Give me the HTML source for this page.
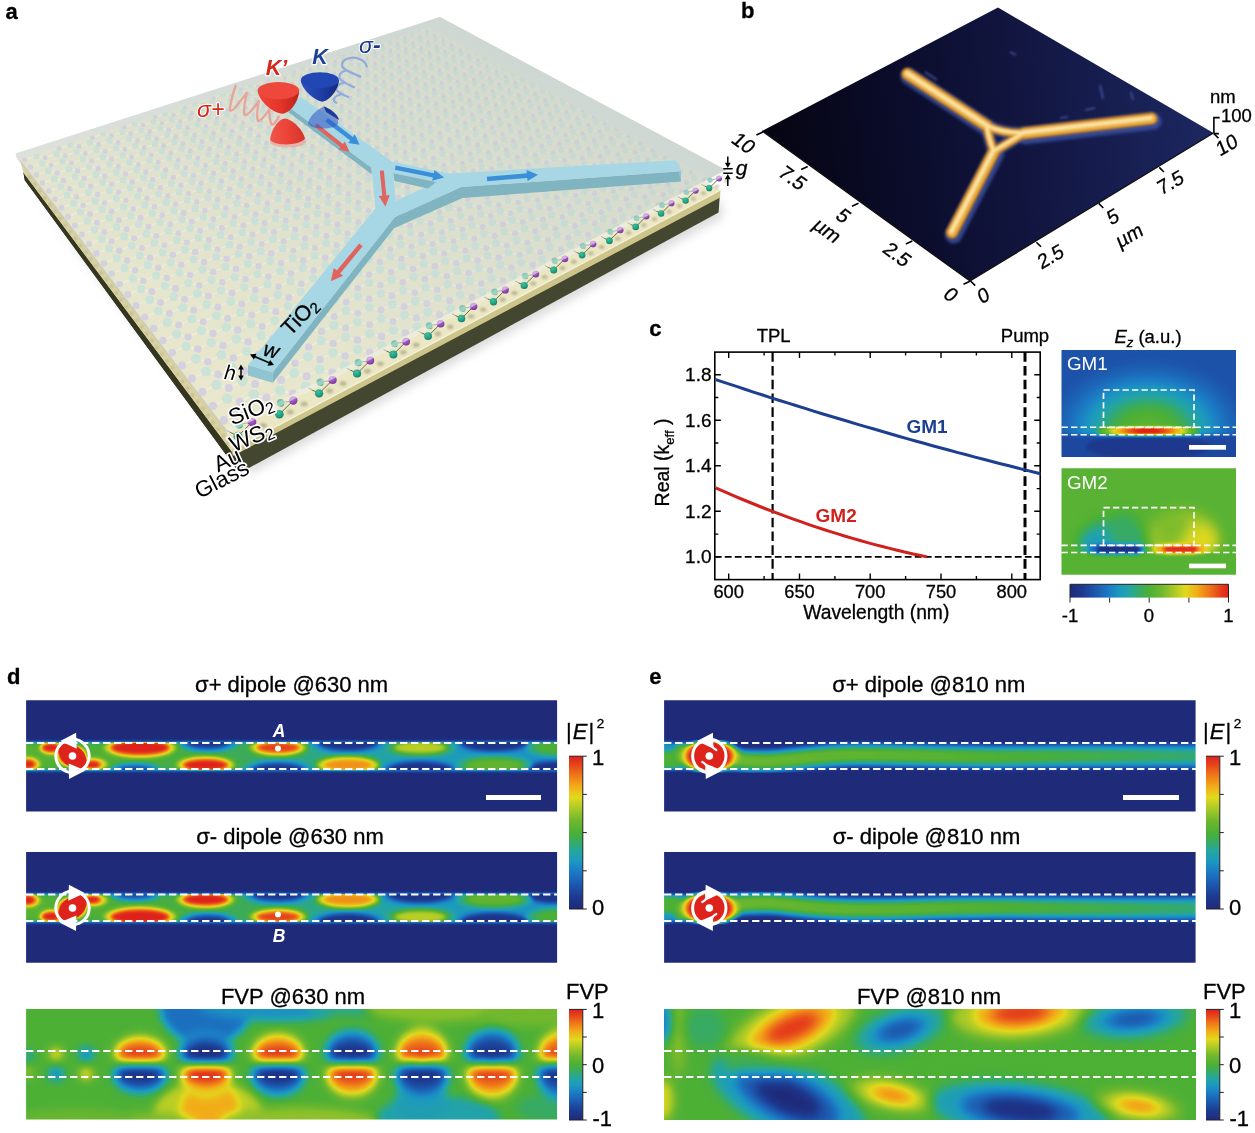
<!DOCTYPE html>
<html><head><meta charset="utf-8"><title>Figure</title>
<style>html,body{margin:0;padding:0;background:#fff}#fig{position:relative;width:1255px;height:1133px;overflow:hidden;background:#fff}#fig>svg{position:absolute;left:0;top:0}</style>
</head><body><div id="fig">
<svg width="1255" height="1133" viewBox="0 0 1255 1133">
<defs><filter id="cm" x="0" y="0" width="1" height="1" color-interpolation-filters="sRGB"><feComponentTransfer><feFuncR type="table" tableValues="0.122 0.119 0.117 0.114 0.113 0.112 0.110 0.110 0.110 0.110 0.109 0.108 0.106 0.114 0.128 0.142 0.170 0.201 0.233 0.265 0.298 0.342 0.386 0.430 0.498 0.572 0.645 0.720 0.796 0.871 0.904 0.927 0.949 0.944 0.939 0.934 0.923 0.911 0.898 0.884 0.871"/><feFuncG type="table" tableValues="0.165 0.184 0.204 0.224 0.257 0.294 0.330 0.369 0.408 0.447 0.489 0.533 0.578 0.608 0.627 0.647 0.658 0.666 0.674 0.682 0.690 0.700 0.710 0.720 0.739 0.761 0.783 0.805 0.826 0.847 0.802 0.740 0.678 0.609 0.539 0.469 0.397 0.324 0.251 0.192 0.133"/><feFuncB type="table" tableValues="0.478 0.505 0.532 0.559 0.594 0.631 0.668 0.699 0.725 0.752 0.768 0.765 0.762 0.732 0.685 0.637 0.546 0.445 0.356 0.284 0.212 0.202 0.192 0.182 0.174 0.165 0.156 0.145 0.131 0.117 0.108 0.101 0.094 0.097 0.099 0.101 0.103 0.104 0.106 0.108 0.110"/></feComponentTransfer></filter><clipPath id="bandclip2"><rect x="-20" y="39.5" width="600" height="33"/></clipPath><clipPath id="bandclip"><rect x="-20" y="42" width="600" height="28"/></clipPath><linearGradient id="cbv" x1="0" y1="1" x2="0" y2="0"><stop offset="0.00" stop-color="#1f2a7a"/><stop offset="0.08" stop-color="#1d3a90"/><stop offset="0.16" stop-color="#1c58ae"/><stop offset="0.24" stop-color="#1c78c4"/><stop offset="0.31" stop-color="#1b98c2"/><stop offset="0.38" stop-color="#25a6a0"/><stop offset="0.44" stop-color="#38ab62"/><stop offset="0.50" stop-color="#4cb036"/><stop offset="0.58" stop-color="#70b82e"/><stop offset="0.66" stop-color="#acca27"/><stop offset="0.73" stop-color="#e2d91d"/><stop offset="0.80" stop-color="#f2ad18"/><stop offset="0.88" stop-color="#ee741a"/><stop offset="0.95" stop-color="#e5401b"/><stop offset="1.00" stop-color="#de221c"/></linearGradient><linearGradient id="cbh" x1="0" y1="0" x2="1" y2="0"><stop offset="0.00" stop-color="#1f2a7a"/><stop offset="0.08" stop-color="#1d3a90"/><stop offset="0.16" stop-color="#1c58ae"/><stop offset="0.24" stop-color="#1c78c4"/><stop offset="0.31" stop-color="#1b98c2"/><stop offset="0.38" stop-color="#25a6a0"/><stop offset="0.44" stop-color="#38ab62"/><stop offset="0.50" stop-color="#4cb036"/><stop offset="0.58" stop-color="#70b82e"/><stop offset="0.66" stop-color="#acca27"/><stop offset="0.73" stop-color="#e2d91d"/><stop offset="0.80" stop-color="#f2ad18"/><stop offset="0.88" stop-color="#ee741a"/><stop offset="0.95" stop-color="#e5401b"/><stop offset="1.00" stop-color="#de221c"/></linearGradient><filter id="b1_5" x="-0.2" y="-0.5" width="1.4" height="2" color-interpolation-filters="sRGB"><feGaussianBlur stdDeviation="1.5"/></filter><filter id="b2" x="-0.2" y="-0.5" width="1.4" height="2" color-interpolation-filters="sRGB"><feGaussianBlur stdDeviation="2"/></filter><filter id="b3" x="-0.2" y="-0.5" width="1.4" height="2" color-interpolation-filters="sRGB"><feGaussianBlur stdDeviation="3"/></filter><filter id="b4" x="-0.2" y="-0.5" width="1.4" height="2" color-interpolation-filters="sRGB"><feGaussianBlur stdDeviation="4"/></filter><filter id="b6" x="-0.2" y="-0.5" width="1.4" height="2" color-interpolation-filters="sRGB"><feGaussianBlur stdDeviation="6"/></filter><filter id="b9" x="-0.2" y="-0.5" width="1.4" height="2" color-interpolation-filters="sRGB"><feGaussianBlur stdDeviation="9"/></filter><linearGradient id="g630" gradientUnits="userSpaceOnUse" x1="0" x2="531" y1="0" y2="0"><stop offset="0" stop-color="#858585"/><stop offset="0.35" stop-color="#787878"/><stop offset="0.6" stop-color="#636363"/><stop offset="0.8" stop-color="#545454"/><stop offset="1" stop-color="#4a4a4a"/></linearGradient><linearGradient id="g810" gradientUnits="userSpaceOnUse" x1="0" x2="531" y1="0" y2="0"><stop offset="0" stop-color="#5c5c5c"/><stop offset="0.6" stop-color="#545454"/><stop offset="1" stop-color="#474747"/></linearGradient><linearGradient id="g810b" gradientUnits="userSpaceOnUse" x1="0" x2="531" y1="0" y2="0"><stop offset="0" stop-color="#949494"/><stop offset="0.5" stop-color="#878787"/><stop offset="0.8" stop-color="#787878"/><stop offset="1" stop-color="#6b6b6b"/></linearGradient><filter id="ablur1" x="-0.3" y="-0.3" width="1.6" height="1.6"><feGaussianBlur stdDeviation="1"/></filter><filter id="ablur05" x="-0.1" y="-0.1" width="1.2" height="1.2"><feGaussianBlur stdDeviation="0.6"/></filter><filter id="ablur4" x="-0.3" y="-0.3" width="1.6" height="1.6"><feGaussianBlur stdDeviation="5"/></filter><filter id="halo" x="-0.3" y="-0.3" width="1.6" height="1.6"><feGaussianBlur stdDeviation="1.2"/></filter><radialGradient id="gteal" cx="0.4" cy="0.3" r="0.8"><stop offset="0" stop-color="#3cc0a2"/><stop offset="0.6" stop-color="#1f9e82"/><stop offset="1" stop-color="#14705c"/></radialGradient><radialGradient id="gpurp" cx="0.4" cy="0.3" r="0.8"><stop offset="0" stop-color="#b36ad6"/><stop offset="0.6" stop-color="#9448b8"/><stop offset="1" stop-color="#6a2f8a"/></radialGradient><linearGradient id="gredcone" x1="0" x2="1" y1="0" y2="0"><stop offset="0" stop-color="#f0453a"/><stop offset="0.55" stop-color="#e53429"/><stop offset="1" stop-color="#b8241c"/></linearGradient><linearGradient id="gredcone2" x1="0" x2="1" y1="0" y2="0"><stop offset="0" stop-color="#f0564a"/><stop offset="0.5" stop-color="#ec4338"/><stop offset="1" stop-color="#d4352b"/></linearGradient><linearGradient id="gbluecone" x1="0" x2="1" y1="0" y2="0"><stop offset="0" stop-color="#2a52c0"/><stop offset="0.5" stop-color="#1f40a8"/><stop offset="1" stop-color="#15297a"/></linearGradient><clipPath id="latclip"><polygon points="19.8,158.9 428.1,27.6 709.8,178.4 226,429"/></clipPath><clipPath id="sio2clip"><polygon points="15.6,153.4 440.0,17.0 726.0,170.0 226.0,429.0"/></clipPath><linearGradient id="gsio2" gradientUnits="userSpaceOnUse" x1="440" y1="17" x2="240" y2="440"><stop offset="0" stop-color="#c9d3cf" stop-opacity="0.74"/><stop offset="0.45" stop-color="#d2dad6" stop-opacity="0.55"/><stop offset="1" stop-color="#e6e9e0" stop-opacity="0.30"/></linearGradient><linearGradient id="afmbg" gradientUnits="userSpaceOnUse" x1="770" y1="150" x2="1200" y2="100"><stop offset="0" stop-color="#050512"/><stop offset="0.3" stop-color="#0b0c2a"/><stop offset="0.6" stop-color="#121641"/><stop offset="1" stop-color="#1c2760"/></linearGradient><filter id="afmblur" x="-0.1" y="-0.1" width="1.2" height="1.2"><feGaussianBlur stdDeviation="1.6"/></filter><filter id="afmblur1" x="-0.1" y="-0.1" width="1.2" height="1.2"><feGaussianBlur stdDeviation="0.9"/></filter><clipPath id="afmclip"><polygon points="762,131 998,7.5 1213.5,133 970,281"/></clipPath><clipPath id="cplot"><rect x="715.5" y="352" width="325" height="227.5"/></clipPath><radialGradient id="gm1glow" cx="0.5" cy="0.5" r="0.5"><stop offset="0" stop-color="#8a8a8a"/><stop offset="0.28" stop-color="#808080"/><stop offset="0.45" stop-color="#666666"/><stop offset="0.62" stop-color="#4c4c4c"/><stop offset="0.82" stop-color="#333333"/><stop offset="1" stop-color="#262626"/></radialGradient><linearGradient id="gm1hot" x1="0" x2="1" y1="0" y2="0"><stop offset="0" stop-color="#737373"/><stop offset="0.1" stop-color="#999999"/><stop offset="0.17" stop-color="#bdbdbd"/><stop offset="0.3" stop-color="#e6e6e6"/><stop offset="0.42" stop-color="#ffffff"/><stop offset="0.58" stop-color="#ffffff"/><stop offset="0.7" stop-color="#e6e6e6"/><stop offset="0.83" stop-color="#bdbdbd"/><stop offset="0.9" stop-color="#999999"/><stop offset="1" stop-color="#737373"/></linearGradient></defs>
<text x="5.5" y="18.6" font-family="Liberation Sans, sans-serif" font-size="22" font-weight="bold" fill="#000" stroke="#000" stroke-width="0.3">a</text><polygon points="30.0,190.0 250.0,474.0 722.0,218.0 722.0,200.0 250.0,450.0" fill="#9a9a9a" opacity="0.35" filter="url(#ablur4)"/><polygon points="15.6,153.4 440.0,17.0 726.0,170.0 226.0,429.0" fill="#dfe2dd"/><polygon points="23.4,172.5 24.8,180.2 238.0,471.0 248.1,468.4 718.6,212.5 720.2,190.0" fill="#44472f"/><polygon points="23.4,172.5 231.0,450.5 233.0,456.0 248.1,468.4 238.0,471.0 24.8,180.2" fill="#34361f"/><polygon points="231.0,450.5 720.2,190.1 720.2,197.5 233.0,456.0" fill="#cdc48c"/><polygon points="23.4,172.5 440.0,31.0 720.2,190.1 231.0,450.5 23.4,172.5" fill="#ebe7c4"/><path d="M231,450.5 L720.2,190.1" stroke="#f7f4da" stroke-width="1.2"/><polygon points="23.4,172.5 231.0,450.5 226.0,429.0 19.8,158.9" fill="#dbd3a3"/><path d="M28.5,176 L236.0,452.5" stroke="#a89f70" stroke-width="3" stroke-dasharray="3.5 5" fill="none" opacity="0.5" filter="url(#ablur1)"/><polygon points="19.8,158.9 428.1,27.6 709.8,178.4 226,429" fill="#ebe7c4"/><g clip-path="url(#latclip)"><g filter="url(#ablur05)"><path d="M36.4,155.9L24.8,159.8M36.4,155.9L45.1,157.7M56.5,153.9L45.1,157.7M56.5,153.9L65.2,155.7M56.5,153.9L59.2,148.4M42.3,163.4L30.5,167.3M42.3,163.4L51.1,165.2M42.3,163.4L45.1,157.7M62.6,161.3L51.1,165.2M62.6,161.3L71.4,163.1M62.6,161.3L65.2,155.7M48.2,171.0L36.4,175.0M48.2,171.0L57.2,172.9M48.2,171.0L51.1,165.2M68.8,168.9L57.2,172.9M68.8,168.9L77.7,170.7M68.8,168.9L71.4,163.1M54.4,178.8L42.5,182.9M54.4,178.8L63.4,180.7M54.4,178.8L57.2,172.9M75.2,176.6L63.4,180.7M75.2,176.6L84.2,178.5M75.2,176.6L77.7,170.7M60.7,186.8L48.7,191.0M60.7,186.8L69.8,188.7M60.7,186.8L63.4,180.7M81.7,184.5L69.8,188.7M81.7,184.5L90.8,186.5M81.7,184.5L84.2,178.5M67.1,195.0L55.0,199.3M67.1,195.0L76.4,196.9M67.1,195.0L69.8,188.7M88.3,192.6L76.4,196.9M88.3,192.6L97.6,194.6M88.3,192.6L90.8,186.5M73.7,203.3L61.5,207.8M73.7,203.3L83.1,205.4M73.7,203.3L76.4,196.9M95.1,201.0L83.1,205.4M95.1,201.0L104.6,203.0M95.1,201.0L97.6,194.6M80.4,211.9L68.1,216.5M80.4,211.9L90.0,214.0M80.4,211.9L83.1,205.4M102.1,209.5L90.0,214.0M102.1,209.5L111.7,211.5M102.1,209.5L104.6,203.0M87.4,220.7L74.9,225.4M87.4,220.7L97.0,222.8M87.4,220.7L90.0,214.0M109.3,218.2L97.0,222.8M109.3,218.2L119.0,220.3M109.3,218.2L111.7,211.5M94.4,229.7L81.9,234.5M94.4,229.7L104.3,231.9M94.4,229.7L97.0,222.8M116.6,227.1L104.3,231.9M116.6,227.1L126.5,229.3M116.6,227.1L119.0,220.3M101.7,239.0L89.1,243.9M101.7,239.0L111.7,241.2M101.7,239.0L104.3,231.9M124.1,236.3L111.7,241.2M124.1,236.3L134.1,238.5M124.1,236.3L126.5,229.3M109.2,248.4L96.4,253.5M109.2,248.4L119.3,250.7M109.2,248.4L111.7,241.2M131.8,245.7L119.3,250.7M131.8,245.7L142.0,248.0M131.8,245.7L134.1,238.5M116.8,258.2L104.0,263.4M116.8,258.2L127.1,260.5M116.8,258.2L119.3,250.7M139.8,255.4L127.1,260.5M139.8,255.4L150.1,257.7M139.8,255.4L142.0,248.0M124.7,268.2L111.7,273.5M124.7,268.2L135.1,270.6M124.7,268.2L127.1,260.5M147.9,265.3L135.1,270.6M147.9,265.3L158.3,267.7M147.9,265.3L150.1,257.7M132.8,278.4L119.7,283.9M132.8,278.4L143.4,280.9M132.8,278.4L135.1,270.6M156.2,275.4L143.4,280.9M156.2,275.4L166.8,277.9M156.2,275.4L158.3,267.7M141.0,289.0L127.8,294.6M141.0,289.0L151.8,291.5M141.0,289.0L143.4,280.9M164.8,285.9L151.8,291.5M164.8,285.9L175.6,288.4M164.8,285.9L166.8,277.9M149.6,299.8L136.2,305.6M149.6,299.8L160.5,302.4M149.6,299.8L151.8,291.5M173.6,296.6L160.5,302.4M173.6,296.6L184.6,299.2M173.6,296.6L175.6,288.4M158.3,310.9L144.9,316.9M158.3,310.9L169.4,313.6M158.3,310.9L160.5,302.4M182.6,307.7L169.4,313.6M182.6,307.7L193.8,310.3M182.6,307.7L184.6,299.2M167.3,322.3L153.8,328.5M167.3,322.3L178.6,325.1M167.3,322.3L169.4,313.6M191.9,319.0L178.6,325.1M191.9,319.0L203.3,321.7M191.9,319.0L193.8,310.3M176.6,334.1L162.9,340.5M176.6,334.1L188.1,337.0M176.6,334.1L178.6,325.1M201.5,330.7L188.1,337.0M201.5,330.7L213.0,333.5M201.5,330.7L203.3,321.7M186.1,346.2L172.3,352.8M186.1,346.2L197.8,349.1M186.1,346.2L188.1,337.0M211.3,342.7L197.8,349.1M211.3,342.7L223.1,345.6M211.3,342.7L213.0,333.5M195.9,358.7L182.0,365.5M195.9,358.7L207.8,361.7M195.9,358.7L197.8,349.1M221.5,355.0L207.8,361.7M221.5,355.0L233.4,358.0M221.5,355.0L223.1,345.6M206.0,371.6L192.0,378.5M206.0,371.6L218.2,374.6M206.0,371.6L207.8,361.7M231.9,367.8L218.2,374.6M231.9,367.8L244.1,370.8M231.9,367.8L233.4,358.0M216.5,384.8L202.3,392.0M216.5,384.8L228.8,388.0M216.5,384.8L218.2,374.6M242.7,380.9L228.8,388.0M242.7,380.9L255.1,384.0M242.7,380.9L244.1,370.8M227.2,398.5L212.9,405.9M227.2,398.5L239.8,401.7M227.2,398.5L228.8,388.0M253.8,394.4L239.8,401.7M253.8,394.4L266.4,397.6M253.8,394.4L255.1,384.0M238.3,412.5L223.8,420.2M238.3,412.5L251.1,415.9M238.3,412.5L239.8,401.7M265.2,408.3L251.1,415.9M265.2,408.3L278.1,411.7M265.2,408.3L266.4,397.6M249.7,427.1L235.1,435.0M249.7,427.1L262.8,430.6M249.7,427.1L251.1,415.9M277.0,422.7L262.8,430.6M277.0,422.7L278.1,411.7M70.4,144.7L59.2,148.4M70.4,144.7L79.0,146.4M90.0,142.8L79.0,146.4M90.0,142.8L98.6,144.5M90.0,142.8L92.3,137.5M76.5,151.9L65.2,155.7M76.5,151.9L85.2,153.6M76.5,151.9L79.0,146.4M96.3,149.9L85.2,153.6M96.3,149.9L105.1,151.6M96.3,149.9L98.6,144.5M82.8,159.2L71.4,163.1M82.8,159.2L91.6,161.0M82.8,159.2L85.2,153.6M102.8,157.2L91.6,161.0M102.8,157.2L111.7,159.0M102.8,157.2L105.1,151.6M89.2,166.7L77.7,170.7M89.2,166.7L98.2,168.6M89.2,166.7L91.6,161.0M109.4,164.6L98.2,168.6M109.4,164.6L118.4,166.5M109.4,164.6L111.7,159.0M95.8,174.4L84.2,178.5M95.8,174.4L104.8,176.3M95.8,174.4L98.2,168.6M116.2,172.3L104.8,176.3M116.2,172.3L125.3,174.1M116.2,172.3L118.4,166.5M102.5,182.3L90.8,186.5M102.5,182.3L111.7,184.2M102.5,182.3L104.8,176.3M123.1,180.1L111.7,184.2M123.1,180.1L132.3,182.0M123.1,180.1L125.3,174.1M109.4,190.4L97.6,194.6M109.4,190.4L118.7,192.3M109.4,190.4L111.7,184.2M130.2,188.1L118.7,192.3M130.2,188.1L139.6,190.0M130.2,188.1L132.3,182.0M116.4,198.6L104.6,203.0M116.4,198.6L125.9,200.6M116.4,198.6L118.7,192.3M137.5,196.3L125.9,200.6M137.5,196.3L147.0,198.3M137.5,196.3L139.6,190.0M123.6,207.1L111.7,211.5M123.6,207.1L133.2,209.1M123.6,207.1L125.9,200.6M144.9,204.7L133.2,209.1M144.9,204.7L154.5,206.7M144.9,204.7L147.0,198.3M131.0,215.7L119.0,220.3M131.0,215.7L140.7,217.8M131.0,215.7L133.2,209.1M152.5,213.3L140.7,217.8M152.5,213.3L162.3,215.3M152.5,213.3L154.5,206.7M138.6,224.6L126.5,229.3M138.6,224.6L148.4,226.7M138.6,224.6L140.7,217.8M160.3,222.1L148.4,226.7M160.3,222.1L170.2,224.2M160.3,222.1L162.3,215.3M146.3,233.7L134.1,238.5M146.3,233.7L156.4,235.9M146.3,233.7L148.4,226.7M168.4,231.1L156.4,235.9M168.4,231.1L178.4,233.3M168.4,231.1L170.2,224.2M154.3,243.0L142.0,248.0M154.3,243.0L164.5,245.3M154.3,243.0L156.4,235.9M176.6,240.3L164.5,245.3M176.6,240.3L186.8,242.6M176.6,240.3L178.4,233.3M162.5,252.6L150.1,257.7M162.5,252.6L172.8,254.9M162.5,252.6L164.5,245.3M185.0,249.8L172.8,254.9M185.0,249.8L195.3,252.1M185.0,249.8L186.8,242.6M170.9,262.4L158.3,267.7M170.9,262.4L181.3,264.8M170.9,262.4L172.8,254.9M193.6,259.6L181.3,264.8M193.6,259.6L204.1,261.9M193.6,259.6L195.3,252.1M179.5,272.5L166.8,277.9M179.5,272.5L190.1,274.9M179.5,272.5L181.3,264.8M202.5,269.6L190.1,274.9M202.5,269.6L213.2,272.0M202.5,269.6L204.1,261.9M188.3,282.9L175.6,288.4M188.3,282.9L199.1,285.4M188.3,282.9L190.1,274.9M211.6,279.9L199.1,285.4M211.6,279.9L222.4,282.3M211.6,279.9L213.2,272.0M197.4,293.5L184.6,299.2M197.4,293.5L208.4,296.1M197.4,293.5L199.1,285.4M221.0,290.4L208.4,296.1M221.0,290.4L232.0,292.9M221.0,290.4L222.4,282.3M206.7,304.4L193.8,310.3M206.7,304.4L217.9,307.1M206.7,304.4L208.4,296.1M230.6,301.2L217.9,307.1M230.6,301.2L241.8,303.9M230.6,301.2L232.0,292.9M216.3,315.7L203.3,321.7M216.3,315.7L227.7,318.4M216.3,315.7L217.9,307.1M240.5,312.4L227.7,318.4M240.5,312.4L251.8,315.1M240.5,312.4L241.8,303.9M226.2,327.2L213.0,333.5M226.2,327.2L237.7,330.0M226.2,327.2L227.7,318.4M250.6,323.8L237.7,330.0M250.6,323.8L262.2,326.6M250.6,323.8L251.8,315.1M236.3,339.1L223.1,345.6M236.3,339.1L248.1,342.0M236.3,339.1L237.7,330.0M261.1,335.6L248.1,342.0M261.1,335.6L272.9,338.5M261.1,335.6L262.2,326.6M246.8,351.4L233.4,358.0M246.8,351.4L258.8,354.3M246.8,351.4L248.1,342.0M271.8,347.8L258.8,354.3M271.8,347.8L283.8,350.7M271.8,347.8L272.9,338.5M257.5,364.0L244.1,370.8M257.5,364.0L269.7,367.0M257.5,364.0L258.8,354.3M282.9,360.3L269.7,367.0M282.9,360.3L295.1,363.3M282.9,360.3L283.8,350.7M268.6,377.0L255.1,384.0M268.6,377.0L281.0,380.1M268.6,377.0L269.7,367.0M294.3,373.1L281.0,380.1M294.3,373.1L306.7,376.2M294.3,373.1L295.1,363.3M280.1,390.4L266.4,397.6M280.1,390.4L292.7,393.6M280.1,390.4L281.0,380.1M306.1,386.4L292.7,393.6M306.1,386.4L318.7,389.6M306.1,386.4L306.7,376.2M291.8,404.2L278.1,411.7M291.8,404.2L304.7,407.5M291.8,404.2L292.7,393.6M318.2,400.1L304.7,407.5M318.2,400.1L318.7,389.6M103.1,133.9L92.3,137.5M103.1,133.9L111.7,135.6M122.3,132.0L111.7,135.6M122.3,132.0L130.8,133.7M122.3,132.0L124.3,126.9M109.5,140.8L98.6,144.5M109.5,140.8L118.1,142.5M109.5,140.8L111.7,135.6M128.8,138.9L118.1,142.5M128.8,138.9L137.5,140.6M128.8,138.9L130.8,133.7M116.0,147.9L105.1,151.6M116.0,147.9L124.8,149.6M116.0,147.9L118.1,142.5M135.5,145.9L124.8,149.6M135.5,145.9L144.3,147.7M135.5,145.9L137.5,140.6M122.7,155.2L111.7,159.0M122.7,155.2L131.6,156.9M122.7,155.2L124.8,149.6M142.4,153.1L131.6,156.9M142.4,153.1L151.3,154.9M142.4,153.1L144.3,147.7M129.5,162.6L118.4,166.5M129.5,162.6L138.5,164.4M129.5,162.6L131.6,156.9M149.4,160.5L138.5,164.4M149.4,160.5L158.4,162.3M149.4,160.5L151.3,154.9M136.5,170.1L125.3,174.1M136.5,170.1L145.6,172.0M136.5,170.1L138.5,164.4M156.6,168.0L145.6,172.0M156.6,168.0L165.7,169.9M156.6,168.0L158.4,162.3M143.6,177.9L132.3,182.0M143.6,177.9L152.8,179.8M143.6,177.9L145.6,172.0M163.9,175.7L152.8,179.8M163.9,175.7L173.2,177.6M163.9,175.7L165.7,169.9M150.9,185.8L139.6,190.0M150.9,185.8L160.3,187.8M150.9,185.8L152.8,179.8M171.4,183.6L160.3,187.8M171.4,183.6L180.8,185.5M171.4,183.6L173.2,177.6M158.4,194.0L147.0,198.3M158.4,194.0L167.9,195.9M158.4,194.0L160.3,187.8M179.1,191.7L167.9,195.9M179.1,191.7L188.6,193.6M179.1,191.7L180.8,185.5M166.1,202.3L154.5,206.7M166.1,202.3L175.7,204.3M166.1,202.3L167.9,195.9M187.0,199.9L175.7,204.3M187.0,199.9L196.7,201.9M187.0,199.9L188.6,193.6M173.9,210.8L162.3,215.3M173.9,210.8L183.7,212.9M173.9,210.8L175.7,204.3M195.1,208.4L183.7,212.9M195.1,208.4L204.9,210.4M195.1,208.4L196.7,201.9M181.9,219.5L170.2,224.2M181.9,219.5L191.8,221.7M181.9,219.5L183.7,212.9M203.4,217.1L191.8,221.7M203.4,217.1L213.3,219.2M203.4,217.1L204.9,210.4M190.2,228.5L178.4,233.3M190.2,228.5L200.2,230.7M190.2,228.5L191.8,221.7M211.8,225.9L200.2,230.7M211.8,225.9L221.9,228.1M211.8,225.9L213.3,219.2M198.6,237.7L186.8,242.6M198.6,237.7L208.8,239.9M198.6,237.7L200.2,230.7M220.5,235.1L208.8,239.9M220.5,235.1L230.7,237.3M220.5,235.1L221.9,228.1M207.3,247.1L195.3,252.1M207.3,247.1L217.7,249.4M207.3,247.1L208.8,239.9M229.4,244.4L217.7,249.4M229.4,244.4L239.8,246.7M229.4,244.4L230.7,237.3M216.2,256.8L204.1,261.9M216.2,256.8L226.7,259.1M216.2,256.8L217.7,249.4M238.6,254.0L226.7,259.1M238.6,254.0L249.1,256.3M238.6,254.0L239.8,246.7M225.3,266.7L213.2,272.0M225.3,266.7L236.0,269.1M225.3,266.7L226.7,259.1M247.9,263.8L236.0,269.1M247.9,263.8L258.6,266.2M247.9,263.8L249.1,256.3M234.7,276.9L222.4,282.3M234.7,276.9L245.5,279.3M234.7,276.9L236.0,269.1M257.6,273.9L245.5,279.3M257.6,273.9L268.4,276.4M257.6,273.9L258.6,266.2M244.3,287.3L232.0,292.9M244.3,287.3L255.3,289.9M244.3,287.3L245.5,279.3M267.5,284.3L255.3,289.9M267.5,284.3L278.5,286.8M267.5,284.3L268.4,276.4M254.2,298.1L241.8,303.9M254.2,298.1L265.4,300.7M254.2,298.1L255.3,289.9M277.6,295.0L265.4,300.7M277.6,295.0L288.8,297.5M277.6,295.0L278.5,286.8M264.4,309.1L251.8,315.1M264.4,309.1L275.8,311.8M264.4,309.1L265.4,300.7M288.1,305.9L275.8,311.8M288.1,305.9L299.5,308.5M288.1,305.9L288.8,297.5M274.8,320.5L262.2,326.6M274.8,320.5L286.4,323.2M274.8,320.5L275.8,311.8M298.8,317.2L286.4,323.2M298.8,317.2L310.4,319.9M298.8,317.2L299.5,308.5M285.6,332.2L272.9,338.5M285.6,332.2L297.4,335.0M285.6,332.2L286.4,323.2M309.8,328.7L297.4,335.0M309.8,328.7L321.6,331.5M309.8,328.7L310.4,319.9M296.6,344.2L283.8,350.7M296.6,344.2L308.6,347.1M296.6,344.2L297.4,335.0M321.2,340.6L308.6,347.1M321.2,340.6L333.2,343.5M321.2,340.6L321.6,331.5M308.0,356.6L295.1,363.3M308.0,356.6L320.2,359.5M308.0,356.6L308.6,347.1M332.9,352.9L320.2,359.5M332.9,352.9L345.1,355.9M332.9,352.9L333.2,343.5M319.7,369.3L306.7,376.2M319.7,369.3L332.2,372.4M319.7,369.3L320.2,359.5M344.9,365.5L332.2,372.4M344.9,365.5L357.4,368.6M344.9,365.5L345.1,355.9M331.8,382.4L318.7,389.6M331.8,382.4L344.5,385.6M331.8,382.4L332.2,372.4M357.3,378.5L344.5,385.6M357.3,378.5L357.4,368.6M134.7,123.5L124.3,126.9M134.7,123.5L143.1,125.1M153.4,121.7L143.1,125.1M153.4,121.7L161.8,123.3M153.4,121.7L155.1,116.7M141.3,130.2L130.8,133.7M141.3,130.2L149.8,131.8M141.3,130.2L143.1,125.1M160.2,128.3L149.8,131.8M160.2,128.3L168.7,130.0M160.2,128.3L161.8,123.3M148.0,137.0L137.5,140.6M148.0,137.0L156.7,138.7M148.0,137.0L149.8,131.8M167.1,135.1L156.7,138.7M167.1,135.1L175.8,136.8M167.1,135.1L168.7,130.0M154.9,144.0L144.3,147.7M154.9,144.0L163.7,145.7M154.9,144.0L156.7,138.7M174.2,142.1L163.7,145.7M174.2,142.1L182.9,143.8M174.2,142.1L175.8,136.8M162.0,151.1L151.3,154.9M162.0,151.1L170.9,152.9M162.0,151.1L163.7,145.7M181.4,149.1L170.9,152.9M181.4,149.1L190.3,150.9M181.4,149.1L182.9,143.8M169.2,158.4L158.4,162.3M169.2,158.4L178.2,160.2M169.2,158.4L170.9,152.9M188.8,156.4L178.2,160.2M188.8,156.4L197.8,158.2M188.8,156.4L190.3,150.9M176.6,165.9L165.7,169.9M176.6,165.9L185.7,167.7M176.6,165.9L178.2,160.2M196.4,163.8L185.7,167.7M196.4,163.8L205.5,165.6M196.4,163.8L197.8,158.2M184.1,173.6L173.2,177.6M184.1,173.6L193.4,175.4M184.1,173.6L185.7,167.7M204.1,171.4L193.4,175.4M204.1,171.4L213.4,173.3M204.1,171.4L205.5,165.6M191.8,181.4L180.8,185.5M191.8,181.4L201.2,183.3M191.8,181.4L193.4,175.4M212.0,179.2L201.2,183.3M212.0,179.2L221.4,181.1M212.0,179.2L213.4,173.3M199.7,189.4L188.6,193.6M199.7,189.4L209.2,191.3M199.7,189.4L201.2,183.3M220.1,187.1L209.2,191.3M220.1,187.1L229.7,189.1M220.1,187.1L221.4,181.1M207.8,197.6L196.7,201.9M207.8,197.6L217.5,199.6M207.8,197.6L209.2,191.3M228.4,195.3L217.5,199.6M228.4,195.3L238.1,197.3M228.4,195.3L229.7,189.1M216.1,206.0L204.9,210.4M216.1,206.0L225.9,208.0M216.1,206.0L217.5,199.6M236.9,203.6L225.9,208.0M236.9,203.6L246.7,205.6M236.9,203.6L238.1,197.3M224.6,214.6L213.3,219.2M224.6,214.6L234.5,216.7M224.6,214.6L225.9,208.0M245.6,212.1L234.5,216.7M245.6,212.1L255.6,214.2M245.6,212.1L246.7,205.6M233.3,223.4L221.9,228.1M233.3,223.4L243.4,225.5M233.3,223.4L234.5,216.7M254.6,220.9L243.4,225.5M254.6,220.9L264.7,223.0M254.6,220.9L255.6,214.2M242.2,232.4L230.7,237.3M242.2,232.4L252.4,234.6M242.2,232.4L243.4,225.5M263.7,229.9L252.4,234.6M263.7,229.9L274.0,232.0M263.7,229.9L264.7,223.0M251.3,241.7L239.8,246.7M251.3,241.7L261.7,244.0M251.3,241.7L252.4,234.6M273.1,239.1L261.7,244.0M273.1,239.1L283.5,241.3M273.1,239.1L274.0,232.0M260.7,251.2L249.1,256.3M260.7,251.2L271.3,253.5M260.7,251.2L261.7,244.0M282.7,248.5L271.3,253.5M282.7,248.5L293.3,250.8M282.7,248.5L283.5,241.3M270.4,261.0L258.6,266.2M270.4,261.0L281.1,263.3M270.4,261.0L271.3,253.5M292.6,258.2L281.1,263.3M292.6,258.2L303.3,260.5M292.6,258.2L293.3,250.8M280.2,271.0L268.4,276.4M280.2,271.0L291.1,273.4M280.2,271.0L281.1,263.3M302.7,268.1L291.1,273.4M302.7,268.1L313.6,270.5M302.7,268.1L303.3,260.5M290.4,281.3L278.5,286.8M290.4,281.3L301.4,283.8M290.4,281.3L291.1,273.4M313.1,278.3L301.4,283.8M313.1,278.3L324.2,280.8M313.1,278.3L313.6,270.5M300.8,291.8L288.8,297.5M300.8,291.8L312.1,294.4M300.8,291.8L301.4,283.8M323.8,288.8L312.1,294.4M323.8,288.8L335.0,291.3M323.8,288.8L324.2,280.8M311.5,302.7L299.5,308.5M311.5,302.7L322.9,305.3M311.5,302.7L312.1,294.4M334.8,299.5L322.9,305.3M334.8,299.5L346.2,302.1M334.8,299.5L335.0,291.3M322.5,313.9L310.4,319.9M322.5,313.9L334.2,316.5M322.5,313.9L322.9,305.3M346.0,310.6L334.2,316.5M346.0,310.6L357.7,313.3M346.0,310.6L346.2,302.1M333.8,325.3L321.6,331.5M333.8,325.3L345.7,328.1M333.8,325.3L334.2,316.5M357.6,322.0L345.7,328.1M357.6,322.0L369.5,324.7M357.6,322.0L357.7,313.3M345.5,337.1L333.2,343.5M345.5,337.1L357.5,340.0M345.5,337.1L345.7,328.1M369.6,333.7L357.5,340.0M369.6,333.7L381.6,336.5M369.6,333.7L369.5,324.7M357.5,349.3L345.1,355.9M357.5,349.3L369.7,352.2M357.5,349.3L357.5,340.0M381.8,345.7L369.7,352.2M381.8,345.7L394.1,348.6M381.8,345.7L381.6,336.5M369.8,361.8L357.4,368.6M369.8,361.8L382.3,364.8M369.8,361.8L369.7,352.2M394.5,358.1L382.3,364.8M394.5,358.1L394.1,348.6M165.1,113.4L155.1,116.7M165.1,113.4L173.5,115.0M183.4,111.7L173.5,115.0M183.4,111.7L191.8,113.2M183.4,111.7L184.8,106.9M171.9,119.9L161.8,123.3M171.9,119.9L180.4,121.5M171.9,119.9L173.5,115.0M190.3,118.1L180.4,121.5M190.3,118.1L198.8,119.7M190.3,118.1L191.8,113.2M178.9,126.5L168.7,130.0M178.9,126.5L187.5,128.1M178.9,126.5L180.4,121.5M197.5,124.7L187.5,128.1M197.5,124.7L206.1,126.3M197.5,124.7L198.8,119.7M186.0,133.2L175.8,136.8M186.0,133.2L194.7,134.9M186.0,133.2L187.5,128.1M204.7,131.4L194.7,134.9M204.7,131.4L213.4,133.0M204.7,131.4L206.1,126.3M193.2,140.1L182.9,143.8M193.2,140.1L202.0,141.8M193.2,140.1L194.7,134.9M212.2,138.2L202.0,141.8M212.2,138.2L221.0,139.9M212.2,138.2L213.4,133.0M200.7,147.2L190.3,150.9M200.7,147.2L209.6,148.9M200.7,147.2L202.0,141.8M219.8,145.2L209.6,148.9M219.8,145.2L228.7,146.9M219.8,145.2L221.0,139.9M208.2,154.4L197.8,158.2M208.2,154.4L217.3,156.1M208.2,154.4L209.6,148.9M227.6,152.4L217.3,156.1M227.6,152.4L236.6,154.1M227.6,152.4L228.7,146.9M216.0,161.7L205.5,165.6M216.0,161.7L225.2,163.5M216.0,161.7L217.3,156.1M235.5,159.7L225.2,163.5M235.5,159.7L244.7,161.5M235.5,159.7L236.6,154.1M223.9,169.3L213.4,173.3M223.9,169.3L233.2,171.1M223.9,169.3L225.2,163.5M243.6,167.2L233.2,171.1M243.6,167.2L252.9,169.0M243.6,167.2L244.7,161.5M232.1,177.0L221.4,181.1M232.1,177.0L241.5,178.9M232.1,177.0L233.2,171.1M251.9,174.8L241.5,178.9M251.9,174.8L261.4,176.7M251.9,174.8L252.9,169.0M240.4,184.9L229.7,189.1M240.4,184.9L249.9,186.8M240.4,184.9L241.5,178.9M260.4,182.7L249.9,186.8M260.4,182.7L270.0,184.6M260.4,182.7L261.4,176.7M248.9,193.0L238.1,197.3M248.9,193.0L258.6,194.9M248.9,193.0L249.9,186.8M269.2,190.7L258.6,194.9M269.2,190.7L278.8,192.6M269.2,190.7L270.0,184.6M257.6,201.2L246.7,205.6M257.6,201.2L267.4,203.3M257.6,201.2L258.6,194.9M278.1,198.9L267.4,203.3M278.1,198.9L287.9,200.9M278.1,198.9L278.8,192.6M266.5,209.7L255.6,214.2M266.5,209.7L276.5,211.8M266.5,209.7L267.4,203.3M287.2,207.3L276.5,211.8M287.2,207.3L297.2,209.4M287.2,207.3L287.9,200.9M275.6,218.4L264.7,223.0M275.6,218.4L285.8,220.5M275.6,218.4L276.5,211.8M296.6,215.9L285.8,220.5M296.6,215.9L306.7,218.0M296.6,215.9L297.2,209.4M285.0,227.3L274.0,232.0M285.0,227.3L295.3,229.5M285.0,227.3L285.8,220.5M306.2,224.8L295.3,229.5M306.2,224.8L316.4,226.9M306.2,224.8L306.7,218.0M294.6,236.4L283.5,241.3M294.6,236.4L305.0,238.6M294.6,236.4L295.3,229.5M316.0,233.8L305.0,238.6M316.0,233.8L326.4,236.0M316.0,233.8L316.4,226.9M304.5,245.8L293.3,250.8M304.5,245.8L315.1,248.0M304.5,245.8L305.0,238.6M326.1,243.1L315.1,248.0M326.1,243.1L336.7,245.3M326.1,243.1L326.4,236.0M314.6,255.4L303.3,260.5M314.6,255.4L325.3,257.7M314.6,255.4L315.1,248.0M336.4,252.6L325.3,257.7M336.4,252.6L347.2,254.9M336.4,252.6L336.7,245.3M325.0,265.2L313.6,270.5M325.0,265.2L335.9,267.6M325.0,265.2L325.3,257.7M347.0,262.4L335.9,267.6M347.0,262.4L357.9,264.8M347.0,262.4L347.2,254.9M335.6,275.3L324.2,280.8M335.6,275.3L346.7,277.8M335.6,275.3L335.9,267.6M357.9,272.4L346.7,277.8M357.9,272.4L369.0,274.8M357.9,272.4L357.9,264.8M346.5,285.7L335.0,291.3M346.5,285.7L357.8,288.2M346.5,285.7L346.7,277.8M369.1,282.7L357.8,288.2M369.1,282.7L380.4,285.2M369.1,282.7L369.0,274.8M357.8,296.4L346.2,302.1M357.8,296.4L369.2,299.0M357.8,296.4L357.8,288.2M380.6,293.3L369.2,299.0M380.6,293.3L392.1,295.8M380.6,293.3L380.4,285.2M369.3,307.4L357.7,313.3M369.3,307.4L381.0,310.0M369.3,307.4L369.2,299.0M392.4,304.2L381.0,310.0M392.4,304.2L404.1,306.8M392.4,304.2L392.1,295.8M381.2,318.6L369.5,324.7M381.2,318.6L393.0,321.4M381.2,318.6L381.0,310.0M404.5,315.3L393.0,321.4M404.5,315.3L416.4,318.0M404.5,315.3L404.1,306.8M393.4,330.2L381.6,336.5M393.4,330.2L405.5,333.0M393.4,330.2L393.0,321.4M417.0,326.8L405.5,333.0M417.0,326.8L429.1,329.6M417.0,326.8L416.4,318.0M405.9,342.2L394.1,348.6M405.9,342.2L418.2,345.0M405.9,342.2L405.5,333.0M429.8,338.7L418.2,345.0M429.8,338.7L429.1,329.6M194.5,103.7L184.8,106.9M194.5,103.7L202.8,105.2M212.3,102.1L202.8,105.2M212.3,102.1L220.6,103.6M212.3,102.1L213.5,97.4M201.5,110.0L191.8,113.2M201.5,110.0L209.9,111.5M201.5,110.0L202.8,105.2M219.5,108.3L209.9,111.5M219.5,108.3L227.9,109.8M219.5,108.3L220.6,103.6M208.6,116.4L198.8,119.7M208.6,116.4L217.1,117.9M208.6,116.4L209.9,111.5M226.8,114.6L217.1,117.9M226.8,114.6L235.3,116.2M226.8,114.6L227.9,109.8M215.9,122.9L206.1,126.3M215.9,122.9L224.5,124.5M215.9,122.9L217.1,117.9M234.2,121.1L224.5,124.5M234.2,121.1L242.9,122.7M234.2,121.1L235.3,116.2M223.4,129.5L213.4,133.0M223.4,129.5L232.1,131.2M223.4,129.5L224.5,124.5M241.9,127.7L232.1,131.2M241.9,127.7L250.6,129.3M241.9,127.7L242.9,122.7M231.0,136.3L221.0,139.9M231.0,136.3L239.8,138.0M231.0,136.3L232.1,131.2M249.6,134.5L239.8,138.0M249.6,134.5L258.5,136.1M249.6,134.5L250.6,129.3M238.8,143.3L228.7,146.9M238.8,143.3L247.7,145.0M238.8,143.3L239.8,138.0M257.6,141.4L247.7,145.0M257.6,141.4L266.5,143.0M257.6,141.4L258.5,136.1M246.7,150.4L236.6,154.1M246.7,150.4L255.8,152.1M246.7,150.4L247.7,145.0M265.7,148.4L255.8,152.1M265.7,148.4L274.8,150.1M265.7,148.4L266.5,143.0M254.8,157.7L244.7,161.5M254.8,157.7L264.0,159.4M254.8,157.7L255.8,152.1M274.0,155.6L264.0,159.4M274.0,155.6L283.2,157.4M274.0,155.6L274.8,150.1M263.2,165.1L252.9,169.0M263.2,165.1L272.5,166.9M263.2,165.1L264.0,159.4M282.5,163.0L272.5,166.9M282.5,163.0L291.9,164.8M282.5,163.0L283.2,157.4M271.7,172.7L261.4,176.7M271.7,172.7L281.1,174.5M271.7,172.7L272.5,166.9M291.2,170.6L281.1,174.5M291.2,170.6L300.7,172.4M291.2,170.6L291.9,164.8M280.4,180.5L270.0,184.6M280.4,180.5L289.9,182.4M280.4,180.5L281.1,174.5M300.1,178.3L289.9,182.4M300.1,178.3L309.7,180.2M300.1,178.3L300.7,172.4M289.3,188.4L278.8,192.6M289.3,188.4L299.0,190.4M289.3,188.4L289.9,182.4M309.2,186.2L299.0,190.4M309.2,186.2L318.9,188.1M309.2,186.2L309.7,180.2M298.4,196.6L287.9,200.9M298.4,196.6L308.2,198.6M298.4,196.6L299.0,190.4M318.5,194.3L308.2,198.6M318.5,194.3L328.4,196.2M318.5,194.3L318.9,188.1M307.7,204.9L297.2,209.4M307.7,204.9L317.7,207.0M307.7,204.9L308.2,198.6M328.1,202.6L317.7,207.0M328.1,202.6L338.1,204.6M328.1,202.6L328.4,196.2M317.3,213.5L306.7,218.0M317.3,213.5L327.4,215.6M317.3,213.5L317.7,207.0M337.9,211.0L327.4,215.6M337.9,211.0L348.0,213.1M337.9,211.0L338.1,204.6M327.1,222.2L316.4,226.9M327.1,222.2L337.4,224.4M327.1,222.2L327.4,215.6M347.9,219.7L337.4,224.4M347.9,219.7L358.2,221.9M347.9,219.7L348.0,213.1M337.2,231.2L326.4,236.0M337.2,231.2L347.6,233.4M337.2,231.2L337.4,224.4M358.1,228.7L347.6,233.4M358.1,228.7L368.6,230.8M358.1,228.7L358.2,221.9M347.5,240.4L336.7,245.3M347.5,240.4L358.1,242.7M347.5,240.4L347.6,233.4M368.7,237.8L358.1,242.7M368.7,237.8L379.3,240.0M368.7,237.8L368.6,230.8M358.0,249.9L347.2,254.9M358.0,249.9L368.8,252.2M358.0,249.9L358.1,242.7M379.5,247.2L368.8,252.2M379.5,247.2L390.3,249.4M379.5,247.2L379.3,240.0M368.9,259.6L357.9,264.8M368.9,259.6L379.8,261.9M368.9,259.6L368.8,252.2M390.5,256.8L379.8,261.9M390.5,256.8L401.5,259.1M390.5,256.8L390.3,249.4M380.0,269.5L369.0,274.8M380.0,269.5L391.1,271.9M380.0,269.5L379.8,261.9M401.9,266.6L391.1,271.9M401.9,266.6L413.0,269.0M401.9,266.6L401.5,259.1M391.4,279.7L380.4,285.2M391.4,279.7L402.7,282.2M391.4,279.7L391.1,271.9M413.6,276.8L402.7,282.2M413.6,276.8L424.9,279.2M413.6,276.8L413.0,269.0M403.2,290.2L392.1,295.8M403.2,290.2L414.7,292.8M403.2,290.2L402.7,282.2M425.5,287.2L414.7,292.8M425.5,287.2L437.1,289.7M425.5,287.2L424.9,279.2M415.2,301.0L404.1,306.8M415.2,301.0L426.9,303.6M415.2,301.0L414.7,292.8M437.9,297.9L426.9,303.6M437.9,297.9L449.6,300.4M437.9,297.9L437.1,289.7M427.6,312.1L416.4,318.0M427.6,312.1L439.5,314.7M427.6,312.1L426.9,303.6M450.5,308.8L439.5,314.7M450.5,308.8L462.4,311.5M450.5,308.8L449.6,300.4M440.4,323.5L429.1,329.6M440.4,323.5L452.5,326.2M440.4,323.5L439.5,314.7M463.5,320.1L452.5,326.2M463.5,320.1L462.4,311.5M222.9,94.4L213.5,97.4M222.9,94.4L231.1,95.8M240.3,92.7L231.1,95.8M240.3,92.7L248.5,94.2M240.3,92.7L241.3,88.3M230.0,100.4L220.6,103.6M230.0,100.4L238.3,101.9M230.0,100.4L231.1,95.8M247.6,98.8L238.3,101.9M247.6,98.8L255.9,100.2M247.6,98.8L248.5,94.2M237.3,106.6L227.9,109.8M237.3,106.6L245.8,108.1M237.3,106.6L238.3,101.9M255.1,104.9L245.8,108.1M255.1,104.9L263.5,106.4M255.1,104.9L255.9,100.2M244.8,112.9L235.3,116.2M244.8,112.9L253.3,114.4M244.8,112.9L245.8,108.1M262.7,111.1L253.3,114.4M262.7,111.1L271.2,112.7M262.7,111.1L263.5,106.4M252.4,119.3L242.9,122.7M252.4,119.3L261.1,120.9M252.4,119.3L253.3,114.4M270.5,117.5L261.1,120.9M270.5,117.5L279.1,119.1M270.5,117.5L271.2,112.7M260.2,125.9L250.6,129.3M260.2,125.9L268.9,127.5M260.2,125.9L261.1,120.9M278.4,124.1L268.9,127.5M278.4,124.1L287.2,125.7M278.4,124.1L279.1,119.1M268.2,132.6L258.5,136.1M268.2,132.6L277.0,134.2M268.2,132.6L268.9,127.5M286.5,130.7L277.0,134.2M286.5,130.7L295.4,132.4M286.5,130.7L287.2,125.7M276.3,139.4L266.5,143.0M276.3,139.4L285.3,141.1M276.3,139.4L277.0,134.2M294.8,137.5L285.3,141.1M294.8,137.5L303.8,139.2M294.8,137.5L295.4,132.4M284.6,146.5L274.8,150.1M284.6,146.5L293.7,148.2M284.6,146.5L285.3,141.1M303.3,144.5L293.7,148.2M303.3,144.5L312.4,146.2M303.3,144.5L303.8,139.2M293.1,153.6L283.2,157.4M293.1,153.6L302.3,155.4M293.1,153.6L293.7,148.2M312.0,151.6L302.3,155.4M312.0,151.6L321.2,153.4M312.0,151.6L312.4,146.2M301.8,160.9L291.9,164.8M301.8,160.9L311.1,162.7M301.8,160.9L302.3,155.4M320.8,158.9L311.1,162.7M320.8,158.9L330.2,160.7M320.8,158.9L321.2,153.4M310.6,168.4L300.7,172.4M310.6,168.4L320.1,170.3M310.6,168.4L311.1,162.7M329.9,166.3L320.1,170.3M329.9,166.3L339.4,168.2M329.9,166.3L330.2,160.7M319.7,176.1L309.7,180.2M319.7,176.1L329.3,178.0M319.7,176.1L320.1,170.3M339.2,174.0L329.3,178.0M339.2,174.0L348.8,175.8M339.2,174.0L339.4,168.2M329.0,184.0L318.9,188.1M329.0,184.0L338.8,185.9M329.0,184.0L329.3,178.0M348.7,181.7L338.8,185.9M348.7,181.7L358.4,183.6M348.7,181.7L348.8,175.8M338.5,192.0L328.4,196.2M338.5,192.0L348.4,193.9M338.5,192.0L338.8,185.9M358.4,189.7L348.4,193.9M358.4,189.7L368.2,191.7M358.4,189.7L358.4,183.6M348.3,200.2L338.1,204.6M348.3,200.2L358.3,202.2M348.3,200.2L348.4,193.9M368.3,197.9L358.3,202.2M368.3,197.9L378.3,199.9M368.3,197.9L368.2,191.7M358.3,208.6L348.0,213.1M358.3,208.6L368.4,210.7M358.3,208.6L358.3,202.2M378.5,206.2L368.4,210.7M378.5,206.2L388.7,208.3M378.5,206.2L378.3,199.9M368.5,217.3L358.2,221.9M368.5,217.3L378.8,219.4M368.5,217.3L368.4,210.7M388.9,214.8L378.8,219.4M388.9,214.8L399.2,216.9M388.9,214.8L388.7,208.3M379.0,226.1L368.6,230.8M379.0,226.1L389.4,228.3M379.0,226.1L378.8,219.4M399.6,223.6L389.4,228.3M399.6,223.6L410.1,225.7M399.6,223.6L399.2,216.9M389.7,235.2L379.3,240.0M389.7,235.2L400.3,237.4M389.7,235.2L389.4,228.3M410.5,232.6L400.3,237.4M410.5,232.6L421.2,234.8M410.5,232.6L410.1,225.7M400.7,244.5L390.3,249.4M400.7,244.5L411.5,246.7M400.7,244.5L400.3,237.4M421.8,241.8L411.5,246.7M421.8,241.8L432.6,244.0M421.8,241.8L421.2,234.8M412.0,254.0L401.5,259.1M412.0,254.0L423.0,256.3M412.0,254.0L411.5,246.7M433.3,251.3L423.0,256.3M433.3,251.3L444.3,253.6M433.3,251.3L432.6,244.0M423.6,263.8L413.0,269.0M423.6,263.8L434.8,266.2M423.6,263.8L423.0,256.3M445.1,261.0L434.8,266.2M445.1,261.0L456.3,263.3M445.1,261.0L444.3,253.6M435.5,273.8L424.9,279.2M435.5,273.8L446.8,276.3M435.5,273.8L434.8,266.2M457.2,270.9L446.8,276.3M457.2,270.9L468.6,273.3M457.2,270.9L456.3,263.3M447.7,284.2L437.1,289.7M447.7,284.2L459.2,286.6M447.7,284.2L446.8,276.3M469.7,281.2L459.2,286.6M469.7,281.2L481.2,283.6M469.7,281.2L468.6,273.3M460.3,294.7L449.6,300.4M460.3,294.7L472.0,297.3M460.3,294.7L459.2,286.6M482.5,291.7L472.0,297.3M482.5,291.7L494.2,294.2M482.5,291.7L481.2,283.6M473.2,305.6L462.4,311.5M473.2,305.6L485.1,308.3M473.2,305.6L472.0,297.3M495.6,302.5L485.1,308.3M495.6,302.5L494.2,294.2M250.3,85.3L241.3,88.3M250.3,85.3L258.4,86.7M267.3,83.8L258.4,86.7M267.3,83.8L275.5,85.2M267.3,83.8L268.1,79.4M257.6,91.2L248.5,94.2M257.6,91.2L265.8,92.6M257.6,91.2L258.4,86.7M274.8,89.6L265.8,92.6M274.8,89.6L283.0,91.0M274.8,89.6L275.5,85.2M265.1,97.1L255.9,100.2M265.1,97.1L273.4,98.6M265.1,97.1L265.8,92.6M282.4,95.5L273.4,98.6M282.4,95.5L290.7,97.0M282.4,95.5L283.0,91.0M272.7,103.2L263.5,106.4M272.7,103.2L281.1,104.7M272.7,103.2L273.4,98.6M290.2,101.6L281.1,104.7M290.2,101.6L298.6,103.0M290.2,101.6L290.7,97.0M280.5,109.4L271.2,112.7M280.5,109.4L289.0,111.0M280.5,109.4L281.1,104.7M298.1,107.7L289.0,111.0M298.1,107.7L306.6,109.3M298.1,107.7L298.6,103.0M288.4,115.8L279.1,119.1M288.4,115.8L297.0,117.3M288.4,115.8L289.0,111.0M306.2,114.0L297.0,117.3M306.2,114.0L314.9,115.6M306.2,114.0L306.6,109.3M296.5,122.3L287.2,125.7M296.5,122.3L305.3,123.9M296.5,122.3L297.0,117.3M314.5,120.5L305.3,123.9M314.5,120.5L323.2,122.1M314.5,120.5L314.9,115.6M304.8,128.9L295.4,132.4M304.8,128.9L313.7,130.5M304.8,128.9L305.3,123.9M322.9,127.1L313.7,130.5M322.9,127.1L331.8,128.7M322.9,127.1L323.2,122.1M313.3,135.7L303.8,139.2M313.3,135.7L322.2,137.3M313.3,135.7L313.7,130.5M331.5,133.8L322.2,137.3M331.5,133.8L340.5,135.4M331.5,133.8L331.8,128.7M321.9,142.6L312.4,146.2M321.9,142.6L331.0,144.3M321.9,142.6L322.2,137.3M340.3,140.7L331.0,144.3M340.3,140.7L349.5,142.3M340.3,140.7L340.5,135.4M330.7,149.6L321.2,153.4M330.7,149.6L340.0,151.4M330.7,149.6L331.0,144.3M349.4,147.7L340.0,151.4M349.4,147.7L358.6,149.4M349.4,147.7L349.5,142.3M339.8,156.9L330.2,160.7M339.8,156.9L349.1,158.6M339.8,156.9L340.0,151.4M358.6,154.9L349.1,158.6M358.6,154.9L367.9,156.6M358.6,154.9L358.6,149.4M349.0,164.3L339.4,168.2M349.0,164.3L358.5,166.1M349.0,164.3L349.1,158.6M368.0,162.2L358.5,166.1M368.0,162.2L377.5,164.0M368.0,162.2L367.9,156.6M358.5,171.8L348.8,175.8M358.5,171.8L368.1,173.7M358.5,171.8L358.5,166.1M377.6,169.7L368.1,173.7M377.6,169.7L387.2,171.5M377.6,169.7L377.5,164.0M368.1,179.6L358.4,183.6M368.1,179.6L377.9,181.4M368.1,179.6L368.1,173.7M387.5,177.4L377.9,181.4M387.5,177.4L397.2,179.3M387.5,177.4L387.2,171.5M378.0,187.5L368.2,191.7M378.0,187.5L387.9,189.4M378.0,187.5L377.9,181.4M397.5,185.2L387.9,189.4M397.5,185.2L407.4,187.2M397.5,185.2L397.2,179.3M388.2,195.6L378.3,199.9M388.2,195.6L398.2,197.5M388.2,195.6L387.9,189.4M407.9,193.3L398.2,197.5M407.9,193.3L417.9,195.2M407.9,193.3L407.4,187.2M398.5,203.9L388.7,208.3M398.5,203.9L408.7,205.9M398.5,203.9L398.2,197.5M418.4,201.5L408.7,205.9M418.4,201.5L428.6,203.5M418.4,201.5L417.9,195.2M409.2,212.4L399.2,216.9M409.2,212.4L419.5,214.4M409.2,212.4L408.7,205.9M429.3,210.0L419.5,214.4M429.3,210.0L439.6,212.0M429.3,210.0L428.6,203.5M420.1,221.1L410.1,225.7M420.1,221.1L430.6,223.2M420.1,221.1L419.5,214.4M440.3,218.6L430.6,223.2M440.3,218.6L450.8,220.7M440.3,218.6L439.6,212.0M431.2,230.0L421.2,234.8M431.2,230.0L441.9,232.2M431.2,230.0L430.6,223.2M451.7,227.5L441.9,232.2M451.7,227.5L462.4,229.6M451.7,227.5L450.8,220.7M442.7,239.2L432.6,244.0M442.7,239.2L453.5,241.4M442.7,239.2L441.9,232.2M463.4,236.5L453.5,241.4M463.4,236.5L474.2,238.7M463.4,236.5L462.4,229.6M454.4,248.5L444.3,253.6M454.4,248.5L465.4,250.8M454.4,248.5L453.5,241.4M475.3,245.8L465.4,250.8M475.3,245.8L486.3,248.1M475.3,245.8L474.2,238.7M466.4,258.2L456.3,263.3M466.4,258.2L477.6,260.5M466.4,258.2L465.4,250.8M487.6,255.4L477.6,260.5M487.6,255.4L498.7,257.7M487.6,255.4L486.3,248.1M478.8,268.1L468.6,273.3M478.8,268.1L490.1,270.4M478.8,268.1L477.6,260.5M500.1,265.2L490.1,270.4M500.1,265.2L511.5,267.6M500.1,265.2L498.7,257.7M491.5,278.2L481.2,283.6M491.5,278.2L503.0,280.6M491.5,278.2L490.1,270.4M513.0,275.3L503.0,280.6M513.0,275.3L524.6,277.7M513.0,275.3L511.5,267.6M504.5,288.6L494.2,294.2M504.5,288.6L516.2,291.1M504.5,288.6L503.0,280.6M526.3,285.6L516.2,291.1M526.3,285.6L524.6,277.7M276.8,76.5L268.1,79.4M276.8,76.5L284.8,77.9M293.5,75.1L284.8,77.9M293.5,75.1L301.5,76.4M293.5,75.1L294.0,70.9M284.3,82.2L275.5,85.2M284.3,82.2L292.4,83.6M284.3,82.2L284.8,77.9M301.1,80.7L292.4,83.6M301.1,80.7L309.2,82.1M301.1,80.7L301.5,76.4M291.9,88.0L283.0,91.0M291.9,88.0L300.1,89.4M291.9,88.0L292.4,83.6M308.8,86.4L300.1,89.4M308.8,86.4L317.1,87.9M308.8,86.4L309.2,82.1M299.6,93.9L290.7,97.0M299.6,93.9L308.0,95.3M299.6,93.9L300.1,89.4M316.7,92.3L308.0,95.3M316.7,92.3L325.1,93.7M316.7,92.3L317.1,87.9M307.5,99.9L298.6,103.0M307.5,99.9L316.0,101.4M307.5,99.9L308.0,95.3M324.8,98.3L316.0,101.4M324.8,98.3L333.2,99.7M324.8,98.3L325.1,93.7M315.6,106.1L306.6,109.3M315.6,106.1L324.2,107.6M315.6,106.1L316.0,101.4M333.0,104.4L324.2,107.6M333.0,104.4L341.6,105.9M333.0,104.4L333.2,99.7M323.9,112.3L314.9,115.6M323.9,112.3L332.5,113.9M323.9,112.3L324.2,107.6M341.4,110.6L332.5,113.9M341.4,110.6L350.1,112.1M341.4,110.6L341.6,105.9M332.3,118.7L323.2,122.1M332.3,118.7L341.1,120.3M332.3,118.7L332.5,113.9M350.0,117.0L341.1,120.3M350.0,117.0L358.8,118.5M350.0,117.0L350.1,112.1M340.9,125.3L331.8,128.7M340.9,125.3L349.8,126.9M340.9,125.3L341.1,120.3M358.7,123.5L349.8,126.9M358.7,123.5L367.6,125.1M358.7,123.5L358.8,118.5M349.7,131.9L340.5,135.4M349.7,131.9L358.7,133.6M349.7,131.9L349.8,126.9M367.7,130.1L358.7,133.6M367.7,130.1L376.7,131.7M367.7,130.1L367.6,125.1M358.6,138.8L349.5,142.3M358.6,138.8L367.8,140.4M358.6,138.8L358.7,133.6M376.8,136.9L367.8,140.4M376.8,136.9L386.0,138.5M376.8,136.9L376.7,131.7M367.8,145.7L358.6,149.4M367.8,145.7L377.1,147.4M367.8,145.7L367.8,140.4M386.2,143.8L377.1,147.4M386.2,143.8L395.4,145.5M386.2,143.8L386.0,138.5M377.2,152.9L367.9,156.6M377.2,152.9L386.6,154.6M377.2,152.9L377.1,147.4M395.7,150.9L386.6,154.6M395.7,150.9L405.1,152.6M395.7,150.9L395.4,145.5M386.8,160.1L377.5,164.0M386.8,160.1L396.3,161.9M386.8,160.1L386.6,154.6M405.5,158.1L396.3,161.9M405.5,158.1L415.0,159.9M405.5,158.1L405.1,152.6M396.6,167.6L387.2,171.5M396.6,167.6L406.2,169.4M396.6,167.6L396.3,161.9M415.4,165.5L406.2,169.4M415.4,165.5L425.1,167.3M415.4,165.5L415.0,159.9M406.6,175.2L397.2,179.3M406.6,175.2L416.4,177.1M406.6,175.2L406.2,169.4M425.6,173.1L416.4,177.1M425.6,173.1L435.4,174.9M425.6,173.1L425.1,167.3M416.9,183.0L407.4,187.2M416.9,183.0L426.8,184.9M416.9,183.0L416.4,177.1M436.1,180.8L426.8,184.9M436.1,180.8L446.0,182.7M436.1,180.8L435.4,174.9M427.4,191.0L417.9,195.2M427.4,191.0L437.5,193.0M427.4,191.0L426.8,184.9M446.8,188.8L437.5,193.0M446.8,188.8L456.8,190.7M446.8,188.8L446.0,182.7M438.2,199.2L428.6,203.5M438.2,199.2L448.4,201.2M438.2,199.2L437.5,193.0M457.7,196.9L448.4,201.2M457.7,196.9L467.9,198.9M457.7,196.9L456.8,190.7M449.2,207.6L439.6,212.0M449.2,207.6L459.5,209.6M449.2,207.6L448.4,201.2M468.9,205.2L459.5,209.6M468.9,205.2L479.3,207.2M468.9,205.2L467.9,198.9M460.5,216.1L450.8,220.7M460.5,216.1L471.0,218.2M460.5,216.1L459.5,209.6M480.4,213.7L471.0,218.2M480.4,213.7L490.9,215.8M480.4,213.7L479.3,207.2M472.0,224.9L462.4,229.6M472.0,224.9L482.7,227.1M472.0,224.9L471.0,218.2M492.2,222.4L482.7,227.1M492.2,222.4L502.9,224.5M492.2,222.4L490.9,215.8M483.9,233.9L474.2,238.7M483.9,233.9L494.7,236.1M483.9,233.9L482.7,227.1M504.2,231.4L494.7,236.1M504.2,231.4L515.1,233.5M504.2,231.4L502.9,224.5M496.0,243.2L486.3,248.1M496.0,243.2L507.0,245.4M496.0,243.2L494.7,236.1M516.6,240.5L507.0,245.4M516.6,240.5L527.6,242.7M516.6,240.5L515.1,233.5M508.5,252.6L498.7,257.7M508.5,252.6L519.7,254.9M508.5,252.6L507.0,245.4M529.3,249.9L519.7,254.9M529.3,249.9L540.4,252.2M529.3,249.9L527.6,242.7M521.3,262.4L511.5,267.6M521.3,262.4L532.7,264.7M521.3,262.4L519.7,254.9M542.3,259.6L532.7,264.7M542.3,259.6L553.6,261.9M542.3,259.6L540.4,252.2M534.4,272.3L524.6,277.7M534.4,272.3L546.0,274.8M534.4,272.3L532.7,264.7M555.6,269.5L546.0,274.8M555.6,269.5L553.6,261.9M302.4,68.1L294.0,70.9M302.4,68.1L310.4,69.4M318.8,66.6L310.4,69.4M318.8,66.6L326.7,68.0M318.8,66.6L319.1,62.6M310.0,73.6L301.5,76.4M310.0,73.6L318.1,74.9M310.0,73.6L310.4,69.4M326.5,72.1L318.1,74.9M326.5,72.1L334.5,73.5M326.5,72.1L326.7,68.0M317.8,79.2L309.2,82.1M317.8,79.2L325.9,80.6M317.8,79.2L318.1,74.9M334.3,77.7L325.9,80.6M334.3,77.7L342.5,79.0M334.3,77.7L334.5,73.5M325.6,84.9L317.1,87.9M325.6,84.9L333.9,86.3M325.6,84.9L325.9,80.6M342.4,83.3L333.9,86.3M342.4,83.3L350.6,84.7M342.4,83.3L342.5,79.0M333.7,90.7L325.1,93.7M333.7,90.7L342.1,92.1M333.7,90.7L333.9,86.3M350.5,89.1L342.1,92.1M350.5,89.1L358.9,90.6M350.5,89.1L350.6,84.7M341.9,96.7L333.2,99.7M341.9,96.7L350.4,98.1M341.9,96.7L342.1,92.1M358.9,95.0L350.4,98.1M358.9,95.0L367.4,96.5M358.9,95.0L358.9,90.6M350.3,102.7L341.6,105.9M350.3,102.7L358.8,104.2M350.3,102.7L350.4,98.1M367.4,101.1L358.8,104.2M367.4,101.1L376.0,102.5M367.4,101.1L367.4,96.5M358.8,108.9L350.1,112.1M358.8,108.9L367.5,110.4M358.8,108.9L358.8,104.2M376.1,107.2L367.5,110.4M376.1,107.2L384.8,108.7M376.1,107.2L376.0,102.5M367.5,115.2L358.8,118.5M367.5,115.2L376.3,116.8M367.5,115.2L367.5,110.4M385.0,113.5L376.3,116.8M385.0,113.5L393.8,115.0M385.0,113.5L384.8,108.7M376.5,121.7L367.6,125.1M376.5,121.7L385.4,123.3M376.5,121.7L376.3,116.8M394.0,119.9L385.4,123.3M394.0,119.9L403.0,121.5M394.0,119.9L393.8,115.0M385.6,128.3L376.7,131.7M385.6,128.3L394.6,129.9M385.6,128.3L385.4,123.3M403.3,126.5L394.6,129.9M403.3,126.5L412.3,128.1M403.3,126.5L403.0,121.5M394.9,135.0L386.0,138.5M394.9,135.0L404.0,136.7M394.9,135.0L394.6,129.9M412.8,133.1L404.0,136.7M412.8,133.1L421.9,134.8M412.8,133.1L412.3,128.1M404.4,141.9L395.4,145.5M404.4,141.9L413.6,143.6M404.4,141.9L404.0,136.7M422.4,140.0L413.6,143.6M422.4,140.0L431.7,141.6M422.4,140.0L421.9,134.8M414.1,148.9L405.1,152.6M414.1,148.9L423.5,150.6M414.1,148.9L413.6,143.6M432.3,147.0L423.5,150.6M432.3,147.0L441.7,148.7M432.3,147.0L431.7,141.6M424.0,156.1L415.0,159.9M424.0,156.1L433.5,157.9M424.0,156.1L423.5,150.6M442.4,154.1L433.5,157.9M442.4,154.1L451.9,155.8M442.4,154.1L441.7,148.7M434.1,163.4L425.1,167.3M434.1,163.4L443.8,165.2M434.1,163.4L433.5,157.9M452.7,161.4L443.8,165.2M452.7,161.4L462.4,163.2M452.7,161.4L451.9,155.8M444.5,171.0L435.4,174.9M444.5,171.0L454.3,172.8M444.5,171.0L443.8,165.2M463.2,168.9L454.3,172.8M463.2,168.9L473.0,170.7M463.2,168.9L462.4,163.2M455.1,178.7L446.0,182.7M455.1,178.7L465.1,180.5M455.1,178.7L454.3,172.8M474.0,176.5L465.1,180.5M474.0,176.5L484.0,178.4M474.0,176.5L473.0,170.7M466.0,186.5L456.8,190.7M466.0,186.5L476.1,188.4M466.0,186.5L465.1,180.5M485.1,184.3L476.1,188.4M485.1,184.3L495.2,186.2M485.1,184.3L484.0,178.4M477.1,194.6L467.9,198.9M477.1,194.6L487.4,196.5M477.1,194.6L476.1,188.4M496.4,192.3L487.4,196.5M496.4,192.3L506.6,194.3M496.4,192.3L495.2,186.2M488.5,202.8L479.3,207.2M488.5,202.8L498.9,204.8M488.5,202.8L487.4,196.5M508.0,200.5L498.9,204.8M508.0,200.5L518.3,202.5M508.0,200.5L506.6,194.3M500.2,211.3L490.9,215.8M500.2,211.3L510.7,213.3M500.2,211.3L498.9,204.8M519.8,208.9L510.7,213.3M519.8,208.9L530.4,210.9M519.8,208.9L518.3,202.5M512.1,219.9L502.9,224.5M512.1,219.9L522.8,222.0M512.1,219.9L510.7,213.3M532.0,217.5L522.8,222.0M532.0,217.5L542.7,219.6M532.0,217.5L530.4,210.9M524.4,228.8L515.1,233.5M524.4,228.8L535.3,231.0M524.4,228.8L522.8,222.0M544.4,226.3L535.3,231.0M544.4,226.3L555.3,228.4M544.4,226.3L542.7,219.6M537.0,237.9L527.6,242.7M537.0,237.9L548.0,240.1M537.0,237.9L535.3,231.0M557.1,235.3L548.0,240.1M557.1,235.3L568.2,237.5M557.1,235.3L555.3,228.4M549.8,247.2L540.4,252.2M549.8,247.2L561.0,249.5M549.8,247.2L548.0,240.1M570.2,244.5L561.0,249.5M570.2,244.5L581.4,246.8M570.2,244.5L568.2,237.5M563.0,256.8L553.6,261.9M563.0,256.8L574.4,259.1M563.0,256.8L561.0,249.5M583.6,254.0L574.4,259.1M583.6,254.0L581.4,246.8M327.3,59.9L319.1,62.6M327.3,59.9L335.2,61.2M343.2,58.5L335.2,61.2M343.2,58.5L351.1,59.8M343.2,58.5L343.4,54.6M335.0,65.2L326.7,68.0M335.0,65.2L343.0,66.5M335.0,65.2L335.2,61.2M351.1,63.8L343.0,66.5M351.1,63.8L359.1,65.1M351.1,63.8L351.1,59.8M342.8,70.6L334.5,73.5M342.8,70.6L350.9,72.0M342.8,70.6L343.0,66.5M359.0,69.2L350.9,72.0M359.0,69.2L367.1,70.5M359.0,69.2L359.1,65.1M350.8,76.2L342.5,79.0M350.8,76.2L359.0,77.5M350.8,76.2L350.9,72.0M367.2,74.7L359.0,77.5M367.2,74.7L375.4,76.0M367.2,74.7L367.1,70.5M359.0,81.8L350.6,84.7M359.0,81.8L367.2,83.2M359.0,81.8L359.0,77.5M375.5,80.3L367.2,83.2M375.5,80.3L383.7,81.7M375.5,80.3L375.4,76.0M367.3,87.6L358.9,90.6M367.3,87.6L375.7,89.0M367.3,87.6L367.2,83.2M383.9,86.0L375.7,89.0M383.9,86.0L392.3,87.4M383.9,86.0L383.7,81.7M375.8,93.4L367.4,96.5M375.8,93.4L384.3,94.9M375.8,93.4L375.7,89.0M392.5,91.8L384.3,94.9M392.5,91.8L401.0,93.3M392.5,91.8L392.3,87.4M384.4,99.4L376.0,102.5M384.4,99.4L393.0,100.9M384.4,99.4L384.3,94.9M401.3,97.8L393.0,100.9M401.3,97.8L409.9,99.3M401.3,97.8L401.0,93.3M393.3,105.5L384.8,108.7M393.3,105.5L402.0,107.0M393.3,105.5L393.0,100.9M410.3,103.9L402.0,107.0M410.3,103.9L419.0,105.4M410.3,103.9L409.9,99.3M402.3,111.8L393.8,115.0M402.3,111.8L411.1,113.3M402.3,111.8L402.0,107.0M419.5,110.1L411.1,113.3M419.5,110.1L428.3,111.6M419.5,110.1L419.0,105.4M411.5,118.1L403.0,121.5M411.5,118.1L420.4,119.7M411.5,118.1L411.1,113.3M428.8,116.4L420.4,119.7M428.8,116.4L437.8,118.0M428.8,116.4L428.3,111.6M420.9,124.7L412.3,128.1M420.9,124.7L430.0,126.2M420.9,124.7L420.4,119.7M438.4,122.9L430.0,126.2M438.4,122.9L447.4,124.5M438.4,122.9L437.8,118.0M430.5,131.3L421.9,134.8M430.5,131.3L439.7,132.9M430.5,131.3L430.0,126.2M448.2,129.5L439.7,132.9M448.2,129.5L457.3,131.1M448.2,129.5L447.4,124.5M440.3,138.1L431.7,141.6M440.3,138.1L449.6,139.7M440.3,138.1L439.7,132.9M458.1,136.2L449.6,139.7M458.1,136.2L467.4,137.9M458.1,136.2L457.3,131.1M450.4,145.0L441.7,148.7M450.4,145.0L459.8,146.7M450.4,145.0L449.6,139.7M468.3,143.1L459.8,146.7M468.3,143.1L477.7,144.8M468.3,143.1L467.4,137.9M460.6,152.1L451.9,155.8M460.6,152.1L470.2,153.8M460.6,152.1L459.8,146.7M478.7,150.1L470.2,153.8M478.7,150.1L488.3,151.9M478.7,150.1L477.7,144.8M471.1,159.4L462.4,163.2M471.1,159.4L480.8,161.1M471.1,159.4L470.2,153.8M489.4,157.3L480.8,161.1M489.4,157.3L499.0,159.1M489.4,157.3L488.3,151.9M481.8,166.8L473.0,170.7M481.8,166.8L491.6,168.6M481.8,166.8L480.8,161.1M500.3,164.7L491.6,168.6M500.3,164.7L510.1,166.5M500.3,164.7L499.0,159.1M492.8,174.4L484.0,178.4M492.8,174.4L502.7,176.2M492.8,174.4L491.6,168.6M511.4,172.2L502.7,176.2M511.4,172.2L521.3,174.1M511.4,172.2L510.1,166.5M504.0,182.1L495.2,186.2M504.0,182.1L514.1,184.0M504.0,182.1L502.7,176.2M522.8,179.9L514.1,184.0M522.8,179.9L532.9,181.8M522.8,179.9L521.3,174.1M515.5,190.1L506.6,194.3M515.5,190.1L525.7,192.0M515.5,190.1L514.1,184.0M534.4,187.8L525.7,192.0M534.4,187.8L544.7,189.7M534.4,187.8L532.9,181.8M527.2,198.2L518.3,202.5M527.2,198.2L537.6,200.2M527.2,198.2L525.7,192.0M546.4,195.9L537.6,200.2M546.4,195.9L556.7,197.8M546.4,195.9L544.7,189.7M539.3,206.5L530.4,210.9M539.3,206.5L549.8,208.5M539.3,206.5L537.6,200.2M558.6,204.1L549.8,208.5M558.6,204.1L569.1,206.2M558.6,204.1L556.7,197.8M551.6,215.0L542.7,219.6M551.6,215.0L562.3,217.1M551.6,215.0L549.8,208.5M571.1,212.6L562.3,217.1M571.1,212.6L581.8,214.7M571.1,212.6L569.1,206.2M564.2,223.8L555.3,228.4M564.2,223.8L575.1,225.9M564.2,223.8L562.3,217.1M583.9,221.3L575.1,225.9M583.9,221.3L594.8,223.4M583.9,221.3L581.8,214.7M577.2,232.7L568.2,237.5M577.2,232.7L588.2,234.9M577.2,232.7L575.1,225.9M597.0,230.2L588.2,234.9M597.0,230.2L608.1,232.3M597.0,230.2L594.8,223.4M590.4,241.9L581.4,246.8M590.4,241.9L601.7,244.1M590.4,241.9L588.2,234.9M610.5,239.3L601.7,244.1M610.5,239.3L608.1,232.3M351.3,51.9L343.4,54.6M351.3,51.9L359.1,53.2M366.9,50.6L359.1,53.2M366.9,50.6L374.8,51.9M366.9,50.6L366.9,46.8M359.1,57.1L351.1,59.8M359.1,57.1L367.0,58.4M359.1,57.1L359.1,53.2M374.9,55.7L367.0,58.4M374.9,55.7L382.8,57.0M374.9,55.7L374.8,51.9M367.1,62.4L359.1,65.1M367.1,62.4L375.1,63.7M367.1,62.4L367.0,58.4M382.9,61.0L375.1,63.7M382.9,61.0L391.0,62.3M382.9,61.0L382.8,57.0M375.2,67.7L367.1,70.5M375.2,67.7L383.3,69.1M375.2,67.7L375.1,63.7M391.2,66.3L383.3,69.1M391.2,66.3L399.3,67.6M391.2,66.3L391.0,62.3M383.4,73.2L375.4,76.0M383.4,73.2L391.6,74.6M383.4,73.2L383.3,69.1M399.6,71.7L391.6,74.6M399.6,71.7L407.8,73.1M399.6,71.7L399.3,67.6M391.8,78.8L383.7,81.7M391.8,78.8L400.1,80.2M391.8,78.8L391.6,74.6M408.1,77.3L400.1,80.2M408.1,77.3L416.4,78.7M408.1,77.3L407.8,73.1M400.4,84.5L392.3,87.4M400.4,84.5L408.8,85.9M400.4,84.5L400.1,80.2M416.8,82.9L408.8,85.9M416.8,82.9L425.2,84.3M416.8,82.9L416.4,78.7M409.2,90.3L401.0,93.3M409.2,90.3L417.7,91.7M409.2,90.3L408.8,85.9M425.7,88.7L417.7,91.7M425.7,88.7L434.2,90.1M425.7,88.7L425.2,84.3M418.1,96.2L409.9,99.3M418.1,96.2L426.7,97.6M418.1,96.2L417.7,91.7M434.8,94.6L426.7,97.6M434.8,94.6L443.4,96.0M434.8,94.6L434.2,90.1M427.2,102.2L419.0,105.4M427.2,102.2L436.0,103.7M427.2,102.2L426.7,97.6M444.1,100.6L436.0,103.7M444.1,100.6L452.8,102.1M444.1,100.6L443.4,96.0M436.6,108.4L428.3,111.6M436.6,108.4L445.4,109.9M436.6,108.4L436.0,103.7M453.5,106.7L445.4,109.9M453.5,106.7L462.3,108.2M453.5,106.7L452.8,102.1M446.1,114.7L437.8,118.0M446.1,114.7L455.0,116.2M446.1,114.7L445.4,109.9M463.1,112.9L455.0,116.2M463.1,112.9L472.1,114.5M463.1,112.9L462.3,108.2M455.8,121.1L447.4,124.5M455.8,121.1L464.8,122.7M455.8,121.1L455.0,116.2M473.0,119.3L464.8,122.7M473.0,119.3L482.1,120.9M473.0,119.3L472.1,114.5M465.7,127.6L457.3,131.1M465.7,127.6L474.8,129.3M465.7,127.6L464.8,122.7M483.0,125.8L474.8,129.3M483.0,125.8L492.2,127.4M483.0,125.8L482.1,120.9M475.8,134.3L467.4,137.9M475.8,134.3L485.1,136.0M475.8,134.3L474.8,129.3M493.3,132.5L485.1,136.0M493.3,132.5L502.6,134.1M493.3,132.5L492.2,127.4M486.1,141.2L477.7,144.8M486.1,141.2L495.5,142.9M486.1,141.2L485.1,136.0M503.8,139.3L495.5,142.9M503.8,139.3L513.2,141.0M503.8,139.3L502.6,134.1M496.7,148.2L488.3,151.9M496.7,148.2L506.2,149.9M496.7,148.2L495.5,142.9M514.5,146.2L506.2,149.9M514.5,146.2L524.1,147.9M514.5,146.2L513.2,141.0M507.5,155.3L499.0,159.1M507.5,155.3L517.2,157.1M507.5,155.3L506.2,149.9M525.5,153.3L517.2,157.1M525.5,153.3L535.2,155.1M525.5,153.3L524.1,147.9M518.5,162.6L510.1,166.5M518.5,162.6L528.4,164.4M518.5,162.6L517.2,157.1M536.7,160.6L528.4,164.4M536.7,160.6L546.5,162.4M536.7,160.6L535.2,155.1M529.8,170.1L521.3,174.1M529.8,170.1L539.8,171.9M529.8,170.1L528.4,164.4M548.1,168.0L539.8,171.9M548.1,168.0L558.1,169.8M548.1,168.0L546.5,162.4M541.4,177.8L532.9,181.8M541.4,177.8L551.5,179.6M541.4,177.8L539.8,171.9M559.9,175.6L551.5,179.6M559.9,175.6L570.0,177.5M559.9,175.6L558.1,169.8M553.2,185.6L544.7,189.7M553.2,185.6L563.5,187.5M553.2,185.6L551.5,179.6M571.9,183.4L563.5,187.5M571.9,183.4L582.1,185.3M571.9,183.4L570.0,177.5M565.3,193.6L556.7,197.8M565.3,193.6L575.7,195.6M565.3,193.6L563.5,187.5M584.1,191.3L575.7,195.6M584.1,191.3L594.5,193.3M584.1,191.3L582.1,185.3M577.7,201.8L569.1,206.2M577.7,201.8L588.3,203.8M577.7,201.8L575.7,195.6M596.7,199.5L588.3,203.8M596.7,199.5L607.3,201.5M596.7,199.5L594.5,193.3M590.4,210.2L581.8,214.7M590.4,210.2L601.1,212.2M590.4,210.2L588.3,203.8M609.5,207.8L601.1,212.2M609.5,207.8L620.3,209.8M609.5,207.8L607.3,201.5M603.4,218.8L594.8,223.4M603.4,218.8L614.3,220.9M603.4,218.8L601.1,212.2M622.7,216.4L614.3,220.9M622.7,216.4L633.6,218.4M622.7,216.4L620.3,209.8M616.7,227.6L608.1,232.3M616.7,227.6L627.8,229.8M616.7,227.6L614.3,220.9M636.2,225.1L627.8,229.8M636.2,225.1L633.6,218.4M374.6,44.3L366.9,46.8M374.6,44.3L382.3,45.5M389.9,43.0L382.3,45.5M389.9,43.0L397.7,44.2M389.9,43.0L389.7,39.3M382.5,49.3L374.8,51.9M382.5,49.3L390.3,50.5M382.5,49.3L382.3,45.5M397.9,47.9L390.3,50.5M397.9,47.9L405.8,49.2M397.9,47.9L397.7,44.2M390.5,54.4L382.8,57.0M390.5,54.4L398.5,55.6M390.5,54.4L390.3,50.5M406.1,53.0L398.5,55.6M406.1,53.0L414.0,54.3M406.1,53.0L405.8,49.2M398.7,59.6L391.0,62.3M398.7,59.6L406.7,60.9M398.7,59.6L398.5,55.6M414.4,58.2L406.7,60.9M414.4,58.2L422.4,59.5M414.4,58.2L414.0,54.3M407.1,64.9L399.3,67.6M407.1,64.9L415.2,66.2M407.1,64.9L406.7,60.9M422.9,63.5L415.2,66.2M422.9,63.5L431.0,64.8M422.9,63.5L422.4,59.5M415.6,70.3L407.8,73.1M415.6,70.3L423.8,71.6M415.6,70.3L415.2,66.2M431.5,68.8L423.8,71.6M431.5,68.8L439.7,70.2M431.5,68.8L431.0,64.8M424.3,75.8L416.4,78.7M424.3,75.8L432.6,77.2M424.3,75.8L423.8,71.6M440.3,74.3L432.6,77.2M440.3,74.3L448.6,75.7M440.3,74.3L439.7,70.2M433.1,81.4L425.2,84.3M433.1,81.4L441.5,82.8M433.1,81.4L432.6,77.2M449.3,79.9L441.5,82.8M449.3,79.9L457.7,81.3M449.3,79.9L448.6,75.7M442.2,87.1L434.2,90.1M442.2,87.1L450.7,88.6M442.2,87.1L441.5,82.8M458.5,85.6L450.7,88.6M458.5,85.6L467.0,87.0M458.5,85.6L457.7,81.3M451.4,93.0L443.4,96.0M451.4,93.0L460.0,94.4M451.4,93.0L450.7,88.6M467.8,91.4L460.0,94.4M467.8,91.4L476.4,92.8M467.8,91.4L467.0,87.0M460.7,98.9L452.8,102.1M460.7,98.9L469.5,100.4M460.7,98.9L460.0,94.4M477.3,97.3L469.5,100.4M477.3,97.3L486.1,98.8M477.3,97.3L476.4,92.8M470.3,105.0L462.3,108.2M470.3,105.0L479.2,106.5M470.3,105.0L469.5,100.4M487.0,103.4L479.2,106.5M487.0,103.4L495.9,104.9M487.0,103.4L486.1,98.8M480.1,111.2L472.1,114.5M480.1,111.2L489.1,112.8M480.1,111.2L479.2,106.5M497.0,109.5L489.1,112.8M497.0,109.5L505.9,111.1M497.0,109.5L495.9,104.9M490.1,117.6L482.1,120.9M490.1,117.6L499.2,119.1M490.1,117.6L489.1,112.8M507.1,115.8L499.2,119.1M507.1,115.8L516.2,117.4M507.1,115.8L505.9,111.1M500.3,124.0L492.2,127.4M500.3,124.0L509.5,125.6M500.3,124.0L499.2,119.1M517.4,122.3L509.5,125.6M517.4,122.3L526.6,123.8M517.4,122.3L516.2,117.4M510.7,130.7L502.6,134.1M510.7,130.7L520.0,132.3M510.7,130.7L509.5,125.6M528.0,128.8L520.0,132.3M528.0,128.8L537.3,130.4M528.0,128.8L526.6,123.8M521.4,137.4L513.2,141.0M521.4,137.4L530.8,139.1M521.4,137.4L520.0,132.3M538.8,135.5L530.8,139.1M538.8,135.5L548.2,137.2M538.8,135.5L537.3,130.4M532.2,144.3L524.1,147.9M532.2,144.3L541.8,146.0M532.2,144.3L530.8,139.1M549.8,142.4L541.8,146.0M549.8,142.4L559.4,144.1M549.8,142.4L548.2,137.2M543.3,151.4L535.2,155.1M543.3,151.4L553.0,153.1M543.3,151.4L541.8,146.0M561.1,149.4L553.0,153.1M561.1,149.4L570.8,151.1M561.1,149.4L559.4,144.1M554.7,158.6L546.5,162.4M554.7,158.6L564.5,160.3M554.7,158.6L553.0,153.1M572.6,156.6L564.5,160.3M572.6,156.6L582.4,158.3M572.6,156.6L570.8,151.1M566.3,165.9L558.1,169.8M566.3,165.9L576.3,167.7M566.3,165.9L564.5,160.3M584.3,163.9L576.3,167.7M584.3,163.9L594.3,165.7M584.3,163.9L582.4,158.3M578.2,173.5L570.0,177.5M578.2,173.5L588.3,175.3M578.2,173.5L576.3,167.7M596.4,171.4L588.3,175.3M596.4,171.4L606.5,173.2M596.4,171.4L594.3,165.7M590.3,181.2L582.1,185.3M590.3,181.2L600.6,183.1M590.3,181.2L588.3,175.3M608.7,179.0L600.6,183.1M608.7,179.0L619.0,180.9M608.7,179.0L606.5,173.2M602.8,189.1L594.5,193.3M602.8,189.1L613.2,191.0M602.8,189.1L600.6,183.1M621.3,186.9L613.2,191.0M621.3,186.9L631.7,188.8M621.3,186.9L619.0,180.9M615.5,197.2L607.3,201.5M615.5,197.2L626.1,199.1M615.5,197.2L613.2,191.0M634.2,194.9L626.1,199.1M634.2,194.9L644.8,196.8M634.2,194.9L631.7,188.8M628.5,205.5L620.3,209.8M628.5,205.5L639.3,207.5M628.5,205.5L626.1,199.1M647.4,203.1L639.3,207.5M647.4,203.1L658.1,205.1M647.4,203.1L644.8,196.8M641.9,213.9L633.6,218.4M641.9,213.9L652.8,216.0M641.9,213.9L639.3,207.5M660.9,211.5L652.8,216.0M660.9,211.5L658.1,205.1M397.2,36.8L389.7,39.3M397.2,36.8L404.8,38.0M412.2,35.5L404.8,38.0M412.2,35.5L419.9,36.7M412.2,35.5L411.8,32.0M405.2,41.7L397.7,44.2M405.2,41.7L412.9,42.9M405.2,41.7L404.8,38.0M420.3,40.4L412.9,42.9M420.3,40.4L428.1,41.6M420.3,40.4L419.9,36.7M413.3,46.6L405.8,49.2M413.3,46.6L421.1,47.9M413.3,46.6L412.9,42.9M428.5,45.3L421.1,47.9M428.5,45.3L436.4,46.5M428.5,45.3L428.1,41.6M421.6,51.7L414.0,54.3M421.6,51.7L429.5,52.9M421.6,51.7L421.1,47.9M436.9,50.3L429.5,52.9M436.9,50.3L444.9,51.6M436.9,50.3L436.4,46.5M430.0,56.8L422.4,59.5M430.0,56.8L438.0,58.1M430.0,56.8L429.5,52.9M445.5,55.4L438.0,58.1M445.5,55.4L453.5,56.7M445.5,55.4L444.9,51.6M438.6,62.1L431.0,64.8M438.6,62.1L446.7,63.4M438.6,62.1L438.0,58.1M454.2,60.7L446.7,63.4M454.2,60.7L462.3,62.0M454.2,60.7L453.5,56.7M447.3,67.4L439.7,70.2M447.3,67.4L455.6,68.7M447.3,67.4L446.7,63.4M463.1,66.0L455.6,68.7M463.1,66.0L471.3,67.3M463.1,66.0L462.3,62.0M456.3,72.8L448.6,75.7M456.3,72.8L464.6,74.2M456.3,72.8L455.6,68.7M472.1,71.4L464.6,74.2M472.1,71.4L480.4,72.7M472.1,71.4L471.3,67.3M465.4,78.4L457.7,81.3M465.4,78.4L473.8,79.8M465.4,78.4L464.6,74.2M481.3,76.9L473.8,79.8M481.3,76.9L489.8,78.3M481.3,76.9L480.4,72.7M474.7,84.1L467.0,87.0M474.7,84.1L483.2,85.5M474.7,84.1L473.8,79.8M490.8,82.5L483.2,85.5M490.8,82.5L499.3,83.9M490.8,82.5L489.8,78.3M484.1,89.8L476.4,92.8M484.1,89.8L492.8,91.2M484.1,89.8L483.2,85.5M500.3,88.3L492.8,91.2M500.3,88.3L509.0,89.7M500.3,88.3L499.3,83.9M493.8,95.7L486.1,98.8M493.8,95.7L502.5,97.2M493.8,95.7L492.8,91.2M510.1,94.1L502.5,97.2M510.1,94.1L518.9,95.6M510.1,94.1L509.0,89.7M503.6,101.7L495.9,104.9M503.6,101.7L512.5,103.2M503.6,101.7L502.5,97.2M520.1,100.1L512.5,103.2M520.1,100.1L529.0,101.6M520.1,100.1L518.9,95.6M513.7,107.9L505.9,111.1M513.7,107.9L522.7,109.4M513.7,107.9L512.5,103.2M530.3,106.2L522.7,109.4M530.3,106.2L539.3,107.7M530.3,106.2L529.0,101.6M524.0,114.1L516.2,117.4M524.0,114.1L533.0,115.7M524.0,114.1L522.7,109.4M540.7,112.4L533.0,115.7M540.7,112.4L549.8,113.9M540.7,112.4L539.3,107.7M534.4,120.5L526.6,123.8M534.4,120.5L543.6,122.1M534.4,120.5L533.0,115.7M551.3,118.7L543.6,122.1M551.3,118.7L560.5,120.3M551.3,118.7L549.8,113.9M545.1,127.0L537.3,130.4M545.1,127.0L554.5,128.6M545.1,127.0L543.6,122.1M562.2,125.2L554.5,128.6M562.2,125.2L571.5,126.8M562.2,125.2L560.5,120.3M556.1,133.7L548.2,137.2M556.1,133.7L565.5,135.3M556.1,133.7L554.5,128.6M573.2,131.9L565.5,135.3M573.2,131.9L582.7,133.5M573.2,131.9L571.5,126.8M567.2,140.5L559.4,144.1M567.2,140.5L576.8,142.2M567.2,140.5L565.5,135.3M584.5,138.6L576.8,142.2M584.5,138.6L594.1,140.3M584.5,138.6L582.7,133.5M578.6,147.5L570.8,151.1M578.6,147.5L588.4,149.2M578.6,147.5L576.8,142.2M596.1,145.5L588.4,149.2M596.1,145.5L605.8,147.2M596.1,145.5L594.1,140.3M590.3,154.6L582.4,158.3M590.3,154.6L600.1,156.3M590.3,154.6L588.4,149.2M607.9,152.6L600.1,156.3M607.9,152.6L617.8,154.3M607.9,152.6L605.8,147.2M602.2,161.8L594.3,165.7M602.2,161.8L612.2,163.6M602.2,161.8L600.1,156.3M620.0,159.8L612.2,163.6M620.0,159.8L630.0,161.6M620.0,159.8L617.8,154.3M614.4,169.3L606.5,173.2M614.4,169.3L624.5,171.1M614.4,169.3L612.2,163.6M632.3,167.2L624.5,171.1M632.3,167.2L642.5,169.0M632.3,167.2L630.0,161.6M626.9,176.9L619.0,180.9M626.9,176.9L637.2,178.7M626.9,176.9L624.5,171.1M645.0,174.7L637.2,178.7M645.0,174.7L655.2,176.6M645.0,174.7L642.5,169.0M639.7,184.7L631.7,188.8M639.7,184.7L650.1,186.6M639.7,184.7L637.2,178.7M657.9,182.5L650.1,186.6M657.9,182.5L668.3,184.4M657.9,182.5L655.2,176.6M652.7,192.6L644.8,196.8M652.7,192.6L663.3,194.6M652.7,192.6L650.1,186.6M671.1,190.4L663.3,194.6M671.1,190.4L681.7,192.3M671.1,190.4L668.3,184.4M666.1,200.8L658.1,205.1M666.1,200.8L676.8,202.8M666.1,200.8L663.3,194.6M684.6,198.5L676.8,202.8M684.6,198.5L681.7,192.3M419.1,29.6L411.8,32.0M419.1,29.6L426.7,30.7M433.8,28.4L426.7,30.7M433.8,28.4L441.4,29.5M433.8,28.4L433.3,24.9M427.1,34.3L419.9,36.7M427.1,34.3L434.8,35.5M427.1,34.3L426.7,30.7M442.0,33.1L434.8,35.5M442.0,33.1L449.7,34.2M442.0,33.1L441.4,29.5M435.3,39.1L428.1,41.6M435.3,39.1L443.1,40.3M435.3,39.1L434.8,35.5M450.3,37.8L443.1,40.3M450.3,37.8L458.1,39.0M450.3,37.8L449.7,34.2M443.7,44.0L436.4,46.5M443.7,44.0L451.5,45.2M443.7,44.0L443.1,40.3M458.7,42.7L451.5,45.2M458.7,42.7L466.6,43.9M458.7,42.7L458.1,39.0M452.2,49.0L444.9,51.6M452.2,49.0L460.1,50.2M452.2,49.0L451.5,45.2M467.4,47.7L460.1,50.2M467.4,47.7L475.3,48.9M467.4,47.7L466.6,43.9M460.9,54.1L453.5,56.7M460.9,54.1L468.9,55.4M460.9,54.1L460.1,50.2M476.1,52.7L468.9,55.4M476.1,52.7L484.2,54.0M476.1,52.7L475.3,48.9M469.7,59.3L462.3,62.0M469.7,59.3L477.8,60.6M469.7,59.3L468.9,55.4M485.1,57.9L477.8,60.6M485.1,57.9L493.2,59.2M485.1,57.9L484.2,54.0M478.7,64.6L471.3,67.3M478.7,64.6L486.9,65.9M478.7,64.6L477.8,60.6M494.2,63.1L486.9,65.9M494.2,63.1L502.4,64.4M494.2,63.1L493.2,59.2M487.9,69.9L480.4,72.7M487.9,69.9L496.2,71.3M487.9,69.9L486.9,65.9M503.5,68.5L496.2,71.3M503.5,68.5L511.8,69.8M503.5,68.5L502.4,64.4M497.2,75.4L489.8,78.3M497.2,75.4L505.6,76.8M497.2,75.4L496.2,71.3M513.0,73.9L505.6,76.8M513.0,73.9L521.4,75.3M513.0,73.9L511.8,69.8M506.7,81.0L499.3,83.9M506.7,81.0L515.3,82.4M506.7,81.0L505.6,76.8M522.6,79.5L515.3,82.4M522.6,79.5L531.1,80.9M522.6,79.5L521.4,75.3M516.5,86.7L509.0,89.7M516.5,86.7L525.1,88.1M516.5,86.7L515.3,82.4M532.5,85.2L525.1,88.1M532.5,85.2L541.1,86.6M532.5,85.2L531.1,80.9M526.4,92.5L518.9,95.6M526.4,92.5L535.1,94.0M526.4,92.5L525.1,88.1M542.5,91.0L535.1,94.0M542.5,91.0L551.2,92.4M542.5,91.0L541.1,86.6M536.5,98.5L529.0,101.6M536.5,98.5L545.3,99.9M536.5,98.5L535.1,94.0M552.7,96.9L545.3,99.9M552.7,96.9L561.6,98.3M552.7,96.9L551.2,92.4M546.8,104.5L539.3,107.7M546.8,104.5L555.8,106.0M546.8,104.5L545.3,99.9M563.2,102.9L555.8,106.0M563.2,102.9L572.2,104.4M563.2,102.9L561.6,98.3M557.3,110.7L549.8,113.9M557.3,110.7L566.4,112.2M557.3,110.7L555.8,106.0M573.8,109.0L566.4,112.2M573.8,109.0L582.9,110.5M573.8,109.0L572.2,104.4M568.1,117.0L560.5,120.3M568.1,117.0L577.3,118.6M568.1,117.0L566.4,112.2M584.7,115.3L577.3,118.6M584.7,115.3L593.9,116.8M584.7,115.3L582.9,110.5M579.1,123.4L571.5,126.8M579.1,123.4L588.4,125.0M579.1,123.4L577.3,118.6M595.8,121.7L588.4,125.0M595.8,121.7L605.2,123.3M595.8,121.7L593.9,116.8M590.3,130.0L582.7,133.5M590.3,130.0L599.7,131.6M590.3,130.0L588.4,125.0M607.2,128.2L599.7,131.6M607.2,128.2L616.6,129.8M607.2,128.2L605.2,123.3M601.7,136.7L594.1,140.3M601.7,136.7L611.3,138.4M601.7,136.7L599.7,131.6M618.8,134.9L611.3,138.4M618.8,134.9L628.4,136.5M618.8,134.9L616.6,129.8M613.4,143.6L605.8,147.2M613.4,143.6L623.1,145.3M613.4,143.6L611.3,138.4M630.6,141.7L623.1,145.3M630.6,141.7L640.3,143.4M630.6,141.7L628.4,136.5M625.4,150.6L617.8,154.3M625.4,150.6L635.2,152.3M625.4,150.6L623.1,145.3M642.7,148.7L635.2,152.3M642.7,148.7L652.6,150.4M642.7,148.7L640.3,143.4M637.6,157.8L630.0,161.6M637.6,157.8L647.6,159.6M637.6,157.8L635.2,152.3M655.1,155.8L647.6,159.6M655.1,155.8L665.1,157.5M655.1,155.8L652.6,150.4M650.1,165.1L642.5,169.0M650.1,165.1L660.2,166.9M650.1,165.1L647.6,159.6M667.7,163.1L660.2,166.9M667.7,163.1L677.9,164.9M667.7,163.1L665.1,157.5M662.9,172.6L655.2,176.6M662.9,172.6L673.2,174.5M662.9,172.6L660.2,166.9M680.6,170.5L673.2,174.5M680.6,170.5L690.9,172.3M680.6,170.5L677.9,164.9M675.9,180.3L668.3,184.4M675.9,180.3L686.4,182.2M675.9,180.3L673.2,174.5M693.9,178.1L686.4,182.2M693.9,178.1L704.3,180.0M693.9,178.1L690.9,172.3M689.3,188.2L681.7,192.3M689.3,188.2L699.9,190.1M689.3,188.2L686.4,182.2M707.4,185.9L699.9,190.1M707.4,185.9L704.3,180.0M440.3,22.6L433.3,24.9M448.4,27.1L441.4,29.5M456.7,31.8L449.7,34.2M465.1,36.6L458.1,39.0M473.7,41.4L466.6,43.9M482.4,46.4L475.3,48.9M491.3,51.4L484.2,54.0M500.4,56.5L493.2,59.2M509.6,61.7L502.4,64.4M519.0,67.1L511.8,69.8M528.6,72.5L521.4,75.3M538.4,78.0L531.1,80.9M548.3,83.6L541.1,86.6M558.5,89.4L551.2,92.4M568.9,95.3L561.6,98.3M579.4,101.2L572.2,104.4M590.2,107.3L582.9,110.5M601.2,113.6L593.9,116.8M612.5,119.9L605.2,123.3M624.0,126.4L616.6,129.8M635.7,133.0L628.4,136.5M647.7,139.8L640.3,143.4M659.9,146.7L652.6,150.4M672.4,153.8L665.1,157.5M685.2,161.0L677.9,164.9M698.3,168.4L690.9,172.3M711.7,176.0L704.3,180.0" stroke="#f7f6e6" stroke-width="1.1" fill="none"/><path d="M397.2,36.8h0M412.2,35.5h0M419.1,29.6h0M433.8,28.4h0M427.1,34.3h0M442.0,33.1h0M435.3,39.1h0M450.3,37.8h0M440.3,22.6h0M448.4,27.1h0M456.7,31.8h0M465.1,36.6h0" stroke="#bfe2d3" stroke-width="4.50" stroke-linecap="round" fill="none"/><path d="M302.4,68.1h0M318.8,66.6h0M326.5,72.1h0M327.3,59.9h0M343.2,58.5h0M335.0,65.2h0M351.1,63.8h0M342.8,70.6h0M359.0,69.2h0M351.3,51.9h0M366.9,50.6h0M359.1,57.1h0M374.9,55.7h0M367.1,62.4h0M382.9,61.0h0M375.2,67.7h0M391.2,66.3h0M383.4,73.2h0M399.6,71.7h0M374.6,44.3h0M389.9,43.0h0M382.5,49.3h0M397.9,47.9h0M390.5,54.4h0M406.1,53.0h0M398.7,59.6h0M414.4,58.2h0M407.1,64.9h0M422.9,63.5h0M415.6,70.3h0M431.5,68.8h0M440.3,74.3h0M405.2,41.7h0M420.3,40.4h0M413.3,46.6h0M428.5,45.3h0M421.6,51.7h0M436.9,50.3h0M430.0,56.8h0M445.5,55.4h0M438.6,62.1h0M454.2,60.7h0M447.3,67.4h0M463.1,66.0h0M456.3,72.8h0M472.1,71.4h0M443.7,44.0h0M458.7,42.7h0M452.2,49.0h0M467.4,47.7h0M460.9,54.1h0M476.1,52.7h0M469.7,59.3h0M485.1,57.9h0M478.7,64.6h0M494.2,63.1h0M487.9,69.9h0M503.5,68.5h0M497.2,75.4h0M513.0,73.9h0M473.7,41.4h0M482.4,46.4h0M491.3,51.4h0M500.4,56.5h0M509.6,61.7h0M519.0,67.1h0M528.6,72.5h0" stroke="#bfe2d3" stroke-width="5.00" stroke-linecap="round" fill="none"/><path d="M194.5,103.7h0M212.3,102.1h0M222.9,94.4h0M240.3,92.7h0M230.0,100.4h0M247.6,98.8h0M255.1,104.9h0M250.3,85.3h0M267.3,83.8h0M257.6,91.2h0M274.8,89.6h0M265.1,97.1h0M282.4,95.5h0M272.7,103.2h0M290.2,101.6h0M276.8,76.5h0M293.5,75.1h0M284.3,82.2h0M301.1,80.7h0M291.9,88.0h0M308.8,86.4h0M299.6,93.9h0M316.7,92.3h0M307.5,99.9h0M324.8,98.3h0M315.6,106.1h0M333.0,104.4h0M310.0,73.6h0M317.8,79.2h0M334.3,77.7h0M325.6,84.9h0M342.4,83.3h0M333.7,90.7h0M350.5,89.1h0M341.9,96.7h0M358.9,95.0h0M350.3,102.7h0M367.4,101.1h0M376.1,107.2h0M350.8,76.2h0M367.2,74.7h0M359.0,81.8h0M375.5,80.3h0M367.3,87.6h0M383.9,86.0h0M375.8,93.4h0M392.5,91.8h0M384.4,99.4h0M401.3,97.8h0M393.3,105.5h0M410.3,103.9h0M391.8,78.8h0M408.1,77.3h0M400.4,84.5h0M416.8,82.9h0M409.2,90.3h0M425.7,88.7h0M418.1,96.2h0M434.8,94.6h0M427.2,102.2h0M444.1,100.6h0M436.6,108.4h0M453.5,106.7h0M424.3,75.8h0M433.1,81.4h0M449.3,79.9h0M442.2,87.1h0M458.5,85.6h0M451.4,93.0h0M467.8,91.4h0M460.7,98.9h0M477.3,97.3h0M470.3,105.0h0M487.0,103.4h0M497.0,109.5h0M465.4,78.4h0M481.3,76.9h0M474.7,84.1h0M490.8,82.5h0M484.1,89.8h0M500.3,88.3h0M493.8,95.7h0M510.1,94.1h0M503.6,101.7h0M520.1,100.1h0M513.7,107.9h0M530.3,106.2h0M506.7,81.0h0M522.6,79.5h0M516.5,86.7h0M532.5,85.2h0M526.4,92.5h0M542.5,91.0h0M536.5,98.5h0M552.7,96.9h0M546.8,104.5h0M563.2,102.9h0M557.3,110.7h0M573.8,109.0h0M538.4,78.0h0M548.3,83.6h0M558.5,89.4h0M568.9,95.3h0M579.4,101.2h0M590.2,107.3h0" stroke="#bfe2d3" stroke-width="5.50" stroke-linecap="round" fill="none"/><path d="M103.1,133.9h0M122.3,132.0h0M134.7,123.5h0M153.4,121.7h0M141.3,130.2h0M160.2,128.3h0M167.1,135.1h0M165.1,113.4h0M183.4,111.7h0M171.9,119.9h0M190.3,118.1h0M178.9,126.5h0M197.5,124.7h0M186.0,133.2h0M204.7,131.4h0M201.5,110.0h0M219.5,108.3h0M208.6,116.4h0M226.8,114.6h0M215.9,122.9h0M234.2,121.1h0M223.4,129.5h0M241.9,127.7h0M231.0,136.3h0M249.6,134.5h0M237.3,106.6h0M244.8,112.9h0M262.7,111.1h0M252.4,119.3h0M270.5,117.5h0M260.2,125.9h0M278.4,124.1h0M268.2,132.6h0M286.5,130.7h0M294.8,137.5h0M280.5,109.4h0M298.1,107.7h0M288.4,115.8h0M306.2,114.0h0M296.5,122.3h0M314.5,120.5h0M304.8,128.9h0M322.9,127.1h0M313.3,135.7h0M331.5,133.8h0M340.3,140.7h0M323.9,112.3h0M341.4,110.6h0M332.3,118.7h0M350.0,117.0h0M340.9,125.3h0M358.7,123.5h0M349.7,131.9h0M367.7,130.1h0M358.6,138.8h0M376.8,136.9h0M358.8,108.9h0M367.5,115.2h0M385.0,113.5h0M376.5,121.7h0M394.0,119.9h0M385.6,128.3h0M403.3,126.5h0M394.9,135.0h0M412.8,133.1h0M404.4,141.9h0M422.4,140.0h0M402.3,111.8h0M419.5,110.1h0M411.5,118.1h0M428.8,116.4h0M420.9,124.7h0M438.4,122.9h0M430.5,131.3h0M448.2,129.5h0M440.3,138.1h0M458.1,136.2h0M468.3,143.1h0M446.1,114.7h0M463.1,112.9h0M455.8,121.1h0M473.0,119.3h0M465.7,127.6h0M483.0,125.8h0M475.8,134.3h0M493.3,132.5h0M486.1,141.2h0M503.8,139.3h0M480.1,111.2h0M490.1,117.6h0M507.1,115.8h0M500.3,124.0h0M517.4,122.3h0M510.7,130.7h0M528.0,128.8h0M521.4,137.4h0M538.8,135.5h0M532.2,144.3h0M549.8,142.4h0M524.0,114.1h0M540.7,112.4h0M534.4,120.5h0M551.3,118.7h0M545.1,127.0h0M562.2,125.2h0M556.1,133.7h0M573.2,131.9h0M567.2,140.5h0M584.5,138.6h0M596.1,145.5h0M568.1,117.0h0M584.7,115.3h0M579.1,123.4h0M595.8,121.7h0M590.3,130.0h0M607.2,128.2h0M601.7,136.7h0M618.8,134.9h0M613.4,143.6h0M630.6,141.7h0M601.2,113.6h0M612.5,119.9h0M624.0,126.4h0M635.7,133.0h0M647.7,139.8h0M659.9,146.7h0" stroke="#bfe2d3" stroke-width="6.00" stroke-linecap="round" fill="none"/><path d="M36.4,155.9h0M56.5,153.9h0M42.3,163.4h0M62.6,161.3h0M70.4,144.7h0M90.0,142.8h0M76.5,151.9h0M96.3,149.9h0M82.8,159.2h0M102.8,157.2h0M89.2,166.7h0M109.4,164.6h0M109.5,140.8h0M128.8,138.9h0M116.0,147.9h0M135.5,145.9h0M122.7,155.2h0M142.4,153.1h0M129.5,162.6h0M149.4,160.5h0M156.6,168.0h0M148.0,137.0h0M154.9,144.0h0M174.2,142.1h0M162.0,151.1h0M181.4,149.1h0M169.2,158.4h0M188.8,156.4h0M176.6,165.9h0M196.4,163.8h0M193.2,140.1h0M212.2,138.2h0M200.7,147.2h0M219.8,145.2h0M208.2,154.4h0M227.6,152.4h0M216.0,161.7h0M235.5,159.7h0M223.9,169.3h0M243.6,167.2h0M238.8,143.3h0M257.6,141.4h0M246.7,150.4h0M265.7,148.4h0M254.8,157.7h0M274.0,155.6h0M263.2,165.1h0M282.5,163.0h0M291.2,170.6h0M276.3,139.4h0M284.6,146.5h0M303.3,144.5h0M293.1,153.6h0M312.0,151.6h0M301.8,160.9h0M320.8,158.9h0M310.6,168.4h0M329.9,166.3h0M321.9,142.6h0M330.7,149.6h0M349.4,147.7h0M339.8,156.9h0M358.6,154.9h0M349.0,164.3h0M368.0,162.2h0M358.5,171.8h0M377.6,169.7h0M367.8,145.7h0M386.2,143.8h0M377.2,152.9h0M395.7,150.9h0M386.8,160.1h0M405.5,158.1h0M396.6,167.6h0M415.4,165.5h0M425.6,173.1h0M414.1,148.9h0M432.3,147.0h0M424.0,156.1h0M442.4,154.1h0M434.1,163.4h0M452.7,161.4h0M444.5,171.0h0M463.2,168.9h0M450.4,145.0h0M460.6,152.1h0M478.7,150.1h0M471.1,159.4h0M489.4,157.3h0M481.8,166.8h0M500.3,164.7h0M492.8,174.4h0M511.4,172.2h0M496.7,148.2h0M514.5,146.2h0M507.5,155.3h0M525.5,153.3h0M518.5,162.6h0M536.7,160.6h0M529.8,170.1h0M548.1,168.0h0M541.4,177.8h0M559.9,175.6h0M543.3,151.4h0M561.1,149.4h0M554.7,158.6h0M572.6,156.6h0M566.3,165.9h0M584.3,163.9h0M578.2,173.5h0M596.4,171.4h0M608.7,179.0h0M578.6,147.5h0M590.3,154.6h0M607.9,152.6h0M602.2,161.8h0M620.0,159.8h0M614.4,169.3h0M632.3,167.2h0M626.9,176.9h0M645.0,174.7h0M625.4,150.6h0M642.7,148.7h0M637.6,157.8h0M655.1,155.8h0M650.1,165.1h0M667.7,163.1h0M662.9,172.6h0M680.6,170.5h0M675.9,180.3h0M693.9,178.1h0M672.4,153.8h0M685.2,161.0h0M698.3,168.4h0M711.7,176.0h0" stroke="#bfe2d3" stroke-width="6.50" stroke-linecap="round" fill="none"/><path d="M48.2,171.0h0M68.8,168.9h0M54.4,178.8h0M75.2,176.6h0M60.7,186.8h0M81.7,184.5h0M67.1,195.0h0M88.3,192.6h0M95.8,174.4h0M116.2,172.3h0M102.5,182.3h0M123.1,180.1h0M109.4,190.4h0M130.2,188.1h0M116.4,198.6h0M137.5,196.3h0M136.5,170.1h0M143.6,177.9h0M163.9,175.7h0M150.9,185.8h0M171.4,183.6h0M158.4,194.0h0M179.1,191.7h0M187.0,199.9h0M184.1,173.6h0M204.1,171.4h0M191.8,181.4h0M212.0,179.2h0M199.7,189.4h0M220.1,187.1h0M207.8,197.6h0M228.4,195.3h0M232.1,177.0h0M251.9,174.8h0M240.4,184.9h0M260.4,182.7h0M248.9,193.0h0M269.2,190.7h0M257.6,201.2h0M278.1,198.9h0M271.7,172.7h0M280.4,180.5h0M300.1,178.3h0M289.3,188.4h0M309.2,186.2h0M298.4,196.6h0M318.5,194.3h0M328.1,202.6h0M319.7,176.1h0M339.2,174.0h0M329.0,184.0h0M348.7,181.7h0M338.5,192.0h0M358.4,189.7h0M348.3,200.2h0M368.3,197.9h0M368.1,179.6h0M387.5,177.4h0M378.0,187.5h0M397.5,185.2h0M388.2,195.6h0M407.9,193.3h0M398.5,203.9h0M418.4,201.5h0M406.6,175.2h0M416.9,183.0h0M436.1,180.8h0M427.4,191.0h0M446.8,188.8h0M438.2,199.2h0M457.7,196.9h0M468.9,205.2h0M455.1,178.7h0M474.0,176.5h0M466.0,186.5h0M485.1,184.3h0M477.1,194.6h0M496.4,192.3h0M488.5,202.8h0M508.0,200.5h0M519.8,208.9h0M504.0,182.1h0M522.8,179.9h0M515.5,190.1h0M534.4,187.8h0M527.2,198.2h0M546.4,195.9h0M539.3,206.5h0M558.6,204.1h0M553.2,185.6h0M571.9,183.4h0M565.3,193.6h0M584.1,191.3h0M577.7,201.8h0M596.7,199.5h0M590.4,210.2h0M609.5,207.8h0M590.3,181.2h0M602.8,189.1h0M621.3,186.9h0M615.5,197.2h0M634.2,194.9h0M628.5,205.5h0M647.4,203.1h0M660.9,211.5h0M639.7,184.7h0M657.9,182.5h0M652.7,192.6h0M671.1,190.4h0M666.1,200.8h0M684.6,198.5h0M689.3,188.2h0M707.4,185.9h0" stroke="#bfe2d3" stroke-width="7.00" stroke-linecap="round" fill="none"/><path d="M73.7,203.3h0M95.1,201.0h0M80.4,211.9h0M102.1,209.5h0M87.4,220.7h0M109.3,218.2h0M94.4,229.7h0M116.6,227.1h0M123.6,207.1h0M144.9,204.7h0M131.0,215.7h0M152.5,213.3h0M138.6,224.6h0M160.3,222.1h0M168.4,231.1h0M166.1,202.3h0M173.9,210.8h0M195.1,208.4h0M181.9,219.5h0M203.4,217.1h0M190.2,228.5h0M211.8,225.9h0M216.1,206.0h0M236.9,203.6h0M224.6,214.6h0M245.6,212.1h0M233.3,223.4h0M254.6,220.9h0M242.2,232.4h0M263.7,229.9h0M266.5,209.7h0M287.2,207.3h0M275.6,218.4h0M296.6,215.9h0M285.0,227.3h0M306.2,224.8h0M316.0,233.8h0M307.7,204.9h0M317.3,213.5h0M337.9,211.0h0M327.1,222.2h0M347.9,219.7h0M337.2,231.2h0M358.1,228.7h0M358.3,208.6h0M378.5,206.2h0M368.5,217.3h0M388.9,214.8h0M379.0,226.1h0M399.6,223.6h0M389.7,235.2h0M410.5,232.6h0M409.2,212.4h0M429.3,210.0h0M420.1,221.1h0M440.3,218.6h0M431.2,230.0h0M451.7,227.5h0M463.4,236.5h0M449.2,207.6h0M460.5,216.1h0M480.4,213.7h0M472.0,224.9h0M492.2,222.4h0M483.9,233.9h0M504.2,231.4h0M500.2,211.3h0M512.1,219.9h0M532.0,217.5h0M524.4,228.8h0M544.4,226.3h0M537.0,237.9h0M557.1,235.3h0M551.6,215.0h0M571.1,212.6h0M564.2,223.8h0M583.9,221.3h0M577.2,232.7h0M597.0,230.2h0M610.5,239.3h0M603.4,218.8h0M622.7,216.4h0M616.7,227.6h0M636.2,225.1h0M641.9,213.9h0" stroke="#bfe2d3" stroke-width="7.50" stroke-linecap="round" fill="none"/><path d="M101.7,239.0h0M124.1,236.3h0M109.2,248.4h0M131.8,245.7h0M116.8,258.2h0M139.8,255.4h0M146.3,233.7h0M154.3,243.0h0M176.6,240.3h0M162.5,252.6h0M185.0,249.8h0M170.9,262.4h0M193.6,259.6h0M198.6,237.7h0M220.5,235.1h0M207.3,247.1h0M229.4,244.4h0M216.2,256.8h0M238.6,254.0h0M247.9,263.8h0M251.3,241.7h0M273.1,239.1h0M260.7,251.2h0M282.7,248.5h0M270.4,261.0h0M292.6,258.2h0M294.6,236.4h0M304.5,245.8h0M326.1,243.1h0M314.6,255.4h0M336.4,252.6h0M325.0,265.2h0M347.0,262.4h0M347.5,240.4h0M368.7,237.8h0M358.0,249.9h0M379.5,247.2h0M368.9,259.6h0M390.5,256.8h0M401.9,266.6h0M400.7,244.5h0M421.8,241.8h0M412.0,254.0h0M433.3,251.3h0M423.6,263.8h0M445.1,261.0h0M442.7,239.2h0M454.4,248.5h0M475.3,245.8h0M466.4,258.2h0M487.6,255.4h0M478.8,268.1h0M500.1,265.2h0M496.0,243.2h0M516.6,240.5h0M508.5,252.6h0M529.3,249.9h0M521.3,262.4h0M542.3,259.6h0M555.6,269.5h0M549.8,247.2h0M570.2,244.5h0M563.0,256.8h0M583.6,254.0h0M590.4,241.9h0" stroke="#bfe2d3" stroke-width="8.00" stroke-linecap="round" fill="none"/><path d="M124.7,268.2h0M147.9,265.3h0M132.8,278.4h0M156.2,275.4h0M141.0,289.0h0M164.8,285.9h0M179.5,272.5h0M202.5,269.6h0M188.3,282.9h0M211.6,279.9h0M221.0,290.4h0M225.3,266.7h0M234.7,276.9h0M257.6,273.9h0M244.3,287.3h0M267.5,284.3h0M280.2,271.0h0M302.7,268.1h0M290.4,281.3h0M313.1,278.3h0M300.8,291.8h0M323.8,288.8h0M335.6,275.3h0M357.9,272.4h0M346.5,285.7h0M369.1,282.7h0M357.8,296.4h0M380.6,293.3h0M380.0,269.5h0M391.4,279.7h0M413.6,276.8h0M403.2,290.2h0M425.5,287.2h0M437.9,297.9h0M435.5,273.8h0M457.2,270.9h0M447.7,284.2h0M469.7,281.2h0M460.3,294.7h0M482.5,291.7h0M491.5,278.2h0M513.0,275.3h0M504.5,288.6h0M526.3,285.6h0M534.4,272.3h0" stroke="#bfe2d3" stroke-width="8.50" stroke-linecap="round" fill="none"/><path d="M149.6,299.8h0M173.6,296.6h0M158.3,310.9h0M182.6,307.7h0M191.9,319.0h0M197.4,293.5h0M206.7,304.4h0M230.6,301.2h0M216.3,315.7h0M240.5,312.4h0M254.2,298.1h0M277.6,295.0h0M264.4,309.1h0M288.1,305.9h0M274.8,320.5h0M298.8,317.2h0M311.5,302.7h0M334.8,299.5h0M322.5,313.9h0M346.0,310.6h0M357.6,322.0h0M369.3,307.4h0M392.4,304.2h0M381.2,318.6h0M404.5,315.3h0M417.0,326.8h0M415.2,301.0h0M427.6,312.1h0M450.5,308.8h0M440.4,323.5h0M463.5,320.1h0M473.2,305.6h0M495.6,302.5h0" stroke="#bfe2d3" stroke-width="9.00" stroke-linecap="round" fill="none"/><path d="M167.3,322.3h0M176.6,334.1h0M201.5,330.7h0M186.1,346.2h0M211.3,342.7h0M226.2,327.2h0M250.6,323.8h0M236.3,339.1h0M261.1,335.6h0M246.8,351.4h0M271.8,347.8h0M285.6,332.2h0M309.8,328.7h0M296.6,344.2h0M321.2,340.6h0M332.9,352.9h0M333.8,325.3h0M345.5,337.1h0M369.6,333.7h0M357.5,349.3h0M381.8,345.7h0M393.4,330.2h0M405.9,342.2h0M429.8,338.7h0" stroke="#bfe2d3" stroke-width="9.50" stroke-linecap="round" fill="none"/><path d="M195.9,358.7h0M221.5,355.0h0M206.0,371.6h0M231.9,367.8h0M257.5,364.0h0M282.9,360.3h0M268.6,377.0h0M294.3,373.1h0M308.0,356.6h0M319.7,369.3h0M344.9,365.5h0M357.3,378.5h0M369.8,361.8h0M394.5,358.1h0" stroke="#bfe2d3" stroke-width="10.00" stroke-linecap="round" fill="none"/><path d="M216.5,384.8h0M242.7,380.9h0M227.2,398.5h0M253.8,394.4h0M280.1,390.4h0M306.1,386.4h0M291.8,404.2h0M318.2,400.1h0M331.8,382.4h0" stroke="#bfe2d3" stroke-width="10.50" stroke-linecap="round" fill="none"/><path d="M238.3,412.5h0M265.2,408.3h0M249.7,427.1h0M277.0,422.7h0" stroke="#bfe2d3" stroke-width="11.00" stroke-linecap="round" fill="none"/><path d="M389.7,39.3h0M404.8,38.0h0M412.9,42.9h0M411.8,32.0h0M426.7,30.7h0M419.9,36.7h0M434.8,35.5h0M428.1,41.6h0M443.1,40.3h0M433.3,24.9h0M441.4,29.5h0M449.7,34.2h0M458.1,39.0h0M466.6,43.9h0" stroke="#cdc5e0" stroke-width="3.50" stroke-linecap="round" fill="none"/><path d="M268.1,79.4h0M284.8,77.9h0M275.5,85.2h0M292.4,83.6h0M294.0,70.9h0M310.4,69.4h0M301.5,76.4h0M318.1,74.9h0M309.2,82.1h0M325.9,80.6h0M333.9,86.3h0M319.1,62.6h0M335.2,61.2h0M326.7,68.0h0M343.0,66.5h0M334.5,73.5h0M350.9,72.0h0M342.5,79.0h0M359.0,77.5h0M350.6,84.7h0M367.2,83.2h0M343.4,54.6h0M359.1,53.2h0M351.1,59.8h0M367.0,58.4h0M359.1,65.1h0M375.1,63.7h0M367.1,70.5h0M383.3,69.1h0M375.4,76.0h0M391.6,74.6h0M383.7,81.7h0M400.1,80.2h0M392.3,87.4h0M408.8,85.9h0M366.9,46.8h0M382.3,45.5h0M374.8,51.9h0M390.3,50.5h0M382.8,57.0h0M398.5,55.6h0M391.0,62.3h0M406.7,60.9h0M399.3,67.6h0M415.2,66.2h0M407.8,73.1h0M423.8,71.6h0M416.4,78.7h0M432.6,77.2h0M425.2,84.3h0M441.5,82.8h0M450.7,88.6h0M397.7,44.2h0M405.8,49.2h0M421.1,47.9h0M414.0,54.3h0M429.5,52.9h0M422.4,59.5h0M438.0,58.1h0M431.0,64.8h0M446.7,63.4h0M439.7,70.2h0M455.6,68.7h0M448.6,75.7h0M464.6,74.2h0M457.7,81.3h0M473.8,79.8h0M467.0,87.0h0M483.2,85.5h0M436.4,46.5h0M451.5,45.2h0M444.9,51.6h0M460.1,50.2h0M453.5,56.7h0M468.9,55.4h0M462.3,62.0h0M477.8,60.6h0M471.3,67.3h0M486.9,65.9h0M480.4,72.7h0M496.2,71.3h0M489.8,78.3h0M505.6,76.8h0M499.3,83.9h0M515.3,82.4h0M509.0,89.7h0M525.1,88.1h0M475.3,48.9h0M484.2,54.0h0M493.2,59.2h0M502.4,64.4h0M511.8,69.8h0M521.4,75.3h0M531.1,80.9h0M541.1,86.6h0M551.2,92.4h0" stroke="#cdc5e0" stroke-width="4.00" stroke-linecap="round" fill="none"/><path d="M143.1,125.1h0M155.1,116.7h0M173.5,115.0h0M161.8,123.3h0M180.4,121.5h0M184.8,106.9h0M202.8,105.2h0M191.8,113.2h0M209.9,111.5h0M198.8,119.7h0M217.1,117.9h0M206.1,126.3h0M224.5,124.5h0M213.5,97.4h0M231.1,95.8h0M220.6,103.6h0M238.3,101.9h0M227.9,109.8h0M245.8,108.1h0M235.3,116.2h0M253.3,114.4h0M242.9,122.7h0M261.1,120.9h0M268.9,127.5h0M241.3,88.3h0M258.4,86.7h0M248.5,94.2h0M265.8,92.6h0M255.9,100.2h0M273.4,98.6h0M263.5,106.4h0M281.1,104.7h0M271.2,112.7h0M289.0,111.0h0M279.1,119.1h0M297.0,117.3h0M287.2,125.7h0M305.3,123.9h0M313.7,130.5h0M283.0,91.0h0M300.1,89.4h0M290.7,97.0h0M308.0,95.3h0M298.6,103.0h0M316.0,101.4h0M306.6,109.3h0M324.2,107.6h0M314.9,115.6h0M332.5,113.9h0M323.2,122.1h0M341.1,120.3h0M331.8,128.7h0M349.8,126.9h0M317.1,87.9h0M325.1,93.7h0M342.1,92.1h0M333.2,99.7h0M350.4,98.1h0M341.6,105.9h0M358.8,104.2h0M350.1,112.1h0M367.5,110.4h0M358.8,118.5h0M376.3,116.8h0M367.6,125.1h0M385.4,123.3h0M376.7,131.7h0M394.6,129.9h0M358.9,90.6h0M375.7,89.0h0M367.4,96.5h0M384.3,94.9h0M376.0,102.5h0M393.0,100.9h0M384.8,108.7h0M402.0,107.0h0M393.8,115.0h0M411.1,113.3h0M403.0,121.5h0M420.4,119.7h0M412.3,128.1h0M430.0,126.2h0M439.7,132.9h0M401.0,93.3h0M417.7,91.7h0M409.9,99.3h0M426.7,97.6h0M419.0,105.4h0M436.0,103.7h0M428.3,111.6h0M445.4,109.9h0M437.8,118.0h0M455.0,116.2h0M447.4,124.5h0M464.8,122.7h0M457.3,131.1h0M474.8,129.3h0M434.2,90.1h0M443.4,96.0h0M460.0,94.4h0M452.8,102.1h0M469.5,100.4h0M462.3,108.2h0M479.2,106.5h0M472.1,114.5h0M489.1,112.8h0M482.1,120.9h0M499.2,119.1h0M492.2,127.4h0M509.5,125.6h0M502.6,134.1h0M520.0,132.3h0M476.4,92.8h0M492.8,91.2h0M486.1,98.8h0M502.5,97.2h0M495.9,104.9h0M512.5,103.2h0M505.9,111.1h0M522.7,109.4h0M516.2,117.4h0M533.0,115.7h0M526.6,123.8h0M543.6,122.1h0M537.3,130.4h0M554.5,128.6h0M565.5,135.3h0M518.9,95.6h0M535.1,94.0h0M529.0,101.6h0M545.3,99.9h0M539.3,107.7h0M555.8,106.0h0M549.8,113.9h0M566.4,112.2h0M560.5,120.3h0M577.3,118.6h0M571.5,126.8h0M588.4,125.0h0M582.7,133.5h0M599.7,131.6h0M561.6,98.3h0M572.2,104.4h0M582.9,110.5h0M593.9,116.8h0M605.2,123.3h0M616.6,129.8h0M628.4,136.5h0" stroke="#cdc5e0" stroke-width="4.50" stroke-linecap="round" fill="none"/><path d="M24.8,159.8h0M45.1,157.7h0M51.1,165.2h0M59.2,148.4h0M79.0,146.4h0M65.2,155.7h0M85.2,153.6h0M71.4,163.1h0M91.6,161.0h0M92.3,137.5h0M111.7,135.6h0M98.6,144.5h0M118.1,142.5h0M105.1,151.6h0M124.8,149.6h0M111.7,159.0h0M131.6,156.9h0M118.4,166.5h0M138.5,164.4h0M124.3,126.9h0M130.8,133.7h0M149.8,131.8h0M137.5,140.6h0M156.7,138.7h0M144.3,147.7h0M163.7,145.7h0M151.3,154.9h0M170.9,152.9h0M158.4,162.3h0M178.2,160.2h0M185.7,167.7h0M168.7,130.0h0M187.5,128.1h0M175.8,136.8h0M194.7,134.9h0M182.9,143.8h0M202.0,141.8h0M190.3,150.9h0M209.6,148.9h0M197.8,158.2h0M217.3,156.1h0M205.5,165.6h0M225.2,163.5h0M213.4,133.0h0M232.1,131.2h0M221.0,139.9h0M239.8,138.0h0M228.7,146.9h0M247.7,145.0h0M236.6,154.1h0M255.8,152.1h0M244.7,161.5h0M264.0,159.4h0M252.9,169.0h0M272.5,166.9h0M250.6,129.3h0M258.5,136.1h0M277.0,134.2h0M266.5,143.0h0M285.3,141.1h0M274.8,150.1h0M293.7,148.2h0M283.2,157.4h0M302.3,155.4h0M291.9,164.8h0M311.1,162.7h0M320.1,170.3h0M295.4,132.4h0M303.8,139.2h0M322.2,137.3h0M312.4,146.2h0M331.0,144.3h0M321.2,153.4h0M340.0,151.4h0M330.2,160.7h0M349.1,158.6h0M339.4,168.2h0M358.5,166.1h0M368.1,173.7h0M340.5,135.4h0M358.7,133.6h0M349.5,142.3h0M367.8,140.4h0M358.6,149.4h0M377.1,147.4h0M367.9,156.6h0M386.6,154.6h0M377.5,164.0h0M396.3,161.9h0M387.2,171.5h0M406.2,169.4h0M386.0,138.5h0M404.0,136.7h0M395.4,145.5h0M413.6,143.6h0M405.1,152.6h0M423.5,150.6h0M415.0,159.9h0M433.5,157.9h0M425.1,167.3h0M443.8,165.2h0M435.4,174.9h0M454.3,172.8h0M421.9,134.8h0M431.7,141.6h0M449.6,139.7h0M441.7,148.7h0M459.8,146.7h0M451.9,155.8h0M470.2,153.8h0M462.4,163.2h0M480.8,161.1h0M473.0,170.7h0M491.6,168.6h0M502.7,176.2h0M467.4,137.9h0M485.1,136.0h0M477.7,144.8h0M495.5,142.9h0M488.3,151.9h0M506.2,149.9h0M499.0,159.1h0M517.2,157.1h0M510.1,166.5h0M528.4,164.4h0M521.3,174.1h0M539.8,171.9h0M513.2,141.0h0M530.8,139.1h0M524.1,147.9h0M541.8,146.0h0M535.2,155.1h0M553.0,153.1h0M546.5,162.4h0M564.5,160.3h0M558.1,169.8h0M576.3,167.7h0M570.0,177.5h0M588.3,175.3h0M548.2,137.2h0M559.4,144.1h0M576.8,142.2h0M570.8,151.1h0M588.4,149.2h0M582.4,158.3h0M600.1,156.3h0M594.3,165.7h0M612.2,163.6h0M606.5,173.2h0M624.5,171.1h0M637.2,178.7h0M594.1,140.3h0M611.3,138.4h0M605.8,147.2h0M623.1,145.3h0M617.8,154.3h0M635.2,152.3h0M630.0,161.6h0M647.6,159.6h0M642.5,169.0h0M660.2,166.9h0M655.2,176.6h0M673.2,174.5h0M640.3,143.4h0M652.6,150.4h0M665.1,157.5h0M677.9,164.9h0M690.9,172.3h0M704.3,180.0h0" stroke="#cdc5e0" stroke-width="5.00" stroke-linecap="round" fill="none"/><path d="M30.5,167.3h0M36.4,175.0h0M57.2,172.9h0M42.5,182.9h0M63.4,180.7h0M48.7,191.0h0M69.8,188.7h0M55.0,199.3h0M76.4,196.9h0M83.1,205.4h0M77.7,170.7h0M98.2,168.6h0M84.2,178.5h0M104.8,176.3h0M90.8,186.5h0M111.7,184.2h0M97.6,194.6h0M118.7,192.3h0M104.6,203.0h0M125.9,200.6h0M133.2,209.1h0M125.3,174.1h0M145.6,172.0h0M132.3,182.0h0M152.8,179.8h0M139.6,190.0h0M160.3,187.8h0M147.0,198.3h0M167.9,195.9h0M154.5,206.7h0M175.7,204.3h0M165.7,169.9h0M173.2,177.6h0M193.4,175.4h0M180.8,185.5h0M201.2,183.3h0M188.6,193.6h0M209.2,191.3h0M196.7,201.9h0M217.5,199.6h0M204.9,210.4h0M225.9,208.0h0M213.4,173.3h0M233.2,171.1h0M221.4,181.1h0M241.5,178.9h0M229.7,189.1h0M249.9,186.8h0M238.1,197.3h0M258.6,194.9h0M246.7,205.6h0M267.4,203.3h0M276.5,211.8h0M261.4,176.7h0M281.1,174.5h0M270.0,184.6h0M289.9,182.4h0M278.8,192.6h0M299.0,190.4h0M287.9,200.9h0M308.2,198.6h0M297.2,209.4h0M317.7,207.0h0M300.7,172.4h0M309.7,180.2h0M329.3,178.0h0M318.9,188.1h0M338.8,185.9h0M328.4,196.2h0M348.4,193.9h0M338.1,204.6h0M358.3,202.2h0M348.0,213.1h0M368.4,210.7h0M348.8,175.8h0M358.4,183.6h0M377.9,181.4h0M368.2,191.7h0M387.9,189.4h0M378.3,199.9h0M398.2,197.5h0M388.7,208.3h0M408.7,205.9h0M419.5,214.4h0M397.2,179.3h0M416.4,177.1h0M407.4,187.2h0M426.8,184.9h0M417.9,195.2h0M437.5,193.0h0M428.6,203.5h0M448.4,201.2h0M439.6,212.0h0M459.5,209.6h0M446.0,182.7h0M465.1,180.5h0M456.8,190.7h0M476.1,188.4h0M467.9,198.9h0M487.4,196.5h0M479.3,207.2h0M498.9,204.8h0M490.9,215.8h0M510.7,213.3h0M484.0,178.4h0M495.2,186.2h0M514.1,184.0h0M506.6,194.3h0M525.7,192.0h0M518.3,202.5h0M537.6,200.2h0M530.4,210.9h0M549.8,208.5h0M562.3,217.1h0M532.9,181.8h0M551.5,179.6h0M544.7,189.7h0M563.5,187.5h0M556.7,197.8h0M575.7,195.6h0M569.1,206.2h0M588.3,203.8h0M581.8,214.7h0M601.1,212.2h0M582.1,185.3h0M600.6,183.1h0M594.5,193.3h0M613.2,191.0h0M607.3,201.5h0M626.1,199.1h0M620.3,209.8h0M639.3,207.5h0M633.6,218.4h0M652.8,216.0h0M619.0,180.9h0M631.7,188.8h0M650.1,186.6h0M644.8,196.8h0M663.3,194.6h0M658.1,205.1h0M676.8,202.8h0M668.3,184.4h0M686.4,182.2h0M681.7,192.3h0M699.9,190.1h0" stroke="#cdc5e0" stroke-width="5.50" stroke-linecap="round" fill="none"/><path d="M61.5,207.8h0M68.1,216.5h0M90.0,214.0h0M74.9,225.4h0M97.0,222.8h0M81.9,234.5h0M104.3,231.9h0M89.1,243.9h0M111.7,241.2h0M111.7,211.5h0M119.0,220.3h0M140.7,217.8h0M126.5,229.3h0M148.4,226.7h0M134.1,238.5h0M156.4,235.9h0M142.0,248.0h0M164.5,245.3h0M162.3,215.3h0M183.7,212.9h0M170.2,224.2h0M191.8,221.7h0M178.4,233.3h0M200.2,230.7h0M186.8,242.6h0M208.8,239.9h0M217.7,249.4h0M213.3,219.2h0M234.5,216.7h0M221.9,228.1h0M243.4,225.5h0M230.7,237.3h0M252.4,234.6h0M239.8,246.7h0M261.7,244.0h0M255.6,214.2h0M264.7,223.0h0M285.8,220.5h0M274.0,232.0h0M295.3,229.5h0M283.5,241.3h0M305.0,238.6h0M293.3,250.8h0M315.1,248.0h0M306.7,218.0h0M327.4,215.6h0M316.4,226.9h0M337.4,224.4h0M326.4,236.0h0M347.6,233.4h0M336.7,245.3h0M358.1,242.7h0M368.8,252.2h0M358.2,221.9h0M378.8,219.4h0M368.6,230.8h0M389.4,228.3h0M379.3,240.0h0M400.3,237.4h0M390.3,249.4h0M411.5,246.7h0M399.2,216.9h0M410.1,225.7h0M430.6,223.2h0M421.2,234.8h0M441.9,232.2h0M432.6,244.0h0M453.5,241.4h0M444.3,253.6h0M465.4,250.8h0M450.8,220.7h0M471.0,218.2h0M462.4,229.6h0M482.7,227.1h0M474.2,238.7h0M494.7,236.1h0M486.3,248.1h0M507.0,245.4h0M519.7,254.9h0M502.9,224.5h0M522.8,222.0h0M515.1,233.5h0M535.3,231.0h0M527.6,242.7h0M548.0,240.1h0M540.4,252.2h0M561.0,249.5h0M542.7,219.6h0M555.3,228.4h0M575.1,225.9h0M568.2,237.5h0M588.2,234.9h0M581.4,246.8h0M601.7,244.1h0M594.8,223.4h0M614.3,220.9h0M608.1,232.3h0M627.8,229.8h0" stroke="#cdc5e0" stroke-width="6.00" stroke-linecap="round" fill="none"/><path d="M96.4,253.5h0M119.3,250.7h0M104.0,263.4h0M127.1,260.5h0M111.7,273.5h0M135.1,270.6h0M119.7,283.9h0M143.4,280.9h0M150.1,257.7h0M172.8,254.9h0M158.3,267.7h0M181.3,264.8h0M166.8,277.9h0M190.1,274.9h0M199.1,285.4h0M195.3,252.1h0M204.1,261.9h0M226.7,259.1h0M213.2,272.0h0M236.0,269.1h0M222.4,282.3h0M245.5,279.3h0M255.3,289.9h0M249.1,256.3h0M271.3,253.5h0M258.6,266.2h0M281.1,263.3h0M268.4,276.4h0M291.1,273.4h0M278.5,286.8h0M301.4,283.8h0M303.3,260.5h0M325.3,257.7h0M313.6,270.5h0M335.9,267.6h0M324.2,280.8h0M346.7,277.8h0M335.0,291.3h0M357.8,288.2h0M347.2,254.9h0M357.9,264.8h0M379.8,261.9h0M369.0,274.8h0M391.1,271.9h0M380.4,285.2h0M402.7,282.2h0M414.7,292.8h0M401.5,259.1h0M423.0,256.3h0M413.0,269.0h0M434.8,266.2h0M424.9,279.2h0M446.8,276.3h0M437.1,289.7h0M459.2,286.6h0M456.3,263.3h0M477.6,260.5h0M468.6,273.3h0M490.1,270.4h0M481.2,283.6h0M503.0,280.6h0M494.2,294.2h0M516.2,291.1h0M498.7,257.7h0M511.5,267.6h0M532.7,264.7h0M524.6,277.7h0M546.0,274.8h0M553.6,261.9h0M574.4,259.1h0" stroke="#cdc5e0" stroke-width="6.50" stroke-linecap="round" fill="none"/><path d="M127.8,294.6h0M151.8,291.5h0M136.2,305.6h0M160.5,302.4h0M144.9,316.9h0M169.4,313.6h0M178.6,325.1h0M175.6,288.4h0M184.6,299.2h0M208.4,296.1h0M193.8,310.3h0M217.9,307.1h0M203.3,321.7h0M227.7,318.4h0M232.0,292.9h0M241.8,303.9h0M265.4,300.7h0M251.8,315.1h0M275.8,311.8h0M262.2,326.6h0M286.4,323.2h0M288.8,297.5h0M312.1,294.4h0M299.5,308.5h0M322.9,305.3h0M310.4,319.9h0M334.2,316.5h0M345.7,328.1h0M346.2,302.1h0M369.2,299.0h0M357.7,313.3h0M381.0,310.0h0M369.5,324.7h0M393.0,321.4h0M392.1,295.8h0M404.1,306.8h0M426.9,303.6h0M416.4,318.0h0M439.5,314.7h0M429.1,329.6h0M452.5,326.2h0M449.6,300.4h0M472.0,297.3h0M462.4,311.5h0M485.1,308.3h0" stroke="#cdc5e0" stroke-width="7.00" stroke-linecap="round" fill="none"/><path d="M153.8,328.5h0M162.9,340.5h0M188.1,337.0h0M172.3,352.8h0M197.8,349.1h0M207.8,361.7h0M213.0,333.5h0M237.7,330.0h0M223.1,345.6h0M248.1,342.0h0M233.4,358.0h0M258.8,354.3h0M272.9,338.5h0M297.4,335.0h0M283.8,350.7h0M308.6,347.1h0M295.1,363.3h0M320.2,359.5h0M321.6,331.5h0M333.2,343.5h0M357.5,340.0h0M345.1,355.9h0M369.7,352.2h0M382.3,364.8h0M381.6,336.5h0M405.5,333.0h0M394.1,348.6h0M418.2,345.0h0" stroke="#cdc5e0" stroke-width="7.50" stroke-linecap="round" fill="none"/><path d="M182.0,365.5h0M192.0,378.5h0M218.2,374.6h0M202.3,392.0h0M228.8,388.0h0M244.1,370.8h0M269.7,367.0h0M255.1,384.0h0M281.0,380.1h0M266.4,397.6h0M292.7,393.6h0M306.7,376.2h0M332.2,372.4h0M318.7,389.6h0M344.5,385.6h0M357.4,368.6h0" stroke="#cdc5e0" stroke-width="8.00" stroke-linecap="round" fill="none"/><path d="M212.9,405.9h0M239.8,401.7h0M223.8,420.2h0M251.1,415.9h0M262.8,430.6h0M278.1,411.7h0M304.7,407.5h0" stroke="#cdc5e0" stroke-width="8.50" stroke-linecap="round" fill="none"/><path d="M235.1,435.0h0" stroke="#cdc5e0" stroke-width="9.00" stroke-linecap="round" fill="none"/></g></g><g filter="url(#ablur1)" opacity="0.35"><ellipse cx="249.0" cy="433.7" rx="3.7" ry="2.6" fill="#6b6540"/><ellipse cx="263.2" cy="425.7" rx="3.7" ry="2.6" fill="#6b6540"/><ellipse cx="290.3" cy="411.9" rx="3.6" ry="2.5" fill="#6b6540"/><ellipse cx="304.1" cy="404.1" rx="3.6" ry="2.5" fill="#6b6540"/><ellipse cx="329.6" cy="391.1" rx="3.5" ry="2.5" fill="#6b6540"/><ellipse cx="343.1" cy="383.5" rx="3.5" ry="2.5" fill="#6b6540"/><ellipse cx="367.3" cy="371.2" rx="3.4" ry="2.4" fill="#6b6540"/><ellipse cx="380.4" cy="363.8" rx="3.4" ry="2.4" fill="#6b6540"/><ellipse cx="403.3" cy="352.2" rx="3.3" ry="2.3" fill="#6b6540"/><ellipse cx="416.1" cy="344.9" rx="3.3" ry="2.3" fill="#6b6540"/><ellipse cx="437.9" cy="333.9" rx="3.2" ry="2.3" fill="#6b6540"/><ellipse cx="450.3" cy="326.9" rx="3.2" ry="2.3" fill="#6b6540"/><ellipse cx="471.0" cy="316.4" rx="3.2" ry="2.2" fill="#6b6540"/><ellipse cx="483.1" cy="309.6" rx="3.2" ry="2.2" fill="#6b6540"/><ellipse cx="502.7" cy="299.7" rx="3.1" ry="2.2" fill="#6b6540"/><ellipse cx="514.5" cy="293.0" rx="3.1" ry="2.2" fill="#6b6540"/><ellipse cx="533.2" cy="283.5" rx="3.0" ry="2.1" fill="#6b6540"/><ellipse cx="544.7" cy="277.0" rx="3.0" ry="2.1" fill="#6b6540"/><ellipse cx="562.5" cy="268.1" rx="2.9" ry="2.1" fill="#6b6540"/><ellipse cx="573.8" cy="261.7" rx="2.9" ry="2.1" fill="#6b6540"/><ellipse cx="590.7" cy="253.2" rx="2.9" ry="2.0" fill="#6b6540"/><ellipse cx="601.7" cy="247.0" rx="2.9" ry="2.0" fill="#6b6540"/><ellipse cx="617.8" cy="238.8" rx="2.8" ry="2.0" fill="#6b6540"/><ellipse cx="628.6" cy="232.8" rx="2.8" ry="2.0" fill="#6b6540"/><ellipse cx="643.9" cy="225.0" rx="2.7" ry="1.9" fill="#6b6540"/><ellipse cx="654.5" cy="219.1" rx="2.7" ry="1.9" fill="#6b6540"/><ellipse cx="669.1" cy="211.7" rx="2.7" ry="1.9" fill="#6b6540"/><ellipse cx="679.4" cy="205.9" rx="2.7" ry="1.9" fill="#6b6540"/><ellipse cx="693.4" cy="198.9" rx="2.6" ry="1.8" fill="#6b6540"/><ellipse cx="703.5" cy="193.2" rx="2.6" ry="1.8" fill="#6b6540"/><ellipse cx="716.9" cy="186.5" rx="2.6" ry="1.8" fill="#6b6540"/><ellipse cx="726.7" cy="180.9" rx="2.6" ry="1.8" fill="#6b6540"/></g><path d="M226.8,430.6L237.9,436.2L252.1,422.0L239.1,424.4M268.6,408.9L279.4,414.3L293.3,400.5L280.6,402.9M308.6,388.2L319.1,393.4L332.6,380.0L320.3,382.3M346.8,368.3L357.1,373.5L370.2,360.4L358.2,362.7M383.4,349.4L393.4,354.4L406.1,341.6L394.5,343.8M418.4,331.2L428.1,336.1L440.6,323.7L429.2,325.8M452.0,313.8L461.5,318.5L473.6,306.4L462.5,308.5M484.2,297.1L493.5,301.7L505.3,289.9L494.5,291.9M515.1,281.0L524.2,285.5L535.7,274.0L525.2,276.0M544.9,265.6L553.7,270.0L564.9,258.8L554.7,260.7M573.5,250.8L582.1,255.1L593.1,244.1L583.0,246.0M601.0,236.5L609.4,240.7L620.2,230.0L610.3,231.8M627.5,222.7L635.7,226.9L646.2,216.3L636.6,218.2M653.0,209.5L661.1,213.5L671.4,203.2L662.0,205.0M677.7,196.7L685.6,200.6L695.6,190.6L686.4,192.3M701.5,184.4L709.2,188.2L719.0,178.4L710.0,180.1" stroke="#4a4a3a" stroke-width="0.8" fill="none"/><circle cx="239.1" cy="424.4" r="4.0" fill="#35a98f"/><circle cx="280.6" cy="402.9" r="3.8" fill="#35a98f"/><circle cx="320.3" cy="382.3" r="3.7" fill="#35a98f"/><circle cx="358.2" cy="362.7" r="3.6" fill="#35a98f"/><circle cx="394.5" cy="343.8" r="3.5" fill="#35a98f"/><circle cx="429.2" cy="325.8" r="3.5" fill="#35a98f"/><circle cx="462.5" cy="308.5" r="3.4" fill="#35a98f"/><circle cx="494.5" cy="291.9" r="3.3" fill="#35a98f"/><circle cx="525.2" cy="276.0" r="3.2" fill="#35a98f"/><circle cx="554.7" cy="260.7" r="3.1" fill="#35a98f"/><circle cx="583.0" cy="246.0" r="3.1" fill="#35a98f"/><circle cx="610.3" cy="231.8" r="3.0" fill="#35a98f"/><circle cx="636.6" cy="218.2" r="2.9" fill="#35a98f"/><circle cx="662.0" cy="205.0" r="2.9" fill="#35a98f"/><circle cx="686.4" cy="192.3" r="2.8" fill="#35a98f"/><circle cx="710.0" cy="180.1" r="2.7" fill="#35a98f"/><circle cx="237.9" cy="436.2" r="4.4" fill="url(#gteal)"/><circle cx="279.4" cy="414.3" r="4.3" fill="url(#gteal)"/><circle cx="319.1" cy="393.4" r="4.2" fill="url(#gteal)"/><circle cx="357.1" cy="373.5" r="4.1" fill="url(#gteal)"/><circle cx="393.4" cy="354.4" r="4.0" fill="url(#gteal)"/><circle cx="428.1" cy="336.1" r="3.9" fill="url(#gteal)"/><circle cx="461.5" cy="318.5" r="3.8" fill="url(#gteal)"/><circle cx="493.5" cy="301.7" r="3.7" fill="url(#gteal)"/><circle cx="524.2" cy="285.5" r="3.6" fill="url(#gteal)"/><circle cx="553.7" cy="270.0" r="3.5" fill="url(#gteal)"/><circle cx="582.1" cy="255.1" r="3.4" fill="url(#gteal)"/><circle cx="609.4" cy="240.7" r="3.4" fill="url(#gteal)"/><circle cx="635.7" cy="226.9" r="3.3" fill="url(#gteal)"/><circle cx="661.1" cy="213.5" r="3.2" fill="url(#gteal)"/><circle cx="685.6" cy="200.6" r="3.2" fill="url(#gteal)"/><circle cx="709.2" cy="188.2" r="3.1" fill="url(#gteal)"/><circle cx="252.1" cy="422.0" r="4.3" fill="url(#gpurp)"/><circle cx="293.3" cy="400.5" r="4.2" fill="url(#gpurp)"/><circle cx="332.6" cy="380.0" r="4.1" fill="url(#gpurp)"/><circle cx="370.2" cy="360.4" r="4.0" fill="url(#gpurp)"/><circle cx="406.1" cy="341.6" r="3.9" fill="url(#gpurp)"/><circle cx="440.6" cy="323.7" r="3.8" fill="url(#gpurp)"/><circle cx="473.6" cy="306.4" r="3.7" fill="url(#gpurp)"/><circle cx="505.3" cy="289.9" r="3.6" fill="url(#gpurp)"/><circle cx="535.7" cy="274.0" r="3.5" fill="url(#gpurp)"/><circle cx="564.9" cy="258.8" r="3.4" fill="url(#gpurp)"/><circle cx="593.1" cy="244.1" r="3.3" fill="url(#gpurp)"/><circle cx="620.2" cy="230.0" r="3.3" fill="url(#gpurp)"/><circle cx="646.2" cy="216.3" r="3.2" fill="url(#gpurp)"/><circle cx="671.4" cy="203.2" r="3.1" fill="url(#gpurp)"/><circle cx="695.6" cy="190.6" r="3.1" fill="url(#gpurp)"/><circle cx="719.0" cy="178.4" r="3.0" fill="url(#gpurp)"/><polygon points="15.6,153.4 440.0,17.0 726.0,170.0 226.0,429.0" fill="url(#gsio2)"/><polygon points="226.0,429.0 726.0,170.0 725.5,175.5 227.0,434.0" fill="#eef1ec" opacity="0.55"/><polygon points="15.6,153.4 226.0,429.0 227.0,434.0 16.5,158.0" fill="#c5cbc5" opacity="0.6"/><polygon points="288.8,106.9 371.4,167.6 372.0,174.5 288.8,112.5" fill="#7fb4c0"/><polygon points="461.3,187.0 681.0,171.3 681.0,181.4 462.4,198.0 394.0,228.3 272.8,382.7 272.8,372.3 395.0,217.0" fill="#7fb4c0"/><polygon points="248.0,365.0 272.8,372.3 272.8,382.7 248.0,375.4" fill="#8fc4d0"/><polygon points="675.5,160.2 681.0,171.3 681.0,181.4" fill="#8fc4d0"/><path d="M300.7,96.9 392.4,161.7 449.0,173.5 675.5,160.2 681.0,171.3 461.3,187.0 395.0,217.0 272.8,372.3 248.0,365.0 375.4,208.6 371.4,167.6 288.8,106.9Z M393.3,173.2 395.7,201.1 436.2,182.0Z" fill="#a7d7e4" fill-rule="evenodd"/><polygon points="393.3,173.2 436.2,182.0 428.0,188.5 394.5,181.0" fill="#7fb4c0"/><polygon points="325.3,121.6 350.2,140.4 348.2,143.1 359.5,144.7 354.8,134.3 352.9,136.9 327.9,118.0" fill="#3a8fd8"/><polygon points="314.5,126.4 340.4,147.0 338.6,149.4 349.5,151.7 344.8,141.6 342.9,143.9 316.9,123.2" fill="#e2635d"/><polygon points="394.9,169.8 432.9,177.5 432.2,180.8 444.1,177.6 434.4,170.0 433.8,173.2 395.7,165.4" fill="#3a8fd8"/><polygon points="379.8,170.8 382.3,195.8 378.8,196.1 385.4,206.5 389.8,195.0 386.3,195.4 383.8,170.4" fill="#e2635d"/><polygon points="487.2,181.3 527.2,177.9 527.5,181.1 538.0,174.7 526.6,170.1 526.8,173.3 486.8,176.7" fill="#3a8fd8"/><polygon points="359.2,243.5 336.8,270.6 333.8,268.1 330.8,281.2 343.1,275.8 340.2,273.4 362.6,246.3" fill="#e2635d"/><path d="M235.5,85.9 C232,97 229,107 230.3,110.5 C233,112 242,99 246.8,92.6 C245,101 243,111 244.6,115 C247.5,116.5 254.5,107 258.8,101 C257.5,108 256.5,117 258,121 C260.5,122 266,114 269.4,109.5 C269.3,114 270,121 271.6,124.6 C274,125 277,120 278.6,116.6" stroke="#e8a094" stroke-width="2.3" fill="none" stroke-linejoin="round" stroke-linecap="round" opacity="0.92"/><path d="M366.7,66.7 C365.5,60.5 358,57.2 351,57.8 C345,58.3 341,62 342.2,66.5 C343.5,70 352,73 360.3,76.6 M346,70.5 C341.5,71.5 338.6,74.5 339.5,77.8 C340.8,81.5 348,84.5 354,87.2 M343,83.2 C338.5,84 335.8,87 336.8,90 C338,93 343.5,95 348.3,97.1 M340.5,94.5 C336,95.5 333.2,98 334,100.5 C334.5,101.8 335.5,102.4 336.3,102.7" stroke="#8ea6dc" stroke-width="2.2" fill="none" stroke-linecap="round" opacity="0.92"/><ellipse cx="288" cy="142" rx="18" ry="5.5" fill="#e9a39b" opacity="0.7"/><path d="M270,139.5 C271.5,128 279,118.6 285,118.4 C291.5,118.8 302.5,128.5 305,138.5 C300,146 274,146.5 270,139.5Z" fill="url(#gredcone2)"/><path d="M257.7,90.6 C258.5,101 273,113.5 282.4,113.8 C291.5,113 299,100 299.1,90.6 Z" fill="url(#gredcone)"/><ellipse cx="278.4" cy="90.6" rx="20.7" ry="8.6" fill="#ee473b"/><path d="M323.9,106.5 C316,110 308,118 308,124 C312,130 334,130 338,124 C340,118 332,110 323.9,106.5Z" fill="#2d55c4" opacity="0.55"/><path d="M323.9,106.5 C329,108 338,114 339,120 L326,112Z" fill="#1b3aa0"/><path d="M300.9,80.2 C301,88 313,100 322.3,101.7 C331,100 338.8,88 338.9,80.2Z" fill="url(#gbluecone)"/><ellipse cx="319.9" cy="80.2" rx="19" ry="8" fill="#2147b5"/><text x="276.5" y="75.4" text-anchor="middle" font-family="Liberation Sans, sans-serif" font-size="21.5" font-weight="bold" font-style="italic" fill="#d9261c" stroke="#fff" stroke-width="2.5" paint-order="stroke" stroke-linejoin="round">K’</text><text x="320" y="63.5" text-anchor="middle" font-family="Liberation Sans, sans-serif" font-size="21.5" font-weight="bold" font-style="italic" fill="#1c3f9a" stroke="#fff" stroke-width="2.5" paint-order="stroke" stroke-linejoin="round">K</text><text x="210.7" y="116.9" text-anchor="middle" font-family="Liberation Sans, sans-serif" font-size="23" font-style="italic" fill="#d9261c" stroke="#fff" stroke-width="2" paint-order="stroke" stroke-linejoin="round">σ+</text><text x="359" y="52.6" font-family="Liberation Sans, sans-serif" font-size="23" font-style="italic" fill="#1c3a8a" stroke="#fff" stroke-width="2" paint-order="stroke" stroke-linejoin="round">σ<tspan font-weight="bold">-</tspan></text><g transform="translate(305,321.5) rotate(-46)"><text text-anchor="middle" font-family="Liberation Sans, sans-serif" font-size="21.5" fill="#000" stroke="#000" stroke-width="0.3">TiO<tspan font-size="15" dy="3">2</tspan></text></g><g transform="translate(269.5,357) rotate(14)"><text text-anchor="middle" font-family="Liberation Sans, sans-serif" font-size="21" font-style="italic" fill="#000" stroke="#000" stroke-width="0.3">w</text></g><g transform="translate(229.5,379.5) rotate(6)"><text text-anchor="middle" font-family="Liberation Sans, sans-serif" font-size="20.5" font-style="italic" fill="#000" stroke="#fff" stroke-width="3.2" stroke-linejoin="round" paint-order="stroke">h</text></g><g transform="translate(232,425.5) rotate(-21)"><text text-anchor="start" font-family="Liberation Sans, sans-serif" font-size="22.5" fill="#000" stroke="#fff" stroke-width="3.2" stroke-linejoin="round" paint-order="stroke">SiO<tspan font-size="16" dy="3">2</tspan></text></g><g transform="translate(233.5,452.5) rotate(-23)"><text text-anchor="start" font-family="Liberation Sans, sans-serif" font-size="22.5" fill="#000" stroke="#fff" stroke-width="3.2" stroke-linejoin="round" paint-order="stroke">WS<tspan font-size="16" dy="3">2</tspan></text></g><g transform="translate(218,472.5) rotate(-25)"><text text-anchor="start" font-family="Liberation Sans, sans-serif" font-size="22.5" fill="#000" stroke="#fff" stroke-width="3.2" stroke-linejoin="round" paint-order="stroke">Au</text></g><g transform="translate(199.5,499) rotate(-27)"><text text-anchor="start" font-family="Liberation Sans, sans-serif" font-size="22.5" fill="#000" stroke="#fff" stroke-width="3.2" stroke-linejoin="round" paint-order="stroke">Glass</text></g><path d="M252,355.5 L272,364" stroke="#111" stroke-width="1.8"/><path d="M250,354.6 l6.5,-0.8 l-2.6,5.6z M274,364.9 l-6.5,0.8 l2.6,-5.6z" fill="#000"/><path d="M241,367 V378" stroke="#111" stroke-width="1.6"/><path d="M241,364.5 l-2.8,5 h5.6z M241,380.5 l-2.8,-5 h5.6z" fill="#000"/><text x="741.5" y="174.5" text-anchor="middle" font-family="Liberation Sans, sans-serif" font-size="21" font-style="italic" fill="#000" stroke="#000" stroke-width="0.3">g</text><path d="M727.8,156.5 V164 M727.8,178 V186 M723.3,168.7 h9.4 M723.3,173.3 h9.4" stroke="#000" stroke-width="1.5" fill="none"/><path d="M727.8,168 l-2.9,-5.2 h5.8z M727.8,174 l-2.9,5.2 h5.8z" fill="#000"/>
<text x="741" y="17.6" font-family="Liberation Sans, sans-serif" font-size="22" font-weight="bold" fill="#000" stroke="#000" stroke-width="0.3">b</text><polygon points="762,131 998,7.5 1213.5,133 970,281" fill="url(#afmbg)"/><g clip-path="url(#afmclip)"><g filter="url(#afmblur1)" opacity="0.55"><path d="M1100,85 l3,14 M1131,92 l2,8 M1060,118 l8,-1 M1010,52 l6,3 M1085,110 l10,-2 M925,72 l12,8" stroke="#5a6cc0" stroke-width="2.2" fill="none"/></g><g filter="url(#afmblur)"><path d="M907.5,74 L987,126 M1024,133.3 L1151.5,118.6 M994,151.5 L952,232.5" stroke="#3e55ad" stroke-width="17" stroke-linecap="round" fill="none" opacity="0.75" transform="translate(1.5,2.5)"/><path d="M987,126 Q1003,133.5 1024,133.3 L994,151.5 Q988.5,138 987,126" stroke="#3e55ad" stroke-width="12" fill="none" opacity="0.7"/></g><g filter="url(#afmblur1)"><path d="M907.5,74 L987,126 M1024,133.3 L1151.5,118.6 M994,151.5 L952,232.5" stroke="#bb741d" stroke-width="12.6" stroke-linecap="round" fill="none"/><path d="M987,126 Q1003,133.5 1024,133.3 L994,151.5 Q988.5,138 987,126" stroke="#bb741d" stroke-width="9" stroke-linejoin="round" fill="none"/><path d="M907.5,74 L987,126 M1024,133.3 L1151.5,118.6 M994,151.5 L952,232.5" stroke="#ecb044" stroke-width="9" stroke-linecap="round" fill="none"/><path d="M987,126 Q1003,133.5 1024,133.3 L994,151.5 Q988.5,138 987,126" stroke="#ecb044" stroke-width="6" stroke-linejoin="round" fill="none"/><path d="M907.5,74 L987,126 M1024,133.3 L1151.5,118.6 M994,151.5 L952,232.5" stroke="#fbe4a2" stroke-width="3.8" stroke-linecap="round" fill="none" transform="translate(-0.6,-0.8)"/><path d="M987,126 Q1003,133.5 1024,133.3 L994,151.5 Q988.5,138 987,126" stroke="#fbe4a2" stroke-width="2.8" stroke-linejoin="round" fill="none" transform="translate(-0.4,-0.6)"/></g></g><path d="M762,131 L970,281 L1213.5,133" stroke="#111" stroke-width="1.4" fill="none"/><path d="M762.9,131.9l-6.5,3M807.7,166.4l-6.5,3M858.5,203.2l-6.5,3M912.3,240.9l-6.5,3M970,281.3l-6.5,3M970.6,281l4.6,4.6M1036.4,242.2l4.6,4.6M1098.7,203.4l4.6,4.6M1159.3,167.4l4.6,4.6M1213.9,133.6l4.6,4.6" stroke="#000" stroke-width="1.6" fill="none"/><text transform="translate(744,142.9) rotate(36) skewX(-8)" text-anchor="middle" y="7" font-family="Liberation Sans, sans-serif" font-size="20" fill="#000" stroke="#000" stroke-width="0.3">10</text><text transform="translate(792.8,177.7) rotate(36) skewX(-8)" text-anchor="middle" y="7" font-family="Liberation Sans, sans-serif" font-size="20" fill="#000" stroke="#000" stroke-width="0.3">7.5</text><text transform="translate(843.6,215.6) rotate(36) skewX(-8)" text-anchor="middle" y="7" font-family="Liberation Sans, sans-serif" font-size="20" fill="#000" stroke="#000" stroke-width="0.3">5</text><text transform="translate(827.6,230.5) rotate(36) skewX(-8)" text-anchor="middle" y="7" font-family="Liberation Sans, sans-serif" font-size="20" fill="#000" stroke="#000" stroke-width="0.3">µm</text><text transform="translate(897.4,254.4) rotate(36) skewX(-8)" text-anchor="middle" y="7" font-family="Liberation Sans, sans-serif" font-size="20" fill="#000" stroke="#000" stroke-width="0.3">2.5</text><text transform="translate(951.1,294.3) rotate(36) skewX(-8)" text-anchor="middle" y="7" font-family="Liberation Sans, sans-serif" font-size="20" fill="#000" stroke="#000" stroke-width="0.3">0</text><text transform="translate(983.5,295.1) rotate(-30) skewX(-8)" text-anchor="middle" y="7" font-family="Liberation Sans, sans-serif" font-size="20" fill="#000" stroke="#000" stroke-width="0.3">0</text><text transform="translate(1050.5,256.3) rotate(-30) skewX(-8)" text-anchor="middle" y="7" font-family="Liberation Sans, sans-serif" font-size="20" fill="#000" stroke="#000" stroke-width="0.3">2.5</text><text transform="translate(1112.8,216.3) rotate(-30) skewX(-8)" text-anchor="middle" y="7" font-family="Liberation Sans, sans-serif" font-size="20" fill="#000" stroke="#000" stroke-width="0.3">5</text><text transform="translate(1129.3,235.2) rotate(-30) skewX(-8)" text-anchor="middle" y="7" font-family="Liberation Sans, sans-serif" font-size="20" fill="#000" stroke="#000" stroke-width="0.3">µm</text><text transform="translate(1170.4,182.3) rotate(-30) skewX(-8)" text-anchor="middle" y="7" font-family="Liberation Sans, sans-serif" font-size="20" fill="#000" stroke="#000" stroke-width="0.3">7.5</text><text transform="translate(1226.8,144.6) rotate(-30) skewX(-8)" text-anchor="middle" y="7" font-family="Liberation Sans, sans-serif" font-size="20" fill="#000" stroke="#000" stroke-width="0.3">10</text><path d="M1213.9,133.6V117.6H1219.7M1213.9,133.6h5" stroke="#000" stroke-width="1.6" fill="none"/><text x="1210" y="102.8" font-family="Liberation Sans, sans-serif" font-size="18.5" fill="#000" stroke="#000" stroke-width="0.3">nm</text><text x="1221" y="122.3" font-family="Liberation Sans, sans-serif" font-size="18.5" fill="#000" stroke="#000" stroke-width="0.3">100</text>
<text x="649.3" y="335.8" font-family="Liberation Sans, sans-serif" font-size="22" font-weight="bold" fill="#000" stroke="#000" stroke-width="0.3">c</text><rect x="714.8" y="352.1" width="325.4000000000001" height="227.5" fill="#fff" stroke="#000" stroke-width="1.6"/><path d="M728.7,579.6v-6M728.7,352.1v6M764.1,579.6v-3.5M764.1,352.1v3.5M799.5,579.6v-6M799.5,352.1v6M834.9,579.6v-3.5M834.9,352.1v3.5M870.2,579.6v-6M870.2,352.1v6M905.6,579.6v-3.5M905.6,352.1v3.5M941.0,579.6v-6M941.0,352.1v6M976.4,579.6v-3.5M976.4,352.1v3.5M1011.8,579.6v-6M1011.8,352.1v6M714.8,556.9h6M1040.2,556.9h-6M714.8,534.1h3.5M1040.2,534.1h-3.5M714.8,511.3h6M1040.2,511.3h-6M714.8,488.6h3.5M1040.2,488.6h-3.5M714.8,465.8h6M1040.2,465.8h-6M714.8,443.0h3.5M1040.2,443.0h-3.5M714.8,420.2h6M1040.2,420.2h-6M714.8,397.5h3.5M1040.2,397.5h-3.5M714.8,374.7h6M1040.2,374.7h-6" stroke="#000" stroke-width="1.4" fill="none"/><text x="711.5" y="563.2" text-anchor="end" font-family="Liberation Sans, sans-serif" font-size="19" fill="#000" stroke="#000" stroke-width="0.3">1.0</text><text x="711.5" y="517.6" text-anchor="end" font-family="Liberation Sans, sans-serif" font-size="19" fill="#000" stroke="#000" stroke-width="0.3">1.2</text><text x="711.5" y="472.1" text-anchor="end" font-family="Liberation Sans, sans-serif" font-size="19" fill="#000" stroke="#000" stroke-width="0.3">1.4</text><text x="711.5" y="426.5" text-anchor="end" font-family="Liberation Sans, sans-serif" font-size="19" fill="#000" stroke="#000" stroke-width="0.3">1.6</text><text x="711.5" y="381.0" text-anchor="end" font-family="Liberation Sans, sans-serif" font-size="19" fill="#000" stroke="#000" stroke-width="0.3">1.8</text><text x="728.7" y="598" text-anchor="middle" font-family="Liberation Sans, sans-serif" font-size="18.3" fill="#000" stroke="#000" stroke-width="0.3">600</text><text x="799.5" y="598" text-anchor="middle" font-family="Liberation Sans, sans-serif" font-size="18.3" fill="#000" stroke="#000" stroke-width="0.3">650</text><text x="870.2" y="598" text-anchor="middle" font-family="Liberation Sans, sans-serif" font-size="18.3" fill="#000" stroke="#000" stroke-width="0.3">700</text><text x="941.0" y="598" text-anchor="middle" font-family="Liberation Sans, sans-serif" font-size="18.3" fill="#000" stroke="#000" stroke-width="0.3">750</text><text x="1011.8" y="598" text-anchor="middle" font-family="Liberation Sans, sans-serif" font-size="18.3" fill="#000" stroke="#000" stroke-width="0.3">800</text><text x="876.3" y="619" text-anchor="middle" font-family="Liberation Sans, sans-serif" font-size="19.3" fill="#000" stroke="#000" stroke-width="0.3">Wavelength (nm)</text><text transform="translate(669.3,462.5) rotate(-90)" text-anchor="middle" font-family="Liberation Sans, sans-serif" font-size="19.5" fill="#000" stroke="#000" stroke-width="0.3">Real (k<tspan font-size="13" dy="4.5">eff</tspan><tspan dy="-4.5"> )</tspan></text><text x="773.6" y="342.3" text-anchor="middle" font-family="Liberation Sans, sans-serif" font-size="18.5" fill="#000" stroke="#000" stroke-width="0.3">TPL</text><text x="1025" y="342.3" text-anchor="middle" font-family="Liberation Sans, sans-serif" font-size="18.5" fill="#000" stroke="#000" stroke-width="0.3">Pump</text><g clip-path="url(#cplot)"><line x1="714.8" x2="1040.2" y1="556.9" y2="556.9" stroke="#000" stroke-width="1.9" stroke-dasharray="6.8 3.2"/><line x1="772.6" x2="772.6" y1="352.1" y2="579.6" stroke="#000" stroke-width="2.2" stroke-dasharray="9.6 4.2"/><line x1="1025" x2="1025" y1="352.1" y2="579.6" stroke="#000" stroke-width="3" stroke-dasharray="9.6 4.2"/><polyline points="711.7,378.3 720.2,381.1 728.7,383.9 737.2,386.7 745.7,389.5 754.2,392.3 762.7,395.0 771.2,397.8 779.7,400.5 788.2,403.1 796.6,405.8 805.1,408.4 813.6,411.1 822.1,413.7 830.6,416.2 839.1,418.8 847.6,421.3 856.1,423.9 864.6,426.4 873.1,428.8 881.6,431.3 890.1,433.8 898.6,436.2 907.1,438.6 915.5,441.0 924.0,443.3 932.5,445.7 941.0,448.0 949.5,450.3 958.0,452.6 966.5,454.8 975.0,457.1 983.5,459.3 992.0,461.5 1000.5,463.7 1009.0,465.8 1017.5,468.0 1026.0,470.1 1034.4,472.2 1042.9,474.3" fill="none" stroke="#1c3f8f" stroke-width="3"/><polyline points="711.7,486.1 719.1,489.4 726.6,492.7 734.0,495.9 741.4,499.0 748.8,502.0 756.2,505.0 763.6,508.0 771.1,510.9 778.5,513.7 785.9,516.4 793.3,519.1 800.7,521.7 808.2,524.3 815.6,526.8 823.0,529.2 830.4,531.6 837.8,533.9 845.3,536.2 852.7,538.4 860.1,540.5 867.5,542.6 874.9,544.6 882.4,546.5 889.8,548.4 897.2,550.2 904.6,552.0 912.0,553.7 919.5,555.3 926.9,556.9" fill="none" stroke="#d0211c" stroke-width="3"/></g><text x="927" y="432.5" text-anchor="middle" font-family="Liberation Sans, sans-serif" font-size="19" font-weight="bold" fill="#1c3f8f">GM1</text><text x="836.2" y="522.2" text-anchor="middle" font-family="Liberation Sans, sans-serif" font-size="19" font-weight="bold" fill="#d0211c">GM2</text><text x="1148" y="343" text-anchor="middle" font-family="Liberation Sans, sans-serif" font-size="18.5" fill="#000" stroke="#000" stroke-width="0.3"><tspan font-style="italic">E</tspan><tspan font-style="italic" font-size="13" dy="4">z</tspan><tspan dy="-4"> (a.u.)</tspan></text><g transform="translate(1061.5,350)"><svg width="174.5" height="107" overflow="hidden"><g filter="url(#cm)"><rect x="-5" y="-5" width="190" height="120" fill="#262626"/><g filter="url(#b4)"><ellipse cx="86.5" cy="80" rx="100" ry="70" fill="url(#gm1glow)"/></g><g filter="url(#b2)"><rect x="-5" y="85" width="190" height="30" fill="#1f1f1f"/><ellipse cx="86.5" cy="97" rx="62" ry="12" fill="#121212"/></g><g filter="url(#b1_5)"><rect x="36" y="77" width="101" height="8" fill="url(#gm1hot)"/></g></g></svg></g><rect x="1103.5" y="390" width="90.5" height="37.5" fill="none" stroke="#fff" stroke-width="1.7" stroke-dasharray="6.3 3.2"/><path d="M1061.5,427.3h174.5M1061.5,434.7h174.5" stroke="#fff" stroke-width="1.6" stroke-dasharray="6.3 3.2"/><rect x="1189" y="445" width="37" height="4.7" fill="#fff"/><text x="1067" y="370" font-family="Liberation Sans, sans-serif" font-size="18.8" fill="#fff">GM1</text><g transform="translate(1061.5,468.3)"><svg width="174.5" height="106.5" overflow="hidden"><g filter="url(#cm)"><rect x="-5" y="-5" width="190" height="120" fill="#878787"/><g filter="url(#b6)"><ellipse cx="52" cy="74" rx="34" ry="24" fill="#666666"/><ellipse cx="38" cy="76" rx="20" ry="12" fill="#545454"/><ellipse cx="62" cy="62" rx="16" ry="18" fill="#707070"/><ellipse cx="122" cy="70" rx="38" ry="30" fill="#a1a1a1"/><ellipse cx="135" cy="72" rx="22" ry="16" fill="#b8b8b8"/><ellipse cx="110" cy="58" rx="16" ry="18" fill="#999999"/></g><rect x="-5" y="85" width="190" height="30" fill="#858585"/><g filter="url(#b2)"><rect x="28" y="77" width="54" height="8" rx="3" fill="#333333"/><rect x="36" y="77.3" width="42" height="7.6" rx="3" fill="#000000"/><rect x="92" y="77" width="52" height="8" rx="3" fill="#cccccc"/><rect x="102" y="77.3" width="34" height="7.6" rx="3" fill="#ffffff"/></g></g></svg></g><rect x="1103.5" y="507.7" width="90.5" height="37.7" fill="none" stroke="#fff" stroke-width="1.7" stroke-dasharray="6.3 3.2"/><path d="M1061.5,545.4h174.5M1061.5,552.5h174.5" stroke="#fff" stroke-width="1.6" stroke-dasharray="6.3 3.2"/><rect x="1189" y="563.6" width="37" height="4.7" fill="#fff"/><text x="1067" y="488.5" font-family="Liberation Sans, sans-serif" font-size="18.8" fill="#fff">GM2</text><rect x="1070" y="584.3" width="158.5" height="13.3" fill="url(#cbh)"/><path d="M1070,584.3V602.5M1228.5,584.3V602.5M1070,584.3H1228.5M1109.6,597.6v5M1149.2,597.6v5M1188.9,597.6v5" stroke="#222" stroke-width="1" fill="none"/><text x="1070" y="622" text-anchor="middle" font-family="Liberation Sans, sans-serif" font-size="18.5" fill="#000" stroke="#000" stroke-width="0.3">-1</text><text x="1149" y="622" text-anchor="middle" font-family="Liberation Sans, sans-serif" font-size="18.5" fill="#000" stroke="#000" stroke-width="0.3">0</text><text x="1228.5" y="622" text-anchor="middle" font-family="Liberation Sans, sans-serif" font-size="18.5" fill="#000" stroke="#000" stroke-width="0.3">1</text>
<text x="7" y="683.7" font-family="Liberation Sans, sans-serif" font-size="22" font-weight="bold" fill="#000" stroke="#000" stroke-width="0.3">d</text><text x="291.6" y="692.3" text-anchor="middle" font-family="Liberation Sans, sans-serif" font-size="22" fill="#000" stroke="#000" stroke-width="0.3">σ+ dipole @630 nm</text><g transform="translate(26.1,700.3)"><svg width="531" height="111.2" viewBox="0 0 531 111.2" overflow="hidden"><g filter="url(#cm)"><rect x="-5" y="-5" width="541" height="121.2" fill="#000000"/><rect x="-20" y="41" width="571" height="30" fill="#525252" filter="url(#b1_5)"/><g clip-path="url(#bandclip)"><g filter="url(#b2)"><rect x="-20" y="42.5" width="571" height="27" fill="url(#g630)"/><ellipse cx="109" cy="70" rx="25" ry="7.5" fill="#474747"/><ellipse cx="109" cy="70" rx="17" ry="3.5" fill="#1a1a1a"/><ellipse cx="182" cy="42" rx="29" ry="10" fill="#474747"/><ellipse cx="182" cy="42" rx="21" ry="6" fill="#0f0f0f"/><ellipse cx="252" cy="70" rx="34" ry="10.5" fill="#474747"/><ellipse cx="252" cy="70" rx="26" ry="6.5" fill="#0f0f0f"/><ellipse cx="322" cy="42" rx="38" ry="12" fill="#474747"/><ellipse cx="322" cy="42" rx="30" ry="8" fill="#0d0d0d"/><ellipse cx="394" cy="70" rx="41" ry="12.5" fill="#474747"/><ellipse cx="394" cy="70" rx="33" ry="8.5" fill="#0d0d0d"/><ellipse cx="468" cy="42" rx="42" ry="13" fill="#474747"/><ellipse cx="468" cy="42" rx="34" ry="9" fill="#0d0d0d"/><ellipse cx="531" cy="70" rx="40" ry="13" fill="#474747"/><ellipse cx="531" cy="70" rx="32" ry="9" fill="#0d0d0d"/><ellipse cx="114" cy="47.3" rx="37" ry="11.0" fill="#b2b2b2"/><ellipse cx="114" cy="47.3" rx="30" ry="7.5" fill="#ffffff"/><ellipse cx="179.5" cy="64.7" rx="30" ry="9.5" fill="#b2b2b2"/><ellipse cx="179.5" cy="64.7" rx="23" ry="6" fill="#ffffff"/><ellipse cx="252" cy="47.3" rx="29" ry="9.0" fill="#b2b2b2"/><ellipse cx="252" cy="47.3" rx="22" ry="5.5" fill="#f2f2f2"/><ellipse cx="322" cy="64.7" rx="32" ry="9.5" fill="#b2b2b2"/><ellipse cx="322" cy="64.7" rx="25" ry="6" fill="#d6d6d6"/><ellipse cx="394" cy="47.3" rx="36" ry="10.0" fill="#6b6b6b"/><ellipse cx="394" cy="47.3" rx="27" ry="6.5" fill="#adadad"/><ellipse cx="468" cy="64.7" rx="38" ry="10.0" fill="#6b6b6b"/><ellipse cx="468" cy="64.7" rx="29" ry="6.5" fill="#8c8c8c"/><ellipse cx="535" cy="47.3" rx="35" ry="10.0" fill="#6b6b6b"/><ellipse cx="535" cy="47.3" rx="26" ry="6.5" fill="#808080"/><ellipse cx="26" cy="47.5" rx="13" ry="7" fill="#b8b8b8"/><ellipse cx="25" cy="47.5" rx="10" ry="5" fill="#ffffff"/><ellipse cx="2" cy="64" rx="13" ry="7.5" fill="#b8b8b8"/><ellipse cx="1" cy="64" rx="9" ry="5" fill="#ffffff"/><ellipse cx="68" cy="64" rx="14" ry="6.5" fill="#b8b8b8"/><ellipse cx="66" cy="64.5" rx="9" ry="4.5" fill="#ffffff"/><ellipse cx="46" cy="56" rx="14" ry="10" fill="#ffffff"/></g></g></g></svg></g><line x1="26.1" y1="743" x2="557.1" y2="743" stroke="#fff" stroke-width="2" stroke-dasharray="7.3 3.7"/><line x1="26.1" y1="769" x2="557.1" y2="769" stroke="#fff" stroke-width="2" stroke-dasharray="7.3 3.7"/><g transform="translate(72.5,756)"><ellipse cx="0" cy="0" rx="15.5" ry="10.5" fill="#de221c" transform="rotate(38)"/><circle r="16.7" fill="none" stroke="#fff" stroke-width="3"/><path d="M3.6,-23.2 L-12.2,-15 L4.2,-7.3 Z" fill="#fff"/><path d="M-3.8,7.4 L13,14.6 L-3.5,22.9 Z" fill="#fff"/><circle r="3.8" fill="#fff"/></g><circle cx="278" cy="748.5" r="3" fill="#fff"/><text x="279" y="736.5" text-anchor="middle" font-family="Liberation Sans, sans-serif" font-size="17.5" font-weight="bold" font-style="italic" fill="#fff">A</text><rect x="486" y="795" width="55" height="5" fill="#fff"/><text x="290" y="844.3" text-anchor="middle" font-family="Liberation Sans, sans-serif" font-size="22" fill="#000" stroke="#000" stroke-width="0.3">σ- dipole @630 nm</text><g transform="translate(26.1,852.1)"><svg width="531" height="110.6" viewBox="0 0 531 110.6" overflow="hidden"><g filter="url(#cm)"><rect x="-5" y="-5" width="541" height="120.6" fill="#000000"/><g transform="translate(0,112) scale(1,-1)"><rect x="-20" y="41" width="571" height="30" fill="#525252" filter="url(#b1_5)"/><g clip-path="url(#bandclip)"><g filter="url(#b2)"><rect x="-20" y="42.5" width="571" height="27" fill="url(#g630)"/><ellipse cx="109" cy="70" rx="25" ry="7.5" fill="#474747"/><ellipse cx="109" cy="70" rx="17" ry="3.5" fill="#1a1a1a"/><ellipse cx="182" cy="42" rx="29" ry="10" fill="#474747"/><ellipse cx="182" cy="42" rx="21" ry="6" fill="#0f0f0f"/><ellipse cx="252" cy="70" rx="34" ry="10.5" fill="#474747"/><ellipse cx="252" cy="70" rx="26" ry="6.5" fill="#0f0f0f"/><ellipse cx="322" cy="42" rx="38" ry="12" fill="#474747"/><ellipse cx="322" cy="42" rx="30" ry="8" fill="#0d0d0d"/><ellipse cx="394" cy="70" rx="41" ry="12.5" fill="#474747"/><ellipse cx="394" cy="70" rx="33" ry="8.5" fill="#0d0d0d"/><ellipse cx="468" cy="42" rx="42" ry="13" fill="#474747"/><ellipse cx="468" cy="42" rx="34" ry="9" fill="#0d0d0d"/><ellipse cx="531" cy="70" rx="40" ry="13" fill="#474747"/><ellipse cx="531" cy="70" rx="32" ry="9" fill="#0d0d0d"/><ellipse cx="114" cy="47.3" rx="37" ry="11.0" fill="#b2b2b2"/><ellipse cx="114" cy="47.3" rx="30" ry="7.5" fill="#ffffff"/><ellipse cx="179.5" cy="64.7" rx="30" ry="9.5" fill="#b2b2b2"/><ellipse cx="179.5" cy="64.7" rx="23" ry="6" fill="#ffffff"/><ellipse cx="252" cy="47.3" rx="29" ry="9.0" fill="#b2b2b2"/><ellipse cx="252" cy="47.3" rx="22" ry="5.5" fill="#f2f2f2"/><ellipse cx="322" cy="64.7" rx="32" ry="9.5" fill="#b2b2b2"/><ellipse cx="322" cy="64.7" rx="25" ry="6" fill="#d6d6d6"/><ellipse cx="394" cy="47.3" rx="36" ry="10.0" fill="#6b6b6b"/><ellipse cx="394" cy="47.3" rx="27" ry="6.5" fill="#adadad"/><ellipse cx="468" cy="64.7" rx="38" ry="10.0" fill="#6b6b6b"/><ellipse cx="468" cy="64.7" rx="29" ry="6.5" fill="#8c8c8c"/><ellipse cx="535" cy="47.3" rx="35" ry="10.0" fill="#6b6b6b"/><ellipse cx="535" cy="47.3" rx="26" ry="6.5" fill="#808080"/><ellipse cx="26" cy="47.5" rx="13" ry="7" fill="#b8b8b8"/><ellipse cx="25" cy="47.5" rx="10" ry="5" fill="#ffffff"/><ellipse cx="2" cy="64" rx="13" ry="7.5" fill="#b8b8b8"/><ellipse cx="1" cy="64" rx="9" ry="5" fill="#ffffff"/><ellipse cx="68" cy="64" rx="14" ry="6.5" fill="#b8b8b8"/><ellipse cx="66" cy="64.5" rx="9" ry="4.5" fill="#ffffff"/><ellipse cx="46" cy="56" rx="14" ry="10" fill="#ffffff"/></g></g></g></g></svg></g><line x1="26.1" y1="894.5" x2="557.1" y2="894.5" stroke="#fff" stroke-width="2" stroke-dasharray="7.3 3.7"/><line x1="26.1" y1="921" x2="557.1" y2="921" stroke="#fff" stroke-width="2" stroke-dasharray="7.3 3.7"/><g transform="translate(72.5,908)"><ellipse cx="0" cy="0" rx="15.5" ry="10.5" fill="#de221c" transform="rotate(-38)"/><circle r="16.7" fill="none" stroke="#fff" stroke-width="3"/><path d="M-3.6,-23.2 L12.2,-15 L-4.2,-7.3 Z" fill="#fff"/><path d="M3.8,7.4 L-13,14.6 L3.5,22.9 Z" fill="#fff"/><circle r="3.8" fill="#fff"/></g><circle cx="278" cy="914.5" r="3" fill="#fff"/><text x="279" y="941.5" text-anchor="middle" font-family="Liberation Sans, sans-serif" font-size="17.5" font-weight="bold" font-style="italic" fill="#fff">B</text><text x="293" y="1004.3" text-anchor="middle" font-family="Liberation Sans, sans-serif" font-size="22" fill="#000" stroke="#000" stroke-width="0.3">FVP @630 nm</text><g transform="translate(26.1,1009)"><svg width="531" height="110.6" viewBox="0 0 531 110.6" overflow="hidden"><g filter="url(#cm)"><rect x="-5" y="-5" width="541" height="120.6" fill="#808080"/><g filter="url(#b4)"><g transform="translate(0,-1)"><ellipse cx="182" cy="112" rx="58" ry="40" fill="#adadad"/><ellipse cx="184" cy="104" rx="30" ry="32" fill="#cccccc"/><ellipse cx="120" cy="118" rx="50" ry="14" fill="#999999"/><ellipse cx="275" cy="114" rx="80" ry="16" fill="#9e9e9e"/><ellipse cx="180" cy="0" rx="46" ry="36" fill="#383838"/><ellipse cx="250" cy="-4" rx="80" ry="17" fill="#4c4c4c"/><ellipse cx="330" cy="-2" rx="50" ry="10" fill="#666666"/><ellipse cx="408" cy="-2" rx="70" ry="17" fill="#9c9c9c"/><ellipse cx="505" cy="6" rx="50" ry="13" fill="#949494"/><ellipse cx="470" cy="30" rx="25" ry="12" fill="#8f8f8f" transform="rotate(30 470 30)"/><ellipse cx="412" cy="110" rx="62" ry="22" fill="#5c5c5c"/><ellipse cx="395" cy="95" rx="28" ry="18" fill="#575757"/><ellipse cx="520" cy="100" rx="30" ry="14" fill="#707070"/><ellipse cx="50" cy="112" rx="60" ry="12" fill="#8f8f8f"/><ellipse cx="114" cy="45" rx="28" ry="19" fill="#b2b2b2"/><ellipse cx="114" cy="67" rx="28" ry="19" fill="#4c4c4c"/><ellipse cx="114" cy="45.5" rx="23" ry="13.5" fill="#e0e0e0"/><ellipse cx="114" cy="66.5" rx="23" ry="13.5" fill="#1f1f1f"/><ellipse cx="114" cy="46.5" rx="19" ry="6.5" fill="#f5f5f5"/><ellipse cx="114" cy="65.5" rx="19" ry="6.5" fill="#0a0a0a"/><ellipse cx="180" cy="45" rx="28" ry="22" fill="#4c4c4c"/><ellipse cx="180" cy="67" rx="28" ry="22" fill="#b2b2b2"/><ellipse cx="180" cy="45.5" rx="23" ry="15.0" fill="#1f1f1f"/><ellipse cx="180" cy="66.5" rx="23" ry="15.0" fill="#e0e0e0"/><ellipse cx="180" cy="46.5" rx="19" ry="6.5" fill="#000000"/><ellipse cx="180" cy="65.5" rx="19" ry="6.5" fill="#ffffff"/><ellipse cx="252" cy="45" rx="28" ry="22" fill="#b2b2b2"/><ellipse cx="252" cy="67" rx="28" ry="22" fill="#4c4c4c"/><ellipse cx="252" cy="45.5" rx="23" ry="15.0" fill="#e0e0e0"/><ellipse cx="252" cy="66.5" rx="23" ry="15.0" fill="#1f1f1f"/><ellipse cx="252" cy="46.5" rx="19" ry="6.5" fill="#f9f9f9"/><ellipse cx="252" cy="65.5" rx="19" ry="6.5" fill="#060606"/><ellipse cx="326" cy="45" rx="28" ry="24" fill="#4c4c4c"/><ellipse cx="326" cy="67" rx="28" ry="24" fill="#b2b2b2"/><ellipse cx="326" cy="45.5" rx="23" ry="16.0" fill="#1f1f1f"/><ellipse cx="326" cy="66.5" rx="23" ry="16.0" fill="#e0e0e0"/><ellipse cx="326" cy="46.5" rx="19" ry="6.5" fill="#060606"/><ellipse cx="326" cy="65.5" rx="19" ry="6.5" fill="#f9f9f9"/><ellipse cx="396" cy="45" rx="28" ry="27" fill="#b2b2b2"/><ellipse cx="396" cy="67" rx="28" ry="27" fill="#4c4c4c"/><ellipse cx="396" cy="45.5" rx="23" ry="17.5" fill="#e0e0e0"/><ellipse cx="396" cy="66.5" rx="23" ry="17.5" fill="#1f1f1f"/><ellipse cx="396" cy="46.5" rx="19" ry="6.5" fill="#f5f5f5"/><ellipse cx="396" cy="65.5" rx="19" ry="6.5" fill="#0a0a0a"/><ellipse cx="466" cy="45" rx="28" ry="26" fill="#4c4c4c"/><ellipse cx="466" cy="67" rx="28" ry="26" fill="#b2b2b2"/><ellipse cx="466" cy="45.5" rx="23" ry="17.0" fill="#1f1f1f"/><ellipse cx="466" cy="66.5" rx="23" ry="17.0" fill="#e0e0e0"/><ellipse cx="466" cy="46.5" rx="19" ry="6.5" fill="#0a0a0a"/><ellipse cx="466" cy="65.5" rx="19" ry="6.5" fill="#f5f5f5"/><ellipse cx="538" cy="45" rx="28" ry="26" fill="#b2b2b2"/><ellipse cx="538" cy="67" rx="28" ry="26" fill="#4c4c4c"/><ellipse cx="538" cy="45.5" rx="23" ry="17.0" fill="#e0e0e0"/><ellipse cx="538" cy="66.5" rx="23" ry="17.0" fill="#1f1f1f"/><ellipse cx="538" cy="46.5" rx="19" ry="6.5" fill="#f2f2f2"/><ellipse cx="538" cy="65.5" rx="19" ry="6.5" fill="#0d0d0d"/><rect x="-10" y="53.0" width="551" height="6" fill="#808080"/><ellipse cx="30" cy="46" rx="8" ry="7" fill="#b8b8b8"/><ellipse cx="30" cy="66" rx="8" ry="7" fill="#474747"/><ellipse cx="60" cy="46" rx="8" ry="7" fill="#474747"/><ellipse cx="60" cy="66" rx="8" ry="7" fill="#b8b8b8"/><ellipse cx="2" cy="48" rx="6" ry="6" fill="#5c5c5c"/><ellipse cx="2" cy="64" rx="6" ry="6" fill="#a3a3a3"/></g></g></g></svg></g><line x1="26.1" y1="1051" x2="557.1" y2="1051" stroke="#fff" stroke-width="2" stroke-dasharray="7.3 3.7"/><line x1="26.1" y1="1077" x2="557.1" y2="1077" stroke="#fff" stroke-width="2" stroke-dasharray="7.3 3.7"/><rect x="569" y="756.2" width="13.8" height="152.8" fill="url(#cbv)"/><path d="M569,756.2 H586.8 M582.8,756.2 V909.0 M569,909.0 H586.8" stroke="#222" stroke-width="1" fill="none"/><line x1="582.8" x2="586.8" y1="794.4" y2="794.4" stroke="#222" stroke-width="1"/><line x1="582.8" x2="586.8" y1="832.6" y2="832.6" stroke="#222" stroke-width="1"/><line x1="582.8" x2="586.8" y1="870.8" y2="870.8" stroke="#222" stroke-width="1"/><text x="592" y="764.6" font-family="Liberation Sans, sans-serif" font-size="22" fill="#000" stroke="#000" stroke-width="0.3">1</text><text x="592" y="915.4" font-family="Liberation Sans, sans-serif" font-size="22" fill="#000" stroke="#000" stroke-width="0.3">0</text><text x="566" y="739" font-family="Liberation Sans, sans-serif" font-size="22" fill="#000" stroke="#000" stroke-width="0.3">|<tspan font-style="italic" dx="1">E</tspan><tspan dx="1">|</tspan><tspan dy="-11" dx="2.5" font-size="13.5">2</tspan></text><rect x="569" y="1009.4" width="13.8" height="110.6" fill="url(#cbv)"/><path d="M569,1009.4 H586.8 M582.8,1009.4 V1120.0 M569,1120.0 H586.8" stroke="#222" stroke-width="1" fill="none"/><line x1="582.8" x2="586.8" y1="1037" y2="1037" stroke="#222" stroke-width="1"/><line x1="582.8" x2="586.8" y1="1064.7" y2="1064.7" stroke="#222" stroke-width="1"/><line x1="582.8" x2="586.8" y1="1092.4" y2="1092.4" stroke="#222" stroke-width="1"/><text x="592" y="1018" font-family="Liberation Sans, sans-serif" font-size="22" fill="#000" stroke="#000" stroke-width="0.3">1</text><text x="592" y="1073" font-family="Liberation Sans, sans-serif" font-size="22" fill="#000" stroke="#000" stroke-width="0.3">0</text><text x="592.5" y="1126.4" font-family="Liberation Sans, sans-serif" font-size="22" fill="#000" stroke="#000" stroke-width="0.3">-1</text><text x="566" y="998.6" font-family="Liberation Sans, sans-serif" font-size="22" fill="#000" stroke="#000" stroke-width="0.3">FVP</text>
<text x="649.3" y="683.7" font-family="Liberation Sans, sans-serif" font-size="22" font-weight="bold" fill="#000" stroke="#000" stroke-width="0.3">e</text><text x="928.8" y="692.3" text-anchor="middle" font-family="Liberation Sans, sans-serif" font-size="22" fill="#000" stroke="#000" stroke-width="0.3">σ+ dipole @810 nm</text><g transform="translate(664.1,700.3)"><svg width="531.5" height="111.2" viewBox="0 0 531.5 111.2" overflow="hidden"><g filter="url(#cm)"><rect x="-5" y="-5" width="541.5" height="121.2" fill="#000000"/><g clip-path="url(#bandclip2)"><g filter="url(#b2)"><rect x="-20" y="43" width="52" height="26" fill="#808080"/><ellipse cx="2" cy="46" rx="10" ry="5" fill="#4c4c4c"/><ellipse cx="22" cy="66" rx="8" ry="3" fill="#595959"/><path d="M58,58 C72,60 84,61.5 104,61 S150,54.5 200,54.5 S290,57.5 350,56.5 S470,55.5 560,56" stroke="#383838" stroke-width="25" fill="none" stroke-linecap="round"/><path d="M58,58 C72,60 84,61.5 104,61 S150,54.5 200,54.5 S290,57.5 350,56.5 S470,55.5 560,56" stroke="url(#g810)" stroke-width="20" fill="none" stroke-linecap="round"/><path d="M58,58 C72,60 84,61.5 104,61 S150,54.5 200,54.5 S290,57.5 350,56.5 S470,55.5 560,56" stroke="url(#g810b)" stroke-width="13" fill="none" stroke-linecap="round"/><ellipse cx="45.5" cy="55.8" rx="32" ry="16" fill="#9e9e9e"/><ellipse cx="45.5" cy="55.8" rx="27" ry="15" fill="#c7c7c7"/><ellipse cx="45.5" cy="55.8" rx="22.5" ry="14.5" fill="#ffffff"/></g></g></g></svg></g><line x1="664.1" y1="743" x2="1196.1" y2="743" stroke="#fff" stroke-width="2" stroke-dasharray="7.3 3.7"/><line x1="664.1" y1="769" x2="1196.1" y2="769" stroke="#fff" stroke-width="2" stroke-dasharray="7.3 3.7"/><g transform="translate(709.3,756)"><circle r="14.6" fill="#de221c"/><path d="M4,-16 C1,-11 3,-8 7,-6 M-4,16 C-1,11 -3,8 -7,6" stroke="#fff" stroke-width="2.2" fill="none" stroke-linecap="round"/><circle r="16.7" fill="none" stroke="#fff" stroke-width="3"/><path d="M3.6,-23.2 L-12.2,-15 L4.2,-7.3 Z" fill="#fff"/><path d="M-3.8,7.4 L13,14.6 L-3.5,22.9 Z" fill="#fff"/><circle r="3.8" fill="#fff"/></g><rect x="1123" y="795" width="56" height="5" fill="#fff"/><text x="926.5" y="844.3" text-anchor="middle" font-family="Liberation Sans, sans-serif" font-size="22" fill="#000" stroke="#000" stroke-width="0.3">σ- dipole @810 nm</text><g transform="translate(664.1,852.1)"><svg width="531.5" height="110.6" viewBox="0 0 531.5 110.6" overflow="hidden"><g filter="url(#cm)"><rect x="-5" y="-5" width="541.5" height="120.6" fill="#000000"/><g transform="translate(0,112) scale(1,-1)"><g clip-path="url(#bandclip2)"><g filter="url(#b2)"><rect x="-20" y="43" width="52" height="26" fill="#808080"/><ellipse cx="2" cy="46" rx="10" ry="5" fill="#4c4c4c"/><ellipse cx="22" cy="66" rx="8" ry="3" fill="#595959"/><path d="M58,58 C72,60 84,61.5 104,61 S150,54.5 200,54.5 S290,57.5 350,56.5 S470,55.5 560,56" stroke="#383838" stroke-width="25" fill="none" stroke-linecap="round"/><path d="M58,58 C72,60 84,61.5 104,61 S150,54.5 200,54.5 S290,57.5 350,56.5 S470,55.5 560,56" stroke="url(#g810)" stroke-width="20" fill="none" stroke-linecap="round"/><path d="M58,58 C72,60 84,61.5 104,61 S150,54.5 200,54.5 S290,57.5 350,56.5 S470,55.5 560,56" stroke="url(#g810b)" stroke-width="13" fill="none" stroke-linecap="round"/><ellipse cx="45.5" cy="55.8" rx="32" ry="16" fill="#9e9e9e"/><ellipse cx="45.5" cy="55.8" rx="27" ry="15" fill="#c7c7c7"/><ellipse cx="45.5" cy="55.8" rx="22.5" ry="14.5" fill="#ffffff"/></g></g></g></g></svg></g><line x1="664.1" y1="894.5" x2="1196.1" y2="894.5" stroke="#fff" stroke-width="2" stroke-dasharray="7.3 3.7"/><line x1="664.1" y1="921" x2="1196.1" y2="921" stroke="#fff" stroke-width="2" stroke-dasharray="7.3 3.7"/><g transform="translate(709.3,908)"><circle r="14.6" fill="#de221c"/><path d="M-4,-16 C-1,-11 -3,-8 -7,-6 M4,16 C1,11 3,8 7,6" stroke="#fff" stroke-width="2.2" fill="none" stroke-linecap="round"/><circle r="16.7" fill="none" stroke="#fff" stroke-width="3"/><path d="M-3.6,-23.2 L12.2,-15 L-4.2,-7.3 Z" fill="#fff"/><path d="M3.8,7.4 L-13,14.6 L3.5,22.9 Z" fill="#fff"/><circle r="3.8" fill="#fff"/></g><text x="929" y="1004.3" text-anchor="middle" font-family="Liberation Sans, sans-serif" font-size="22" fill="#000" stroke="#000" stroke-width="0.3">FVP @810 nm</text><g transform="translate(664.1,1009)"><svg width="531.5" height="110.6" viewBox="0 0 531.5 110.6" overflow="hidden"><g filter="url(#cm)"><rect x="-5" y="-5" width="541.5" height="120.6" fill="#808080"/><g filter="url(#b6)"><g transform="translate(0,-1)"><ellipse cx="-2" cy="14" rx="9" ry="20" fill="#383838"/><ellipse cx="14" cy="30" rx="6" ry="40" fill="#a3a3a3"/><ellipse cx="-2" cy="92" rx="12" ry="22" fill="#b8b8b8"/><ellipse cx="40" cy="20" rx="22" ry="20" fill="#707070"/><ellipse cx="128" cy="20" rx="70.2" ry="31.5" fill="#a7a7a7" transform="rotate(-24 128 20)"/><ellipse cx="128" cy="20" rx="46.800000000000004" ry="20.25" fill="#cfcfcf" transform="rotate(-24 128 20)"/><ellipse cx="128" cy="20" rx="28.8" ry="11.25" fill="#f5f5f5" transform="rotate(-24 128 20)"/><ellipse cx="100" cy="44" rx="28" ry="6" fill="#bdbdbd" transform="rotate(-4 100 44)"/><ellipse cx="236" cy="22" rx="46.8" ry="21.0" fill="#606060" transform="rotate(-16 236 22)"/><ellipse cx="236" cy="22" rx="31.200000000000003" ry="13.5" fill="#414141" transform="rotate(-16 236 22)"/><ellipse cx="236" cy="22" rx="19.200000000000003" ry="7.5" fill="#242424" transform="rotate(-16 236 22)"/><ellipse cx="356" cy="5" rx="70.2" ry="27.3" fill="#a7a7a7" transform="rotate(-4 356 5)"/><ellipse cx="356" cy="5" rx="46.800000000000004" ry="17.55" fill="#cfcfcf" transform="rotate(-4 356 5)"/><ellipse cx="356" cy="5" rx="28.8" ry="9.75" fill="#f5f5f5" transform="rotate(-4 356 5)"/><ellipse cx="470" cy="11" rx="54.6" ry="18.900000000000002" fill="#606060" transform="rotate(-5 470 11)"/><ellipse cx="470" cy="11" rx="36.4" ry="12.15" fill="#414141" transform="rotate(-5 470 11)"/><ellipse cx="470" cy="11" rx="22.400000000000002" ry="6.75" fill="#242424" transform="rotate(-5 470 11)"/><ellipse cx="124" cy="90" rx="81.89999999999999" ry="35.7" fill="#545454" transform="rotate(24 124 90)"/><ellipse cx="124" cy="90" rx="54.6" ry="22.950000000000003" fill="#292929" transform="rotate(24 124 90)"/><ellipse cx="124" cy="90" rx="33.6" ry="12.75" fill="#000000" transform="rotate(24 124 90)"/><ellipse cx="96" cy="69" rx="26" ry="5" fill="#333333" transform="rotate(8 96 69)"/><ellipse cx="228" cy="87" rx="44.85" ry="16.8" fill="#a0a0a0" transform="rotate(12 228 87)"/><ellipse cx="228" cy="87" rx="29.900000000000002" ry="10.8" fill="#c0c0c0" transform="rotate(12 228 87)"/><ellipse cx="228" cy="87" rx="18.400000000000002" ry="6.0" fill="#dedede" transform="rotate(12 228 87)"/><ellipse cx="356" cy="102" rx="89.7" ry="27.3" fill="#565656" transform="rotate(6 356 102)"/><ellipse cx="356" cy="102" rx="59.800000000000004" ry="17.55" fill="#2d2d2d" transform="rotate(6 356 102)"/><ellipse cx="356" cy="102" rx="36.800000000000004" ry="9.75" fill="#060606" transform="rotate(6 356 102)"/><ellipse cx="474" cy="98" rx="44.85" ry="15.75" fill="#9f9f9f" transform="rotate(8 474 98)"/><ellipse cx="474" cy="98" rx="29.900000000000002" ry="10.125" fill="#bebebe" transform="rotate(8 474 98)"/><ellipse cx="474" cy="98" rx="18.400000000000002" ry="5.625" fill="#dbdbdb" transform="rotate(8 474 98)"/><rect x="60" y="48" width="500" height="16" fill="#808080" opacity="0.85"/></g></g></g></svg></g><line x1="664.1" y1="1051" x2="1196.1" y2="1051" stroke="#fff" stroke-width="2" stroke-dasharray="7.3 3.7"/><line x1="664.1" y1="1077" x2="1196.1" y2="1077" stroke="#fff" stroke-width="2" stroke-dasharray="7.3 3.7"/><rect x="1206" y="756.2" width="13.8" height="152.8" fill="url(#cbv)"/><path d="M1206,756.2 H1223.8 M1219.8,756.2 V909.0 M1206,909.0 H1223.8" stroke="#222" stroke-width="1" fill="none"/><line x1="1219.8" x2="1223.8" y1="794.4" y2="794.4" stroke="#222" stroke-width="1"/><line x1="1219.8" x2="1223.8" y1="832.6" y2="832.6" stroke="#222" stroke-width="1"/><line x1="1219.8" x2="1223.8" y1="870.8" y2="870.8" stroke="#222" stroke-width="1"/><text x="1229" y="764.6" font-family="Liberation Sans, sans-serif" font-size="22" fill="#000" stroke="#000" stroke-width="0.3">1</text><text x="1229" y="915.4" font-family="Liberation Sans, sans-serif" font-size="22" fill="#000" stroke="#000" stroke-width="0.3">0</text><text x="1203" y="739" font-family="Liberation Sans, sans-serif" font-size="22" fill="#000" stroke="#000" stroke-width="0.3">|<tspan font-style="italic" dx="1">E</tspan><tspan dx="1">|</tspan><tspan dy="-11" dx="2.5" font-size="13.5">2</tspan></text><rect x="1206" y="1009.4" width="13.8" height="110.6" fill="url(#cbv)"/><path d="M1206,1009.4 H1223.8 M1219.8,1009.4 V1120.0 M1206,1120.0 H1223.8" stroke="#222" stroke-width="1" fill="none"/><line x1="1219.8" x2="1223.8" y1="1037" y2="1037" stroke="#222" stroke-width="1"/><line x1="1219.8" x2="1223.8" y1="1064.7" y2="1064.7" stroke="#222" stroke-width="1"/><line x1="1219.8" x2="1223.8" y1="1092.4" y2="1092.4" stroke="#222" stroke-width="1"/><text x="1229" y="1018" font-family="Liberation Sans, sans-serif" font-size="22" fill="#000" stroke="#000" stroke-width="0.3">1</text><text x="1229" y="1073" font-family="Liberation Sans, sans-serif" font-size="22" fill="#000" stroke="#000" stroke-width="0.3">0</text><text x="1229.5" y="1126.4" font-family="Liberation Sans, sans-serif" font-size="22" fill="#000" stroke="#000" stroke-width="0.3">-1</text><text x="1203" y="998.6" font-family="Liberation Sans, sans-serif" font-size="22" fill="#000" stroke="#000" stroke-width="0.3">FVP</text>
</svg></div></body></html>
